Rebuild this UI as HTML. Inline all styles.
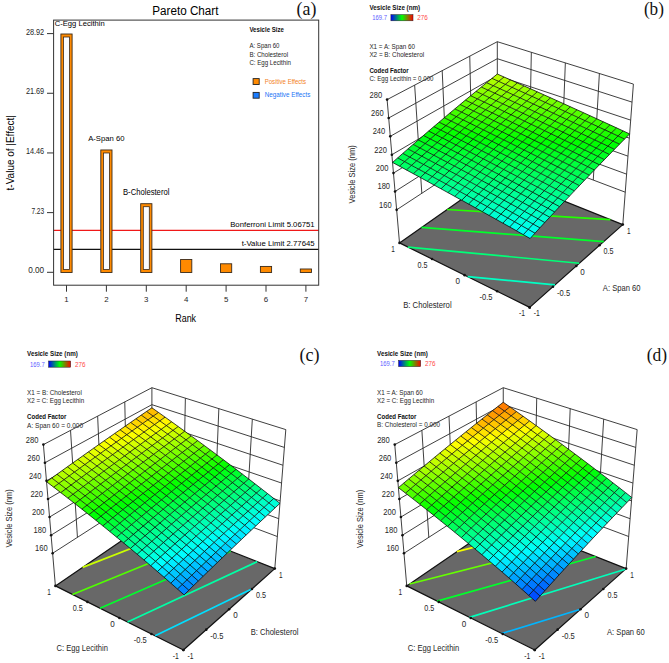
<!DOCTYPE html>
<html><head><meta charset="utf-8"><style>
html,body{margin:0;padding:0;background:#fff;}
svg{display:block;}
text{font-family:"Liberation Sans",sans-serif;}
</style></head><body>
<svg width="669" height="663" viewBox="0 0 669 663">
<defs><linearGradient id="cb" x1="0" x2="1" y1="0" y2="0">
<stop offset="0" stop-color="#0000ff"/><stop offset="0.25" stop-color="#007f80"/><stop offset="0.5" stop-color="#00ff00"/><stop offset="0.75" stop-color="#808000"/><stop offset="1" stop-color="#ff0000"/>
</linearGradient></defs>
<rect width="669" height="663" fill="#fff"/>
<line x1="53.6" y1="230.47" x2="318.7" y2="230.47" stroke="#f01818" stroke-width="1.2"/>
<line x1="53.6" y1="249.38" x2="318.7" y2="249.38" stroke="#111" stroke-width="1.3"/>
<rect x="60.90" y="34.00" width="11.2" height="238.50" fill="#ff8a00" stroke="#3a2a1a" stroke-width="0.9"/>
<rect x="63.50" y="37.00" width="6.0" height="232.50" fill="#fbfcff" stroke="#3a2a1a" stroke-width="0.8"/>
<rect x="100.80" y="149.97" width="11.2" height="122.53" fill="#ff8a00" stroke="#3a2a1a" stroke-width="0.9"/>
<rect x="103.40" y="152.97" width="6.0" height="116.53" fill="#fbfcff" stroke="#3a2a1a" stroke-width="0.8"/>
<rect x="140.70" y="203.70" width="11.2" height="68.80" fill="#ff8a00" stroke="#3a2a1a" stroke-width="0.9"/>
<rect x="143.30" y="206.70" width="6.0" height="62.80" fill="#fbfcff" stroke="#3a2a1a" stroke-width="0.8"/>
<rect x="180.60" y="259.49" width="11.2" height="13.01" fill="#ff8a00" stroke="#3a2a1a" stroke-width="0.9"/>
<rect x="220.50" y="263.79" width="11.2" height="8.71" fill="#ff8a00" stroke="#3a2a1a" stroke-width="0.9"/>
<rect x="260.40" y="266.43" width="11.2" height="6.07" fill="#ff8a00" stroke="#3a2a1a" stroke-width="0.9"/>
<rect x="300.30" y="268.99" width="11.2" height="3.51" fill="#ff8a00" stroke="#3a2a1a" stroke-width="0.9"/>
<rect x="53.6" y="20.1" width="265.10" height="265.10" fill="none" stroke="#333" stroke-width="1"/>
<line x1="47" y1="272.30" x2="53.6" y2="272.30" stroke="#333" stroke-width="1"/>
<text x="44.20" y="273.20" font-size="8.6" textLength="16.00" lengthAdjust="spacingAndGlyphs" text-anchor="end" fill="#262626">0.00</text>
<line x1="47" y1="212.62" x2="53.6" y2="212.62" stroke="#333" stroke-width="1"/>
<text x="44.20" y="213.53" font-size="8.6" textLength="12.80" lengthAdjust="spacingAndGlyphs" text-anchor="end" fill="#262626">7.23</text>
<line x1="47" y1="152.95" x2="53.6" y2="152.95" stroke="#333" stroke-width="1"/>
<text x="44.20" y="153.85" font-size="8.6" textLength="18.30" lengthAdjust="spacingAndGlyphs" text-anchor="end" fill="#262626">14.46</text>
<line x1="47" y1="93.27" x2="53.6" y2="93.27" stroke="#333" stroke-width="1"/>
<text x="44.20" y="94.17" font-size="8.6" textLength="18.30" lengthAdjust="spacingAndGlyphs" text-anchor="end" fill="#262626">21.69</text>
<line x1="47" y1="33.60" x2="53.6" y2="33.60" stroke="#333" stroke-width="1"/>
<text x="44.20" y="34.50" font-size="8.6" textLength="18.30" lengthAdjust="spacingAndGlyphs" text-anchor="end" fill="#262626">28.92</text>
<line x1="66.50" y1="285.2" x2="66.50" y2="291.7" stroke="#333" stroke-width="1"/>
<text x="66.50" y="302.20" font-size="7.9" text-anchor="middle" fill="#262626">1</text>
<line x1="106.40" y1="285.2" x2="106.40" y2="291.7" stroke="#333" stroke-width="1"/>
<text x="106.40" y="302.20" font-size="7.9" text-anchor="middle" fill="#262626">2</text>
<line x1="146.30" y1="285.2" x2="146.30" y2="291.7" stroke="#333" stroke-width="1"/>
<text x="146.30" y="302.20" font-size="7.9" text-anchor="middle" fill="#262626">3</text>
<line x1="186.20" y1="285.2" x2="186.20" y2="291.7" stroke="#333" stroke-width="1"/>
<text x="186.20" y="302.20" font-size="7.9" text-anchor="middle" fill="#262626">4</text>
<line x1="226.10" y1="285.2" x2="226.10" y2="291.7" stroke="#333" stroke-width="1"/>
<text x="226.10" y="302.20" font-size="7.9" text-anchor="middle" fill="#262626">5</text>
<line x1="266.00" y1="285.2" x2="266.00" y2="291.7" stroke="#333" stroke-width="1"/>
<text x="266.00" y="302.20" font-size="7.9" text-anchor="middle" fill="#262626">6</text>
<line x1="305.90" y1="285.2" x2="305.90" y2="291.7" stroke="#333" stroke-width="1"/>
<text x="305.90" y="302.20" font-size="7.9" text-anchor="middle" fill="#262626">7</text>
<text x="152.20" y="15.30" font-size="12.3" textLength="66.30" lengthAdjust="spacingAndGlyphs">Pareto Chart</text>
<text x="296.60" y="14.90" font-size="18.5" style="font-family:&quot;Liberation Serif&quot;,serif" textLength="19.80" lengthAdjust="spacingAndGlyphs" fill="#111">(a)</text>
<text x="54.70" y="25.60" font-size="7.8" textLength="50.00" lengthAdjust="spacingAndGlyphs">C-Egg Lecithin</text>
<text x="88.20" y="141.40" font-size="8.1" textLength="36.30" lengthAdjust="spacingAndGlyphs">A-Span 60</text>
<text x="123.00" y="194.70" font-size="8.2" textLength="46.40" lengthAdjust="spacingAndGlyphs">B-Cholesterol</text>
<text x="314.70" y="227.00" font-size="8.1" textLength="84.50" lengthAdjust="spacingAndGlyphs" text-anchor="end">Bonferroni Limit 5.06751</text>
<text x="314.70" y="245.60" font-size="8.1" textLength="73.00" lengthAdjust="spacingAndGlyphs" text-anchor="end">t-Value Limit 2.77645</text>
<text x="175.20" y="322.00" font-size="10.6" textLength="20.90" lengthAdjust="spacingAndGlyphs">Rank</text>
<text x="14.50" y="190.40" font-size="11.2" textLength="75.30" lengthAdjust="spacingAndGlyphs" transform="rotate(-90 14.50 190.40)">t-Value of |Effect|</text>
<text x="249.40" y="31.50" font-size="7.1" textLength="34.50" lengthAdjust="spacingAndGlyphs" fill="#111" font-weight="bold">Vesicle Size</text>
<text x="249.40" y="48.00" font-size="6.8" textLength="30.10" lengthAdjust="spacingAndGlyphs" fill="#262626">A: Span 60</text>
<text x="249.40" y="56.70" font-size="6.8" textLength="38.70" lengthAdjust="spacingAndGlyphs" fill="#262626">B: Cholesterol</text>
<text x="249.40" y="64.90" font-size="6.8" textLength="41.60" lengthAdjust="spacingAndGlyphs" fill="#262626">C: Egg Lecithin</text>
<rect x="253.1" y="78.6" width="6.1" height="5.9" fill="#ff8a00" stroke="#222" stroke-width="0.9"/>
<rect x="253.1" y="92.4" width="6.1" height="5.8" fill="#1a7cff" stroke="#222" stroke-width="0.9"/>
<text x="264.70" y="83.70" font-size="6.8" textLength="41.40" lengthAdjust="spacingAndGlyphs" fill="#f3821e">Positive Effects</text>
<text x="264.70" y="97.40" font-size="6.8" textLength="45.60" lengthAdjust="spacingAndGlyphs" fill="#2275f5">Negative Effects</text>
<polygon points="396.64,209.83 497.38,143.70 497.30,41.70 387.10,99.60" fill="#fff"/>
<line x1="396.64" y1="209.83" x2="497.38" y2="143.70" stroke="#2a2a2a" stroke-width="0.9"/>
<line x1="497.38" y1="143.70" x2="625.25" y2="192.18" stroke="#2a2a2a" stroke-width="0.9"/>
<line x1="395.05" y1="191.46" x2="497.36" y2="126.70" stroke="#2a2a2a" stroke-width="0.9"/>
<line x1="497.36" y1="126.70" x2="626.61" y2="174.16" stroke="#2a2a2a" stroke-width="0.9"/>
<line x1="393.46" y1="173.09" x2="497.35" y2="109.70" stroke="#2a2a2a" stroke-width="0.9"/>
<line x1="497.35" y1="109.70" x2="627.96" y2="156.15" stroke="#2a2a2a" stroke-width="0.9"/>
<line x1="391.87" y1="154.72" x2="497.34" y2="92.70" stroke="#2a2a2a" stroke-width="0.9"/>
<line x1="497.34" y1="92.70" x2="629.32" y2="138.14" stroke="#2a2a2a" stroke-width="0.9"/>
<line x1="390.28" y1="136.34" x2="497.33" y2="75.70" stroke="#2a2a2a" stroke-width="0.9"/>
<line x1="497.33" y1="75.70" x2="630.68" y2="120.13" stroke="#2a2a2a" stroke-width="0.9"/>
<line x1="388.69" y1="117.97" x2="497.31" y2="58.70" stroke="#2a2a2a" stroke-width="0.9"/>
<line x1="497.31" y1="58.70" x2="632.04" y2="102.11" stroke="#2a2a2a" stroke-width="0.9"/>
<line x1="387.10" y1="99.60" x2="497.30" y2="41.70" stroke="#2a2a2a" stroke-width="0.9"/>
<line x1="497.30" y1="41.70" x2="633.40" y2="84.10" stroke="#2a2a2a" stroke-width="0.9"/>
<line x1="421.82" y1="193.30" x2="414.65" y2="85.12" stroke="#2a2a2a" stroke-width="0.9"/>
<line x1="593.28" y1="180.06" x2="599.38" y2="73.50" stroke="#2a2a2a" stroke-width="0.9"/>
<line x1="447.01" y1="176.77" x2="442.20" y2="70.65" stroke="#2a2a2a" stroke-width="0.9"/>
<line x1="561.31" y1="167.94" x2="565.35" y2="62.90" stroke="#2a2a2a" stroke-width="0.9"/>
<line x1="472.19" y1="160.23" x2="469.75" y2="56.17" stroke="#2a2a2a" stroke-width="0.9"/>
<line x1="529.34" y1="155.82" x2="531.33" y2="52.30" stroke="#2a2a2a" stroke-width="0.9"/>
<line x1="399.50" y1="242.90" x2="387.10" y2="99.60" stroke="#2a2a2a" stroke-width="0.9"/>
<line x1="497.40" y1="174.30" x2="497.30" y2="41.70" stroke="#2a2a2a" stroke-width="0.9"/>
<line x1="622.80" y1="224.60" x2="633.40" y2="84.10" stroke="#2a2a2a" stroke-width="0.9"/>
<polygon points="529.70,307.40 622.80,224.60 497.40,174.30 399.50,242.90" fill="#686868" stroke="#111" stroke-width="1.2" stroke-linejoin="round"/>
<polyline points="554.97,284.92 467.64,276.65" fill="none" stroke="#00ffc3" stroke-width="1.7"/>
<polyline points="579.32,263.27 407.83,247.03" fill="none" stroke="#00ff77" stroke-width="1.7"/>
<polyline points="603.68,241.61 421.54,227.45" fill="none" stroke="#00ff2b" stroke-width="1.7"/>
<polyline points="610.43,219.64 447.15,209.51" fill="none" stroke="#22ff00" stroke-width="1.7"/>
<polyline points="552.83,196.53 472.76,191.57" fill="none" stroke="#6eff00" stroke-width="1.7"/>
<g stroke="none"><polygon points="530.11,238.52 534.99,233.17 528.20,229.36 523.30,234.66" fill="#00fffb"/><polygon points="523.30,234.66 528.20,229.36 521.39,225.55 516.48,230.81" fill="#00fff3"/><polygon points="516.48,230.81 521.39,225.55 514.58,221.75 509.66,226.97" fill="#00ffeb"/><polygon points="509.66,226.97 514.58,221.75 507.76,217.96 502.83,223.13" fill="#00ffe2"/><polygon points="502.83,223.13 507.76,217.96 500.93,214.16 495.99,219.30" fill="#00ffda"/><polygon points="495.99,219.30 500.93,214.16 494.10,210.38 489.15,215.47" fill="#00ffd2"/><polygon points="489.15,215.47 494.10,210.38 487.26,206.60 482.29,211.65" fill="#00ffc9"/><polygon points="482.29,211.65 487.26,206.60 480.41,202.82 475.43,207.83" fill="#00ffc1"/><polygon points="475.43,207.83 480.41,202.82 473.56,199.05 468.57,204.02" fill="#00ffb9"/><polygon points="468.57,204.02 473.56,199.05 466.69,195.29 461.69,200.22" fill="#00ffb1"/><polygon points="461.69,200.22 466.69,195.29 459.82,191.53 454.81,196.42" fill="#00ffa8"/><polygon points="454.81,196.42 459.82,191.53 452.95,187.77 447.92,192.62" fill="#00ffa0"/><polygon points="447.92,192.62 452.95,187.77 446.06,184.03 441.02,188.83" fill="#00ff98"/><polygon points="441.02,188.83 446.06,184.03 439.17,180.28 434.12,185.05" fill="#00ff8f"/><polygon points="434.12,185.05 439.17,180.28 432.27,176.54 427.21,181.27" fill="#00ff87"/><polygon points="427.21,181.27 432.27,176.54 425.36,172.81 420.29,177.49" fill="#00ff7f"/><polygon points="420.29,177.49 425.36,172.81 418.45,169.08 413.36,173.72" fill="#00ff76"/><polygon points="413.36,173.72 418.45,169.08 411.53,165.36 406.43,169.96" fill="#00ff6e"/><polygon points="406.43,169.96 411.53,165.36 404.60,161.64 399.49,166.20" fill="#00ff66"/><polygon points="399.49,166.20 404.60,161.64 397.66,157.93 392.54,162.45" fill="#00ff5e"/><polygon points="534.99,233.17 539.89,227.84 533.10,224.07 528.20,229.36" fill="#00ffed"/><polygon points="528.20,229.36 533.10,224.07 526.31,220.31 521.39,225.55" fill="#00ffe4"/><polygon points="521.39,225.55 526.31,220.31 519.51,216.55 514.58,221.75" fill="#00ffdc"/><polygon points="514.58,221.75 519.51,216.55 512.70,212.79 507.76,217.96" fill="#00ffd4"/><polygon points="507.76,217.96 512.70,212.79 505.89,209.04 500.93,214.16" fill="#00ffcb"/><polygon points="500.93,214.16 505.89,209.04 499.07,205.30 494.10,210.38" fill="#00ffc3"/><polygon points="494.10,210.38 499.07,205.30 492.24,201.56 487.26,206.60" fill="#00ffbb"/><polygon points="487.26,206.60 492.24,201.56 485.40,197.82 480.41,202.82" fill="#00ffb3"/><polygon points="480.41,202.82 485.40,197.82 478.56,194.09 473.56,199.05" fill="#00ffaa"/><polygon points="473.56,199.05 478.56,194.09 471.71,190.37 466.69,195.29" fill="#00ffa2"/><polygon points="466.69,195.29 471.71,190.37 464.85,186.65 459.82,191.53" fill="#00ff9a"/><polygon points="459.82,191.53 464.85,186.65 457.98,182.94 452.95,187.77" fill="#00ff91"/><polygon points="452.95,187.77 457.98,182.94 451.11,179.23 446.06,184.03" fill="#00ff89"/><polygon points="446.06,184.03 451.11,179.23 444.23,175.53 439.17,180.28" fill="#00ff81"/><polygon points="439.17,180.28 444.23,175.53 437.34,171.83 432.27,176.54" fill="#00ff78"/><polygon points="432.27,176.54 437.34,171.83 430.45,168.14 425.36,172.81" fill="#00ff70"/><polygon points="425.36,172.81 430.45,168.14 423.55,164.45 418.45,169.08" fill="#00ff68"/><polygon points="418.45,169.08 423.55,164.45 416.64,160.77 411.53,165.36" fill="#00ff60"/><polygon points="411.53,165.36 416.64,160.77 409.72,157.09 404.60,161.64" fill="#00ff57"/><polygon points="404.60,161.64 409.72,157.09 402.80,153.42 397.66,157.93" fill="#00ff4f"/><polygon points="539.89,227.84 544.79,222.52 538.02,218.79 533.10,224.07" fill="#00ffde"/><polygon points="533.10,224.07 538.02,218.79 531.24,215.07 526.31,220.31" fill="#00ffd6"/><polygon points="526.31,220.31 531.24,215.07 524.45,211.35 519.51,216.55" fill="#00ffce"/><polygon points="519.51,216.55 524.45,211.35 517.66,207.64 512.70,212.79" fill="#00ffc5"/><polygon points="512.70,212.79 517.66,207.64 510.85,203.93 505.89,209.04" fill="#00ffbd"/><polygon points="505.89,209.04 510.85,203.93 504.04,200.22 499.07,205.30" fill="#00ffb5"/><polygon points="499.07,205.30 504.04,200.22 497.23,196.53 492.24,201.56" fill="#00ffac"/><polygon points="492.24,201.56 497.23,196.53 490.40,192.83 485.40,197.82" fill="#00ffa4"/><polygon points="485.40,197.82 490.40,192.83 483.57,189.15 478.56,194.09" fill="#00ff9c"/><polygon points="478.56,194.09 483.57,189.15 476.73,185.46 471.71,190.37" fill="#00ff93"/><polygon points="471.71,190.37 476.73,185.46 469.89,181.79 464.85,186.65" fill="#00ff8b"/><polygon points="464.85,186.65 469.89,181.79 463.03,178.11 457.98,182.94" fill="#00ff83"/><polygon points="457.98,182.94 463.03,178.11 456.17,174.45 451.11,179.23" fill="#00ff7b"/><polygon points="451.11,179.23 456.17,174.45 449.30,170.78 444.23,175.53" fill="#00ff72"/><polygon points="444.23,175.53 449.30,170.78 442.43,167.13 437.34,171.83" fill="#00ff6a"/><polygon points="437.34,171.83 442.43,167.13 435.55,163.48 430.45,168.14" fill="#00ff62"/><polygon points="430.45,168.14 435.55,163.48 428.66,159.83 423.55,164.45" fill="#00ff59"/><polygon points="423.55,164.45 428.66,159.83 421.76,156.19 416.64,160.77" fill="#00ff51"/><polygon points="416.64,160.77 421.76,156.19 414.86,152.55 409.72,157.09" fill="#00ff49"/><polygon points="409.72,157.09 414.86,152.55 407.95,148.92 402.80,153.42" fill="#00ff40"/><polygon points="544.79,222.52 549.71,217.22 542.95,213.53 538.02,218.79" fill="#00ffd0"/><polygon points="538.02,218.79 542.95,213.53 536.18,209.84 531.24,215.07" fill="#00ffc7"/><polygon points="531.24,215.07 536.18,209.84 529.40,206.17 524.45,211.35" fill="#00ffbf"/><polygon points="524.45,211.35 529.40,206.17 522.62,202.49 517.66,207.64" fill="#00ffb7"/><polygon points="517.66,207.64 522.62,202.49 515.83,198.83 510.85,203.93" fill="#00ffae"/><polygon points="510.85,203.93 515.83,198.83 509.03,195.16 504.04,200.22" fill="#00ffa6"/><polygon points="504.04,200.22 509.03,195.16 502.22,191.51 497.23,196.53" fill="#00ff9e"/><polygon points="497.23,196.53 502.22,191.51 495.41,187.86 490.40,192.83" fill="#00ff95"/><polygon points="490.40,192.83 495.41,187.86 488.59,184.21 483.57,189.15" fill="#00ff8d"/><polygon points="483.57,189.15 488.59,184.21 481.77,180.57 476.73,185.46" fill="#00ff85"/><polygon points="476.73,185.46 481.77,180.57 474.93,176.93 469.89,181.79" fill="#00ff7d"/><polygon points="469.89,181.79 474.93,176.93 468.09,173.30 463.03,178.11" fill="#00ff74"/><polygon points="463.03,178.11 468.09,173.30 461.24,169.67 456.17,174.45" fill="#00ff6c"/><polygon points="456.17,174.45 461.24,169.67 454.39,166.05 449.30,170.78" fill="#00ff64"/><polygon points="449.30,170.78 454.39,166.05 447.53,162.44 442.43,167.13" fill="#00ff5b"/><polygon points="442.43,167.13 447.53,162.44 440.66,158.83 435.55,163.48" fill="#00ff53"/><polygon points="435.55,163.48 440.66,158.83 433.78,155.22 428.66,159.83" fill="#00ff4b"/><polygon points="428.66,159.83 433.78,155.22 426.90,151.62 421.76,156.19" fill="#00ff42"/><polygon points="421.76,156.19 426.90,151.62 420.01,148.02 414.86,152.55" fill="#00ff3a"/><polygon points="414.86,152.55 420.01,148.02 413.11,144.43 407.95,148.92" fill="#00ff32"/><polygon points="549.71,217.22 554.63,211.92 547.88,208.27 542.95,213.53" fill="#00ffc1"/><polygon points="542.95,213.53 547.88,208.27 541.13,204.63 536.18,209.84" fill="#00ffb9"/><polygon points="536.18,209.84 541.13,204.63 534.36,201.00 529.40,206.17" fill="#00ffb0"/><polygon points="529.40,206.17 534.36,201.00 527.59,197.36 522.62,202.49" fill="#00ffa8"/><polygon points="522.62,202.49 527.59,197.36 520.81,193.74 515.83,198.83" fill="#00ffa0"/><polygon points="515.83,198.83 520.81,193.74 514.02,190.12 509.03,195.16" fill="#00ff97"/><polygon points="509.03,195.16 514.02,190.12 507.23,186.50 502.22,191.51" fill="#00ff8f"/><polygon points="502.22,191.51 507.23,186.50 500.43,182.89 495.41,187.86" fill="#00ff87"/><polygon points="495.41,187.86 500.43,182.89 493.62,179.28 488.59,184.21" fill="#00ff7f"/><polygon points="488.59,184.21 493.62,179.28 486.81,175.68 481.77,180.57" fill="#00ff76"/><polygon points="481.77,180.57 486.81,175.68 479.99,172.09 474.93,176.93" fill="#00ff6e"/><polygon points="474.93,176.93 479.99,172.09 473.16,168.50 468.09,173.30" fill="#00ff66"/><polygon points="468.09,173.30 473.16,168.50 466.33,164.91 461.24,169.67" fill="#00ff5d"/><polygon points="461.24,169.67 466.33,164.91 459.49,161.33 454.39,166.05" fill="#00ff55"/><polygon points="454.39,166.05 459.49,161.33 452.64,157.76 447.53,162.44" fill="#00ff4d"/><polygon points="447.53,162.44 452.64,157.76 445.78,154.19 440.66,158.83" fill="#00ff44"/><polygon points="440.66,158.83 445.78,154.19 438.92,150.62 433.78,155.22" fill="#00ff3c"/><polygon points="433.78,155.22 438.92,150.62 432.05,147.06 426.90,151.62" fill="#00ff34"/><polygon points="426.90,151.62 432.05,147.06 425.17,143.51 420.01,148.02" fill="#00ff2c"/><polygon points="420.01,148.02 425.17,143.51 418.29,139.96 413.11,144.43" fill="#00ff23"/><polygon points="554.63,211.92 559.57,206.64 552.83,203.03 547.88,208.27" fill="#00ffb2"/><polygon points="547.88,208.27 552.83,203.03 546.08,199.43 541.13,204.63" fill="#00ffaa"/><polygon points="541.13,204.63 546.08,199.43 539.33,195.84 534.36,201.00" fill="#00ffa2"/><polygon points="534.36,201.00 539.33,195.84 532.57,192.25 527.59,197.36" fill="#00ff99"/><polygon points="527.59,197.36 532.57,192.25 525.80,188.66 520.81,193.74" fill="#00ff91"/><polygon points="520.81,193.74 525.80,188.66 519.03,185.08 514.02,190.12" fill="#00ff89"/><polygon points="514.02,190.12 519.03,185.08 512.25,181.51 507.23,186.50" fill="#00ff81"/><polygon points="507.23,186.50 512.25,181.51 505.46,177.94 500.43,182.89" fill="#00ff78"/><polygon points="500.43,182.89 505.46,177.94 498.67,174.37 493.62,179.28" fill="#00ff70"/><polygon points="493.62,179.28 498.67,174.37 491.87,170.81 486.81,175.68" fill="#00ff68"/><polygon points="486.81,175.68 491.87,170.81 485.06,167.26 479.99,172.09" fill="#00ff5f"/><polygon points="479.99,172.09 485.06,167.26 478.24,163.71 473.16,168.50" fill="#00ff57"/><polygon points="473.16,168.50 478.24,163.71 471.42,160.16 466.33,164.91" fill="#00ff4f"/><polygon points="466.33,164.91 471.42,160.16 464.59,156.62 459.49,161.33" fill="#00ff46"/><polygon points="459.49,161.33 464.59,156.62 457.76,153.09 452.64,157.76" fill="#00ff3e"/><polygon points="452.64,157.76 457.76,153.09 450.91,149.56 445.78,154.19" fill="#00ff36"/><polygon points="445.78,154.19 450.91,149.56 444.06,146.03 438.92,150.62" fill="#00ff2e"/><polygon points="438.92,150.62 444.06,146.03 437.21,142.51 432.05,147.06" fill="#00ff25"/><polygon points="432.05,147.06 437.21,142.51 430.34,139.00 425.17,143.51" fill="#00ff1d"/><polygon points="425.17,143.51 430.34,139.00 423.47,135.49 418.29,139.96" fill="#00ff15"/><polygon points="559.57,206.64 564.51,201.37 557.79,197.80 552.83,203.03" fill="#00ffa4"/><polygon points="552.83,203.03 557.79,197.80 551.05,194.24 546.08,199.43" fill="#00ff9c"/><polygon points="546.08,199.43 551.05,194.24 544.31,190.69 539.33,195.84" fill="#00ff93"/><polygon points="539.33,195.84 544.31,190.69 537.56,187.14 532.57,192.25" fill="#00ff8b"/><polygon points="532.57,192.25 537.56,187.14 530.81,183.59 525.80,188.66" fill="#00ff83"/><polygon points="525.80,188.66 530.81,183.59 524.05,180.06 519.03,185.08" fill="#00ff7a"/><polygon points="519.03,185.08 524.05,180.06 517.28,176.52 512.25,181.51" fill="#00ff72"/><polygon points="512.25,181.51 517.28,176.52 510.50,172.99 505.46,177.94" fill="#00ff6a"/><polygon points="505.46,177.94 510.50,172.99 503.72,169.47 498.67,174.37" fill="#00ff61"/><polygon points="498.67,174.37 503.72,169.47 496.93,165.95 491.87,170.81" fill="#00ff59"/><polygon points="491.87,170.81 496.93,165.95 490.14,162.43 485.06,167.26" fill="#00ff51"/><polygon points="485.06,167.26 490.14,162.43 483.34,158.92 478.24,163.71" fill="#00ff49"/><polygon points="478.24,163.71 483.34,158.92 476.53,155.42 471.42,160.16" fill="#00ff40"/><polygon points="471.42,160.16 476.53,155.42 469.71,151.92 464.59,156.62" fill="#00ff38"/><polygon points="464.59,156.62 469.71,151.92 462.89,148.43 457.76,153.09" fill="#00ff30"/><polygon points="457.76,153.09 462.89,148.43 456.06,144.94 450.91,149.56" fill="#00ff27"/><polygon points="450.91,149.56 456.06,144.94 449.22,141.45 444.06,146.03" fill="#00ff1f"/><polygon points="444.06,146.03 449.22,141.45 442.38,137.97 437.21,142.51" fill="#00ff17"/><polygon points="437.21,142.51 442.38,137.97 435.53,134.50 430.34,139.00" fill="#00ff0e"/><polygon points="430.34,139.00 435.53,134.50 428.67,131.03 423.47,135.49" fill="#00ff06"/><polygon points="564.51,201.37 569.47,196.11 562.75,192.58 557.79,197.80" fill="#00ff95"/><polygon points="557.79,197.80 562.75,192.58 556.03,189.07 551.05,194.24" fill="#00ff8d"/><polygon points="551.05,194.24 556.03,189.07 549.30,185.55 544.31,190.69" fill="#00ff85"/><polygon points="544.31,190.69 549.30,185.55 542.57,182.04 537.56,187.14" fill="#00ff7c"/><polygon points="537.56,187.14 542.57,182.04 535.82,178.54 530.81,183.59" fill="#00ff74"/><polygon points="530.81,183.59 535.82,178.54 529.07,175.04 524.05,180.06" fill="#00ff6c"/><polygon points="524.05,180.06 529.07,175.04 522.32,171.55 517.28,176.52" fill="#00ff63"/><polygon points="517.28,176.52 522.32,171.55 515.56,168.06 510.50,172.99" fill="#00ff5b"/><polygon points="510.50,172.99 515.56,168.06 508.79,164.58 503.72,169.47" fill="#00ff53"/><polygon points="503.72,169.47 508.79,164.58 502.01,161.10 496.93,165.95" fill="#00ff4b"/><polygon points="496.93,165.95 502.01,161.10 495.23,157.62 490.14,162.43" fill="#00ff42"/><polygon points="490.14,162.43 495.23,157.62 488.44,154.16 483.34,158.92" fill="#00ff3a"/><polygon points="483.34,158.92 488.44,154.16 481.64,150.69 476.53,155.42" fill="#00ff32"/><polygon points="476.53,155.42 481.64,150.69 474.84,147.23 469.71,151.92" fill="#00ff29"/><polygon points="469.71,151.92 474.84,147.23 468.03,143.78 462.89,148.43" fill="#00ff21"/><polygon points="462.89,148.43 468.03,143.78 461.21,140.33 456.06,144.94" fill="#00ff19"/><polygon points="456.06,144.94 461.21,140.33 454.39,136.89 449.22,141.45" fill="#00ff10"/><polygon points="449.22,141.45 454.39,136.89 447.56,133.45 442.38,137.97" fill="#00ff08"/><polygon points="442.38,137.97 447.56,133.45 440.72,130.01 435.53,134.50" fill="#00ff00"/><polygon points="435.53,134.50 440.72,130.01 433.88,126.58 428.67,131.03" fill="#08ff00"/><polygon points="569.47,196.11 574.43,190.86 567.73,187.38 562.75,192.58" fill="#00ff87"/><polygon points="562.75,192.58 567.73,187.38 561.02,183.90 556.03,189.07" fill="#00ff7e"/><polygon points="556.03,189.07 561.02,183.90 554.30,180.43 549.30,185.55" fill="#00ff76"/><polygon points="549.30,185.55 554.30,180.43 547.58,176.96 542.57,182.04" fill="#00ff6e"/><polygon points="542.57,182.04 547.58,176.96 540.85,173.50 535.82,178.54" fill="#00ff65"/><polygon points="535.82,178.54 540.85,173.50 534.11,170.04 529.07,175.04" fill="#00ff5d"/><polygon points="529.07,175.04 534.11,170.04 527.37,166.59 522.32,171.55" fill="#00ff55"/><polygon points="522.32,171.55 527.37,166.59 520.62,163.14 515.56,168.06" fill="#00ff4d"/><polygon points="515.56,168.06 520.62,163.14 513.86,159.70 508.79,164.58" fill="#00ff44"/><polygon points="508.79,164.58 513.86,159.70 507.10,156.26 502.01,161.10" fill="#00ff3c"/><polygon points="502.01,161.10 507.10,156.26 500.33,152.83 495.23,157.62" fill="#00ff34"/><polygon points="495.23,157.62 500.33,152.83 493.55,149.40 488.44,154.16" fill="#00ff2b"/><polygon points="488.44,154.16 493.55,149.40 486.77,145.97 481.64,150.69" fill="#00ff23"/><polygon points="481.64,150.69 486.77,145.97 479.98,142.56 474.84,147.23" fill="#00ff1b"/><polygon points="474.84,147.23 479.98,142.56 473.18,139.14 468.03,143.78" fill="#00ff12"/><polygon points="468.03,143.78 473.18,139.14 466.38,135.73 461.21,140.33" fill="#00ff0a"/><polygon points="461.21,140.33 466.38,135.73 459.57,132.33 454.39,136.89" fill="#00ff02"/><polygon points="454.39,136.89 459.57,132.33 452.75,128.93 447.56,133.45" fill="#06ff00"/><polygon points="447.56,133.45 452.75,128.93 445.93,125.54 440.72,130.01" fill="#0fff00"/><polygon points="440.72,130.01 445.93,125.54 439.10,122.15 433.88,126.58" fill="#17ff00"/><polygon points="574.43,190.86 579.40,185.63 572.71,182.18 567.73,187.38" fill="#00ff78"/><polygon points="567.73,187.38 572.71,182.18 566.01,178.75 561.02,183.90" fill="#00ff70"/><polygon points="561.02,183.90 566.01,178.75 559.31,175.32 554.30,180.43" fill="#00ff67"/><polygon points="554.30,180.43 559.31,175.32 552.60,171.89 547.58,176.96" fill="#00ff5f"/><polygon points="547.58,176.96 552.60,171.89 545.88,168.47 540.85,173.50" fill="#00ff57"/><polygon points="540.85,173.50 545.88,168.47 539.16,165.05 534.11,170.04" fill="#00ff4f"/><polygon points="534.11,170.04 539.16,165.05 532.43,161.64 527.37,166.59" fill="#00ff46"/><polygon points="527.37,166.59 532.43,161.64 525.69,158.23 520.62,163.14" fill="#00ff3e"/><polygon points="520.62,163.14 525.69,158.23 518.95,154.83 513.86,159.70" fill="#00ff36"/><polygon points="513.86,159.70 518.95,154.83 512.20,151.43 507.10,156.26" fill="#00ff2d"/><polygon points="507.10,156.26 512.20,151.43 505.44,148.04 500.33,152.83" fill="#00ff25"/><polygon points="500.33,152.83 505.44,148.04 498.68,144.65 493.55,149.40" fill="#00ff1d"/><polygon points="493.55,149.40 498.68,144.65 491.91,141.27 486.77,145.97" fill="#00ff14"/><polygon points="486.77,145.97 491.91,141.27 485.13,137.89 479.98,142.56" fill="#00ff0c"/><polygon points="479.98,142.56 485.13,137.89 478.35,134.52 473.18,139.14" fill="#00ff04"/><polygon points="473.18,139.14 478.35,134.52 471.56,131.15 466.38,135.73" fill="#04ff00"/><polygon points="466.38,135.73 471.56,131.15 464.76,127.78 459.57,132.33" fill="#0dff00"/><polygon points="459.57,132.33 464.76,127.78 457.96,124.42 452.75,128.93" fill="#15ff00"/><polygon points="452.75,128.93 457.96,124.42 451.15,121.07 445.93,125.54" fill="#1dff00"/><polygon points="445.93,125.54 451.15,121.07 444.33,117.72 439.10,122.15" fill="#26ff00"/><polygon points="579.40,185.63 584.38,180.40 577.70,177.00 572.71,182.18" fill="#00ff6a"/><polygon points="572.71,182.18 577.70,177.00 571.02,173.61 566.01,178.75" fill="#00ff61"/><polygon points="566.01,178.75 571.02,173.61 564.33,170.22 559.31,175.32" fill="#00ff59"/><polygon points="559.31,175.32 564.33,170.22 557.63,166.83 552.60,171.89" fill="#00ff51"/><polygon points="552.60,171.89 557.63,166.83 550.93,163.45 545.88,168.47" fill="#00ff48"/><polygon points="545.88,168.47 550.93,163.45 544.22,160.07 539.16,165.05" fill="#00ff40"/><polygon points="539.16,165.05 544.22,160.07 537.50,156.70 532.43,161.64" fill="#00ff38"/><polygon points="532.43,161.64 537.50,156.70 530.78,153.33 525.69,158.23" fill="#00ff2f"/><polygon points="525.69,158.23 530.78,153.33 524.05,149.97 518.95,154.83" fill="#00ff27"/><polygon points="518.95,154.83 524.05,149.97 517.31,146.61 512.20,151.43" fill="#00ff1f"/><polygon points="512.20,151.43 517.31,146.61 510.57,143.26 505.44,148.04" fill="#00ff17"/><polygon points="505.44,148.04 510.57,143.26 503.82,139.91 498.68,144.65" fill="#00ff0e"/><polygon points="498.68,144.65 503.82,139.91 497.06,136.57 491.91,141.27" fill="#00ff06"/><polygon points="491.91,141.27 497.06,136.57 490.30,133.23 485.13,137.89" fill="#02ff00"/><polygon points="485.13,137.89 490.30,133.23 483.53,129.90 478.35,134.52" fill="#0bff00"/><polygon points="478.35,134.52 483.53,129.90 476.75,126.57 471.56,131.15" fill="#13ff00"/><polygon points="471.56,131.15 476.75,126.57 469.97,123.25 464.76,127.78" fill="#1bff00"/><polygon points="464.76,127.78 469.97,123.25 463.18,119.93 457.96,124.42" fill="#24ff00"/><polygon points="457.96,124.42 463.18,119.93 456.38,116.61 451.15,121.07" fill="#2cff00"/><polygon points="451.15,121.07 456.38,116.61 449.58,113.31 444.33,117.72" fill="#34ff00"/><polygon points="584.38,180.40 589.37,175.19 582.71,171.83 577.70,177.00" fill="#00ff5b"/><polygon points="577.70,177.00 582.71,171.83 576.04,168.48 571.02,173.61" fill="#00ff53"/><polygon points="571.02,173.61 576.04,168.48 569.36,165.13 564.33,170.22" fill="#00ff4a"/><polygon points="564.33,170.22 569.36,165.13 562.67,161.78 557.63,166.83" fill="#00ff42"/><polygon points="557.63,166.83 562.67,161.78 555.98,158.44 550.93,163.45" fill="#00ff3a"/><polygon points="550.93,163.45 555.98,158.44 549.28,155.10 544.22,160.07" fill="#00ff31"/><polygon points="544.22,160.07 549.28,155.10 542.58,151.77 537.50,156.70" fill="#00ff29"/><polygon points="537.50,156.70 542.58,151.77 535.87,148.45 530.78,153.33" fill="#00ff21"/><polygon points="530.78,153.33 535.87,148.45 529.15,145.13 524.05,149.97" fill="#00ff19"/><polygon points="524.05,149.97 529.15,145.13 522.43,141.81 517.31,146.61" fill="#00ff10"/><polygon points="517.31,146.61 522.43,141.81 515.70,138.50 510.57,143.26" fill="#00ff08"/><polygon points="510.57,143.26 515.70,138.50 508.96,135.19 503.82,139.91" fill="#00ff00"/><polygon points="503.82,139.91 508.96,135.19 502.22,131.89 497.06,136.57" fill="#09ff00"/><polygon points="497.06,136.57 502.22,131.89 495.47,128.59 490.30,133.23" fill="#11ff00"/><polygon points="490.30,133.23 495.47,128.59 488.71,125.29 483.53,129.90" fill="#19ff00"/><polygon points="483.53,129.90 488.71,125.29 481.95,122.01 476.75,126.57" fill="#22ff00"/><polygon points="476.75,126.57 481.95,122.01 475.18,118.72 469.97,123.25" fill="#2aff00"/><polygon points="469.97,123.25 475.18,118.72 468.41,115.44 463.18,119.93" fill="#32ff00"/><polygon points="463.18,119.93 468.41,115.44 461.62,112.17 456.38,116.61" fill="#3aff00"/><polygon points="456.38,116.61 461.62,112.17 454.84,108.90 449.58,113.31" fill="#43ff00"/><polygon points="589.37,175.19 594.37,169.99 587.72,166.67 582.71,171.83" fill="#00ff4c"/><polygon points="582.71,171.83 587.72,166.67 581.06,163.36 576.04,168.48" fill="#00ff44"/><polygon points="576.04,168.48 581.06,163.36 574.40,160.05 569.36,165.13" fill="#00ff3c"/><polygon points="569.36,165.13 574.40,160.05 567.73,156.75 562.67,161.78" fill="#00ff33"/><polygon points="562.67,161.78 567.73,156.75 561.05,153.44 555.98,158.44" fill="#00ff2b"/><polygon points="555.98,158.44 561.05,153.44 554.36,150.15 549.28,155.10" fill="#00ff23"/><polygon points="549.28,155.10 554.36,150.15 547.67,146.86 542.58,151.77" fill="#00ff1b"/><polygon points="542.58,151.77 547.67,146.86 540.97,143.57 535.87,148.45" fill="#00ff12"/><polygon points="535.87,148.45 540.97,143.57 534.27,140.29 529.15,145.13" fill="#00ff0a"/><polygon points="529.15,145.13 534.27,140.29 527.56,137.01 522.43,141.81" fill="#00ff02"/><polygon points="522.43,141.81 527.56,137.01 520.84,133.74 515.70,138.50" fill="#07ff00"/><polygon points="515.70,138.50 520.84,133.74 514.12,130.47 508.96,135.19" fill="#0fff00"/><polygon points="508.96,135.19 514.12,130.47 507.39,127.21 502.22,131.89" fill="#17ff00"/><polygon points="502.22,131.89 507.39,127.21 500.66,123.95 495.47,128.59" fill="#20ff00"/><polygon points="495.47,128.59 500.66,123.95 493.91,120.70 488.71,125.29" fill="#28ff00"/><polygon points="488.71,125.29 493.91,120.70 487.16,117.45 481.95,122.01" fill="#30ff00"/><polygon points="481.95,122.01 487.16,117.45 480.41,114.21 475.18,118.72" fill="#38ff00"/><polygon points="475.18,118.72 480.41,114.21 473.65,110.97 468.41,115.44" fill="#41ff00"/><polygon points="468.41,115.44 473.65,110.97 466.88,107.74 461.62,112.17" fill="#49ff00"/><polygon points="461.62,112.17 466.88,107.74 460.10,104.51 454.84,108.90" fill="#51ff00"/><polygon points="594.37,169.99 599.38,164.81 592.74,161.53 587.72,166.67" fill="#00ff3e"/><polygon points="587.72,166.67 592.74,161.53 586.10,158.25 581.06,163.36" fill="#00ff35"/><polygon points="581.06,163.36 586.10,158.25 579.45,154.99 574.40,160.05" fill="#00ff2d"/><polygon points="574.40,160.05 579.45,154.99 572.79,151.72 567.73,156.75" fill="#00ff25"/><polygon points="567.73,156.75 572.79,151.72 566.12,148.46 561.05,153.44" fill="#00ff1d"/><polygon points="561.05,153.44 566.12,148.46 559.45,145.21 554.36,150.15" fill="#00ff14"/><polygon points="554.36,150.15 559.45,145.21 552.77,141.95 547.67,146.86" fill="#00ff0c"/><polygon points="547.67,146.86 552.77,141.95 546.09,138.71 540.97,143.57" fill="#00ff04"/><polygon points="540.97,143.57 546.09,138.71 539.40,135.47 534.27,140.29" fill="#05ff00"/><polygon points="534.27,140.29 539.40,135.47 532.70,132.23 527.56,137.01" fill="#0dff00"/><polygon points="527.56,137.01 532.70,132.23 526.00,129.00 520.84,133.74" fill="#15ff00"/><polygon points="520.84,133.74 526.00,129.00 519.29,125.77 514.12,130.47" fill="#1eff00"/><polygon points="514.12,130.47 519.29,125.77 512.57,122.55 507.39,127.21" fill="#26ff00"/><polygon points="507.39,127.21 512.57,122.55 505.85,119.33 500.66,123.95" fill="#2eff00"/><polygon points="500.66,123.95 505.85,119.33 499.12,116.12 493.91,120.70" fill="#36ff00"/><polygon points="493.91,120.70 499.12,116.12 492.39,112.91 487.16,117.45" fill="#3fff00"/><polygon points="487.16,117.45 492.39,112.91 485.65,109.71 480.41,114.21" fill="#47ff00"/><polygon points="480.41,114.21 485.65,109.71 478.90,106.51 473.65,110.97" fill="#4fff00"/><polygon points="473.65,110.97 478.90,106.51 472.15,103.31 466.88,107.74" fill="#58ff00"/><polygon points="466.88,107.74 472.15,103.31 465.39,100.12 460.10,104.51" fill="#60ff00"/><polygon points="599.38,164.81 604.40,159.63 597.78,156.39 592.74,161.53" fill="#00ff2f"/><polygon points="592.74,161.53 597.78,156.39 591.14,153.16 586.10,158.25" fill="#00ff27"/><polygon points="586.10,158.25 591.14,153.16 584.50,149.93 579.45,154.99" fill="#00ff1f"/><polygon points="579.45,154.99 584.50,149.93 577.86,146.71 572.79,151.72" fill="#00ff16"/><polygon points="572.79,151.72 577.86,146.71 571.21,143.49 566.12,148.46" fill="#00ff0e"/><polygon points="566.12,148.46 571.21,143.49 564.55,140.27 559.45,145.21" fill="#00ff06"/><polygon points="559.45,145.21 564.55,140.27 557.89,137.06 552.77,141.95" fill="#03ff00"/><polygon points="552.77,141.95 557.89,137.06 551.21,133.86 546.09,138.71" fill="#0bff00"/><polygon points="546.09,138.71 551.21,133.86 544.54,130.66 539.40,135.47" fill="#13ff00"/><polygon points="539.40,135.47 544.54,130.66 537.86,127.46 532.70,132.23" fill="#1bff00"/><polygon points="532.70,132.23 537.86,127.46 531.17,124.27 526.00,129.00" fill="#24ff00"/><polygon points="526.00,129.00 531.17,124.27 524.47,121.08 519.29,125.77" fill="#2cff00"/><polygon points="519.29,125.77 524.47,121.08 517.77,117.90 512.57,122.55" fill="#34ff00"/><polygon points="512.57,122.55 517.77,117.90 511.06,114.72 505.85,119.33" fill="#3dff00"/><polygon points="505.85,119.33 511.06,114.72 504.35,111.55 499.12,116.12" fill="#45ff00"/><polygon points="499.12,116.12 504.35,111.55 497.62,108.38 492.39,112.91" fill="#4dff00"/><polygon points="492.39,112.91 497.62,108.38 490.90,105.21 485.65,109.71" fill="#56ff00"/><polygon points="485.65,109.71 490.90,105.21 484.16,102.05 478.90,106.51" fill="#5eff00"/><polygon points="478.90,106.51 484.16,102.05 477.42,98.90 472.15,103.31" fill="#66ff00"/><polygon points="472.15,103.31 477.42,98.90 470.68,95.75 465.39,100.12" fill="#6eff00"/><polygon points="604.40,159.63 609.43,154.47 602.82,151.27 597.78,156.39" fill="#00ff21"/><polygon points="597.78,156.39 602.82,151.27 596.20,148.08 591.14,153.16" fill="#00ff18"/><polygon points="591.14,153.16 596.20,148.08 589.57,144.89 584.50,149.93" fill="#00ff10"/><polygon points="584.50,149.93 589.57,144.89 582.94,141.71 577.86,146.71" fill="#00ff08"/><polygon points="577.86,146.71 582.94,141.71 576.30,138.53 571.21,143.49" fill="#01ff00"/><polygon points="571.21,143.49 576.30,138.53 569.66,135.35 564.55,140.27" fill="#09ff00"/><polygon points="564.55,140.27 569.66,135.35 563.01,132.18 557.89,137.06" fill="#11ff00"/><polygon points="557.89,137.06 563.01,132.18 556.35,129.02 551.21,133.86" fill="#19ff00"/><polygon points="551.21,133.86 556.35,129.02 549.69,125.86 544.54,130.66" fill="#22ff00"/><polygon points="544.54,130.66 549.69,125.86 543.02,122.70 537.86,127.46" fill="#2aff00"/><polygon points="537.86,127.46 543.02,122.70 536.34,119.55 531.17,124.27" fill="#32ff00"/><polygon points="531.17,124.27 536.34,119.55 529.66,116.40 524.47,121.08" fill="#3bff00"/><polygon points="524.47,121.08 529.66,116.40 522.97,113.26 517.77,117.90" fill="#43ff00"/><polygon points="517.77,117.90 522.97,113.26 516.28,110.12 511.06,114.72" fill="#4bff00"/><polygon points="511.06,114.72 516.28,110.12 509.58,106.98 504.35,111.55" fill="#54ff00"/><polygon points="504.35,111.55 509.58,106.98 502.87,103.85 497.62,108.38" fill="#5cff00"/><polygon points="497.62,108.38 502.87,103.85 496.16,100.73 490.90,105.21" fill="#64ff00"/><polygon points="490.90,105.21 496.16,100.73 489.44,97.61 484.16,102.05" fill="#6cff00"/><polygon points="484.16,102.05 489.44,97.61 482.72,94.49 477.42,98.90" fill="#75ff00"/><polygon points="477.42,98.90 482.72,94.49 475.98,91.38 470.68,95.75" fill="#7dff00"/><polygon points="609.43,154.47 614.47,149.32 607.87,146.16 602.82,151.27" fill="#00ff12"/><polygon points="602.82,151.27 607.87,146.16 601.26,143.01 596.20,148.08" fill="#00ff0a"/><polygon points="596.20,148.08 601.26,143.01 594.65,139.86 589.57,144.89" fill="#00ff01"/><polygon points="589.57,144.89 594.65,139.86 588.03,136.72 582.94,141.71" fill="#07ff00"/><polygon points="582.94,141.71 588.03,136.72 581.41,133.58 576.30,138.53" fill="#0fff00"/><polygon points="576.30,138.53 581.41,133.58 574.78,130.44 569.66,135.35" fill="#17ff00"/><polygon points="569.66,135.35 574.78,130.44 568.14,127.31 563.01,132.18" fill="#20ff00"/><polygon points="563.01,132.18 568.14,127.31 561.50,124.19 556.35,129.02" fill="#28ff00"/><polygon points="556.35,129.02 561.50,124.19 554.85,121.07 549.69,125.86" fill="#30ff00"/><polygon points="549.69,125.86 554.85,121.07 548.19,117.95 543.02,122.70" fill="#39ff00"/><polygon points="543.02,122.70 548.19,117.95 541.53,114.84 536.34,119.55" fill="#41ff00"/><polygon points="536.34,119.55 541.53,114.84 534.86,111.73 529.66,116.40" fill="#49ff00"/><polygon points="529.66,116.40 534.86,111.73 528.19,108.63 522.97,113.26" fill="#52ff00"/><polygon points="522.97,113.26 528.19,108.63 521.51,105.53 516.28,110.12" fill="#5aff00"/><polygon points="516.28,110.12 521.51,105.53 514.82,102.43 509.58,106.98" fill="#62ff00"/><polygon points="509.58,106.98 514.82,102.43 508.13,99.34 502.87,103.85" fill="#6aff00"/><polygon points="502.87,103.85 508.13,99.34 501.43,96.26 496.16,100.73" fill="#73ff00"/><polygon points="496.16,100.73 501.43,96.26 494.73,93.18 489.44,97.61" fill="#7bff00"/><polygon points="489.44,97.61 494.73,93.18 488.02,90.10 482.72,94.49" fill="#83ff00"/><polygon points="482.72,94.49 488.02,90.10 481.30,87.03 475.98,91.38" fill="#8cff00"/><polygon points="614.47,149.32 619.52,144.18 612.93,141.06 607.87,146.16" fill="#00ff03"/><polygon points="607.87,146.16 612.93,141.06 606.34,137.95 601.26,143.01" fill="#05ff00"/><polygon points="601.26,143.01 606.34,137.95 599.74,134.84 594.65,139.86" fill="#0dff00"/><polygon points="594.65,139.86 599.74,134.84 593.13,131.74 588.03,136.72" fill="#15ff00"/><polygon points="588.03,136.72 593.13,131.74 586.52,128.64 581.41,133.58" fill="#1eff00"/><polygon points="581.41,133.58 586.52,128.64 579.91,125.55 574.78,130.44" fill="#26ff00"/><polygon points="574.78,130.44 579.91,125.55 573.28,122.46 568.14,127.31" fill="#2eff00"/><polygon points="568.14,127.31 573.28,122.46 566.65,119.37 561.50,124.19" fill="#37ff00"/><polygon points="561.50,124.19 566.65,119.37 560.02,116.29 554.85,121.07" fill="#3fff00"/><polygon points="554.85,121.07 560.02,116.29 553.38,113.21 548.19,117.95" fill="#47ff00"/><polygon points="548.19,117.95 553.38,113.21 546.73,110.14 541.53,114.84" fill="#50ff00"/><polygon points="541.53,114.84 546.73,110.14 540.08,107.07 534.86,111.73" fill="#58ff00"/><polygon points="534.86,111.73 540.08,107.07 533.42,104.01 528.19,108.63" fill="#60ff00"/><polygon points="528.19,108.63 533.42,104.01 526.75,100.95 521.51,105.53" fill="#68ff00"/><polygon points="521.51,105.53 526.75,100.95 520.08,97.89 514.82,102.43" fill="#71ff00"/><polygon points="514.82,102.43 520.08,97.89 513.40,94.84 508.13,99.34" fill="#79ff00"/><polygon points="508.13,99.34 513.40,94.84 506.72,91.80 501.43,96.26" fill="#81ff00"/><polygon points="501.43,96.26 506.72,91.80 500.03,88.76 494.73,93.18" fill="#8aff00"/><polygon points="494.73,93.18 500.03,88.76 493.33,85.72 488.02,90.10" fill="#92ff00"/><polygon points="488.02,90.10 493.33,85.72 486.63,82.69 481.30,87.03" fill="#9aff00"/><polygon points="619.52,144.18 624.57,139.06 618.00,135.98 612.93,141.06" fill="#0bff00"/><polygon points="612.93,141.06 618.00,135.98 611.42,132.91 606.34,137.95" fill="#13ff00"/><polygon points="606.34,137.95 611.42,132.91 604.84,129.84 599.74,134.84" fill="#1cff00"/><polygon points="599.74,134.84 604.84,129.84 598.25,126.77 593.13,131.74" fill="#24ff00"/><polygon points="593.13,131.74 598.25,126.77 591.65,123.71 586.52,128.64" fill="#2cff00"/><polygon points="586.52,128.64 591.65,123.71 585.04,120.66 579.91,125.55" fill="#35ff00"/><polygon points="579.91,125.55 585.04,120.66 578.44,117.61 573.28,122.46" fill="#3dff00"/><polygon points="573.28,122.46 578.44,117.61 571.82,114.56 566.65,119.37" fill="#45ff00"/><polygon points="566.65,119.37 571.82,114.56 565.20,111.52 560.02,116.29" fill="#4dff00"/><polygon points="560.02,116.29 565.20,111.52 558.57,108.48 553.38,113.21" fill="#56ff00"/><polygon points="553.38,113.21 558.57,108.48 551.94,105.45 546.73,110.14" fill="#5eff00"/><polygon points="546.73,110.14 551.94,105.45 545.30,102.42 540.08,107.07" fill="#66ff00"/><polygon points="540.08,107.07 545.30,102.42 538.66,99.40 533.42,104.01" fill="#6fff00"/><polygon points="533.42,104.01 538.66,99.40 532.00,96.38 526.75,100.95" fill="#77ff00"/><polygon points="526.75,100.95 532.00,96.38 525.35,93.36 520.08,97.89" fill="#7fff00"/><polygon points="520.08,97.89 525.35,93.36 518.68,90.35 513.40,94.84" fill="#88ff00"/><polygon points="513.40,94.84 518.68,90.35 512.01,87.35 506.72,91.80" fill="#90ff00"/><polygon points="506.72,91.80 512.01,87.35 505.34,84.35 500.03,88.76" fill="#98ff00"/><polygon points="500.03,88.76 505.34,84.35 498.66,81.35 493.33,85.72" fill="#a0ff00"/><polygon points="493.33,85.72 498.66,81.35 491.97,78.36 486.63,82.69" fill="#a9ff00"/><polygon points="624.57,139.06 629.64,133.94 623.08,130.90 618.00,135.98" fill="#1aff00"/><polygon points="618.00,135.98 623.08,130.90 616.51,127.87 611.42,132.91" fill="#22ff00"/><polygon points="611.42,132.91 616.51,127.87 609.94,124.84 604.84,129.84" fill="#2aff00"/><polygon points="604.84,129.84 609.94,124.84 603.37,121.82 598.25,126.77" fill="#33ff00"/><polygon points="598.25,126.77 603.37,121.82 596.78,118.80 591.65,123.71" fill="#3bff00"/><polygon points="591.65,123.71 596.78,118.80 590.19,115.79 585.04,120.66" fill="#43ff00"/><polygon points="585.04,120.66 590.19,115.79 583.60,112.77 578.44,117.61" fill="#4bff00"/><polygon points="578.44,117.61 583.60,112.77 577.00,109.77 571.82,114.56" fill="#54ff00"/><polygon points="571.82,114.56 577.00,109.77 570.39,106.77 565.20,111.52" fill="#5cff00"/><polygon points="565.20,111.52 570.39,106.77 563.78,103.77 558.57,108.48" fill="#64ff00"/><polygon points="558.57,108.48 563.78,103.77 557.16,100.78 551.94,105.45" fill="#6dff00"/><polygon points="551.94,105.45 557.16,100.78 550.54,97.79 545.30,102.42" fill="#75ff00"/><polygon points="545.30,102.42 550.54,97.79 543.90,94.80 538.66,99.40" fill="#7dff00"/><polygon points="538.66,99.40 543.90,94.80 537.27,91.82 532.00,96.38" fill="#86ff00"/><polygon points="532.00,96.38 537.27,91.82 530.63,88.85 525.35,93.36" fill="#8eff00"/><polygon points="525.35,93.36 530.63,88.85 523.98,85.88 518.68,90.35" fill="#96ff00"/><polygon points="518.68,90.35 523.98,85.88 517.32,82.91 512.01,87.35" fill="#9eff00"/><polygon points="512.01,87.35 517.32,82.91 510.66,79.95 505.34,84.35" fill="#a7ff00"/><polygon points="505.34,84.35 510.66,79.95 504.00,76.99 498.66,81.35" fill="#afff00"/><polygon points="498.66,81.35 504.00,76.99 497.32,74.03 491.97,78.36" fill="#b7ff00"/></g>
<g fill="none" stroke="#050505" stroke-width="0.85" stroke-opacity="0.9"><polyline points="530.11,238.52 523.30,234.66 516.48,230.81 509.66,226.97 502.83,223.13 495.99,219.30 489.15,215.47 482.29,211.65 475.43,207.83 468.57,204.02 461.69,200.22 454.81,196.42 447.92,192.62 441.02,188.83 434.12,185.05 427.21,181.27 420.29,177.49 413.36,173.72 406.43,169.96 399.49,166.20 392.54,162.45"/><polyline points="530.11,238.52 534.99,233.17 539.89,227.84 544.79,222.52 549.71,217.22 554.63,211.92 559.57,206.64 564.51,201.37 569.47,196.11 574.43,190.86 579.40,185.63 584.38,180.40 589.37,175.19 594.37,169.99 599.38,164.81 604.40,159.63 609.43,154.47 614.47,149.32 619.52,144.18 624.57,139.06 629.64,133.94"/><polyline points="534.99,233.17 528.20,229.36 521.39,225.55 514.58,221.75 507.76,217.96 500.93,214.16 494.10,210.38 487.26,206.60 480.41,202.82 473.56,199.05 466.69,195.29 459.82,191.53 452.95,187.77 446.06,184.03 439.17,180.28 432.27,176.54 425.36,172.81 418.45,169.08 411.53,165.36 404.60,161.64 397.66,157.93"/><polyline points="523.30,234.66 528.20,229.36 533.10,224.07 538.02,218.79 542.95,213.53 547.88,208.27 552.83,203.03 557.79,197.80 562.75,192.58 567.73,187.38 572.71,182.18 577.70,177.00 582.71,171.83 587.72,166.67 592.74,161.53 597.78,156.39 602.82,151.27 607.87,146.16 612.93,141.06 618.00,135.98 623.08,130.90"/><polyline points="539.89,227.84 533.10,224.07 526.31,220.31 519.51,216.55 512.70,212.79 505.89,209.04 499.07,205.30 492.24,201.56 485.40,197.82 478.56,194.09 471.71,190.37 464.85,186.65 457.98,182.94 451.11,179.23 444.23,175.53 437.34,171.83 430.45,168.14 423.55,164.45 416.64,160.77 409.72,157.09 402.80,153.42"/><polyline points="516.48,230.81 521.39,225.55 526.31,220.31 531.24,215.07 536.18,209.84 541.13,204.63 546.08,199.43 551.05,194.24 556.03,189.07 561.02,183.90 566.01,178.75 571.02,173.61 576.04,168.48 581.06,163.36 586.10,158.25 591.14,153.16 596.20,148.08 601.26,143.01 606.34,137.95 611.42,132.91 616.51,127.87"/><polyline points="544.79,222.52 538.02,218.79 531.24,215.07 524.45,211.35 517.66,207.64 510.85,203.93 504.04,200.22 497.23,196.53 490.40,192.83 483.57,189.15 476.73,185.46 469.89,181.79 463.03,178.11 456.17,174.45 449.30,170.78 442.43,167.13 435.55,163.48 428.66,159.83 421.76,156.19 414.86,152.55 407.95,148.92"/><polyline points="509.66,226.97 514.58,221.75 519.51,216.55 524.45,211.35 529.40,206.17 534.36,201.00 539.33,195.84 544.31,190.69 549.30,185.55 554.30,180.43 559.31,175.32 564.33,170.22 569.36,165.13 574.40,160.05 579.45,154.99 584.50,149.93 589.57,144.89 594.65,139.86 599.74,134.84 604.84,129.84 609.94,124.84"/><polyline points="549.71,217.22 542.95,213.53 536.18,209.84 529.40,206.17 522.62,202.49 515.83,198.83 509.03,195.16 502.22,191.51 495.41,187.86 488.59,184.21 481.77,180.57 474.93,176.93 468.09,173.30 461.24,169.67 454.39,166.05 447.53,162.44 440.66,158.83 433.78,155.22 426.90,151.62 420.01,148.02 413.11,144.43"/><polyline points="502.83,223.13 507.76,217.96 512.70,212.79 517.66,207.64 522.62,202.49 527.59,197.36 532.57,192.25 537.56,187.14 542.57,182.04 547.58,176.96 552.60,171.89 557.63,166.83 562.67,161.78 567.73,156.75 572.79,151.72 577.86,146.71 582.94,141.71 588.03,136.72 593.13,131.74 598.25,126.77 603.37,121.82"/><polyline points="554.63,211.92 547.88,208.27 541.13,204.63 534.36,201.00 527.59,197.36 520.81,193.74 514.02,190.12 507.23,186.50 500.43,182.89 493.62,179.28 486.81,175.68 479.99,172.09 473.16,168.50 466.33,164.91 459.49,161.33 452.64,157.76 445.78,154.19 438.92,150.62 432.05,147.06 425.17,143.51 418.29,139.96"/><polyline points="495.99,219.30 500.93,214.16 505.89,209.04 510.85,203.93 515.83,198.83 520.81,193.74 525.80,188.66 530.81,183.59 535.82,178.54 540.85,173.50 545.88,168.47 550.93,163.45 555.98,158.44 561.05,153.44 566.12,148.46 571.21,143.49 576.30,138.53 581.41,133.58 586.52,128.64 591.65,123.71 596.78,118.80"/><polyline points="559.57,206.64 552.83,203.03 546.08,199.43 539.33,195.84 532.57,192.25 525.80,188.66 519.03,185.08 512.25,181.51 505.46,177.94 498.67,174.37 491.87,170.81 485.06,167.26 478.24,163.71 471.42,160.16 464.59,156.62 457.76,153.09 450.91,149.56 444.06,146.03 437.21,142.51 430.34,139.00 423.47,135.49"/><polyline points="489.15,215.47 494.10,210.38 499.07,205.30 504.04,200.22 509.03,195.16 514.02,190.12 519.03,185.08 524.05,180.06 529.07,175.04 534.11,170.04 539.16,165.05 544.22,160.07 549.28,155.10 554.36,150.15 559.45,145.21 564.55,140.27 569.66,135.35 574.78,130.44 579.91,125.55 585.04,120.66 590.19,115.79"/><polyline points="564.51,201.37 557.79,197.80 551.05,194.24 544.31,190.69 537.56,187.14 530.81,183.59 524.05,180.06 517.28,176.52 510.50,172.99 503.72,169.47 496.93,165.95 490.14,162.43 483.34,158.92 476.53,155.42 469.71,151.92 462.89,148.43 456.06,144.94 449.22,141.45 442.38,137.97 435.53,134.50 428.67,131.03"/><polyline points="482.29,211.65 487.26,206.60 492.24,201.56 497.23,196.53 502.22,191.51 507.23,186.50 512.25,181.51 517.28,176.52 522.32,171.55 527.37,166.59 532.43,161.64 537.50,156.70 542.58,151.77 547.67,146.86 552.77,141.95 557.89,137.06 563.01,132.18 568.14,127.31 573.28,122.46 578.44,117.61 583.60,112.77"/><polyline points="569.47,196.11 562.75,192.58 556.03,189.07 549.30,185.55 542.57,182.04 535.82,178.54 529.07,175.04 522.32,171.55 515.56,168.06 508.79,164.58 502.01,161.10 495.23,157.62 488.44,154.16 481.64,150.69 474.84,147.23 468.03,143.78 461.21,140.33 454.39,136.89 447.56,133.45 440.72,130.01 433.88,126.58"/><polyline points="475.43,207.83 480.41,202.82 485.40,197.82 490.40,192.83 495.41,187.86 500.43,182.89 505.46,177.94 510.50,172.99 515.56,168.06 520.62,163.14 525.69,158.23 530.78,153.33 535.87,148.45 540.97,143.57 546.09,138.71 551.21,133.86 556.35,129.02 561.50,124.19 566.65,119.37 571.82,114.56 577.00,109.77"/><polyline points="574.43,190.86 567.73,187.38 561.02,183.90 554.30,180.43 547.58,176.96 540.85,173.50 534.11,170.04 527.37,166.59 520.62,163.14 513.86,159.70 507.10,156.26 500.33,152.83 493.55,149.40 486.77,145.97 479.98,142.56 473.18,139.14 466.38,135.73 459.57,132.33 452.75,128.93 445.93,125.54 439.10,122.15"/><polyline points="468.57,204.02 473.56,199.05 478.56,194.09 483.57,189.15 488.59,184.21 493.62,179.28 498.67,174.37 503.72,169.47 508.79,164.58 513.86,159.70 518.95,154.83 524.05,149.97 529.15,145.13 534.27,140.29 539.40,135.47 544.54,130.66 549.69,125.86 554.85,121.07 560.02,116.29 565.20,111.52 570.39,106.77"/><polyline points="579.40,185.63 572.71,182.18 566.01,178.75 559.31,175.32 552.60,171.89 545.88,168.47 539.16,165.05 532.43,161.64 525.69,158.23 518.95,154.83 512.20,151.43 505.44,148.04 498.68,144.65 491.91,141.27 485.13,137.89 478.35,134.52 471.56,131.15 464.76,127.78 457.96,124.42 451.15,121.07 444.33,117.72"/><polyline points="461.69,200.22 466.69,195.29 471.71,190.37 476.73,185.46 481.77,180.57 486.81,175.68 491.87,170.81 496.93,165.95 502.01,161.10 507.10,156.26 512.20,151.43 517.31,146.61 522.43,141.81 527.56,137.01 532.70,132.23 537.86,127.46 543.02,122.70 548.19,117.95 553.38,113.21 558.57,108.48 563.78,103.77"/><polyline points="584.38,180.40 577.70,177.00 571.02,173.61 564.33,170.22 557.63,166.83 550.93,163.45 544.22,160.07 537.50,156.70 530.78,153.33 524.05,149.97 517.31,146.61 510.57,143.26 503.82,139.91 497.06,136.57 490.30,133.23 483.53,129.90 476.75,126.57 469.97,123.25 463.18,119.93 456.38,116.61 449.58,113.31"/><polyline points="454.81,196.42 459.82,191.53 464.85,186.65 469.89,181.79 474.93,176.93 479.99,172.09 485.06,167.26 490.14,162.43 495.23,157.62 500.33,152.83 505.44,148.04 510.57,143.26 515.70,138.50 520.84,133.74 526.00,129.00 531.17,124.27 536.34,119.55 541.53,114.84 546.73,110.14 551.94,105.45 557.16,100.78"/><polyline points="589.37,175.19 582.71,171.83 576.04,168.48 569.36,165.13 562.67,161.78 555.98,158.44 549.28,155.10 542.58,151.77 535.87,148.45 529.15,145.13 522.43,141.81 515.70,138.50 508.96,135.19 502.22,131.89 495.47,128.59 488.71,125.29 481.95,122.01 475.18,118.72 468.41,115.44 461.62,112.17 454.84,108.90"/><polyline points="447.92,192.62 452.95,187.77 457.98,182.94 463.03,178.11 468.09,173.30 473.16,168.50 478.24,163.71 483.34,158.92 488.44,154.16 493.55,149.40 498.68,144.65 503.82,139.91 508.96,135.19 514.12,130.47 519.29,125.77 524.47,121.08 529.66,116.40 534.86,111.73 540.08,107.07 545.30,102.42 550.54,97.79"/><polyline points="594.37,169.99 587.72,166.67 581.06,163.36 574.40,160.05 567.73,156.75 561.05,153.44 554.36,150.15 547.67,146.86 540.97,143.57 534.27,140.29 527.56,137.01 520.84,133.74 514.12,130.47 507.39,127.21 500.66,123.95 493.91,120.70 487.16,117.45 480.41,114.21 473.65,110.97 466.88,107.74 460.10,104.51"/><polyline points="441.02,188.83 446.06,184.03 451.11,179.23 456.17,174.45 461.24,169.67 466.33,164.91 471.42,160.16 476.53,155.42 481.64,150.69 486.77,145.97 491.91,141.27 497.06,136.57 502.22,131.89 507.39,127.21 512.57,122.55 517.77,117.90 522.97,113.26 528.19,108.63 533.42,104.01 538.66,99.40 543.90,94.80"/><polyline points="599.38,164.81 592.74,161.53 586.10,158.25 579.45,154.99 572.79,151.72 566.12,148.46 559.45,145.21 552.77,141.95 546.09,138.71 539.40,135.47 532.70,132.23 526.00,129.00 519.29,125.77 512.57,122.55 505.85,119.33 499.12,116.12 492.39,112.91 485.65,109.71 478.90,106.51 472.15,103.31 465.39,100.12"/><polyline points="434.12,185.05 439.17,180.28 444.23,175.53 449.30,170.78 454.39,166.05 459.49,161.33 464.59,156.62 469.71,151.92 474.84,147.23 479.98,142.56 485.13,137.89 490.30,133.23 495.47,128.59 500.66,123.95 505.85,119.33 511.06,114.72 516.28,110.12 521.51,105.53 526.75,100.95 532.00,96.38 537.27,91.82"/><polyline points="604.40,159.63 597.78,156.39 591.14,153.16 584.50,149.93 577.86,146.71 571.21,143.49 564.55,140.27 557.89,137.06 551.21,133.86 544.54,130.66 537.86,127.46 531.17,124.27 524.47,121.08 517.77,117.90 511.06,114.72 504.35,111.55 497.62,108.38 490.90,105.21 484.16,102.05 477.42,98.90 470.68,95.75"/><polyline points="427.21,181.27 432.27,176.54 437.34,171.83 442.43,167.13 447.53,162.44 452.64,157.76 457.76,153.09 462.89,148.43 468.03,143.78 473.18,139.14 478.35,134.52 483.53,129.90 488.71,125.29 493.91,120.70 499.12,116.12 504.35,111.55 509.58,106.98 514.82,102.43 520.08,97.89 525.35,93.36 530.63,88.85"/><polyline points="609.43,154.47 602.82,151.27 596.20,148.08 589.57,144.89 582.94,141.71 576.30,138.53 569.66,135.35 563.01,132.18 556.35,129.02 549.69,125.86 543.02,122.70 536.34,119.55 529.66,116.40 522.97,113.26 516.28,110.12 509.58,106.98 502.87,103.85 496.16,100.73 489.44,97.61 482.72,94.49 475.98,91.38"/><polyline points="420.29,177.49 425.36,172.81 430.45,168.14 435.55,163.48 440.66,158.83 445.78,154.19 450.91,149.56 456.06,144.94 461.21,140.33 466.38,135.73 471.56,131.15 476.75,126.57 481.95,122.01 487.16,117.45 492.39,112.91 497.62,108.38 502.87,103.85 508.13,99.34 513.40,94.84 518.68,90.35 523.98,85.88"/><polyline points="614.47,149.32 607.87,146.16 601.26,143.01 594.65,139.86 588.03,136.72 581.41,133.58 574.78,130.44 568.14,127.31 561.50,124.19 554.85,121.07 548.19,117.95 541.53,114.84 534.86,111.73 528.19,108.63 521.51,105.53 514.82,102.43 508.13,99.34 501.43,96.26 494.73,93.18 488.02,90.10 481.30,87.03"/><polyline points="413.36,173.72 418.45,169.08 423.55,164.45 428.66,159.83 433.78,155.22 438.92,150.62 444.06,146.03 449.22,141.45 454.39,136.89 459.57,132.33 464.76,127.78 469.97,123.25 475.18,118.72 480.41,114.21 485.65,109.71 490.90,105.21 496.16,100.73 501.43,96.26 506.72,91.80 512.01,87.35 517.32,82.91"/><polyline points="619.52,144.18 612.93,141.06 606.34,137.95 599.74,134.84 593.13,131.74 586.52,128.64 579.91,125.55 573.28,122.46 566.65,119.37 560.02,116.29 553.38,113.21 546.73,110.14 540.08,107.07 533.42,104.01 526.75,100.95 520.08,97.89 513.40,94.84 506.72,91.80 500.03,88.76 493.33,85.72 486.63,82.69"/><polyline points="406.43,169.96 411.53,165.36 416.64,160.77 421.76,156.19 426.90,151.62 432.05,147.06 437.21,142.51 442.38,137.97 447.56,133.45 452.75,128.93 457.96,124.42 463.18,119.93 468.41,115.44 473.65,110.97 478.90,106.51 484.16,102.05 489.44,97.61 494.73,93.18 500.03,88.76 505.34,84.35 510.66,79.95"/><polyline points="624.57,139.06 618.00,135.98 611.42,132.91 604.84,129.84 598.25,126.77 591.65,123.71 585.04,120.66 578.44,117.61 571.82,114.56 565.20,111.52 558.57,108.48 551.94,105.45 545.30,102.42 538.66,99.40 532.00,96.38 525.35,93.36 518.68,90.35 512.01,87.35 505.34,84.35 498.66,81.35 491.97,78.36"/><polyline points="399.49,166.20 404.60,161.64 409.72,157.09 414.86,152.55 420.01,148.02 425.17,143.51 430.34,139.00 435.53,134.50 440.72,130.01 445.93,125.54 451.15,121.07 456.38,116.61 461.62,112.17 466.88,107.74 472.15,103.31 477.42,98.90 482.72,94.49 488.02,90.10 493.33,85.72 498.66,81.35 504.00,76.99"/><polyline points="629.64,133.94 623.08,130.90 616.51,127.87 609.94,124.84 603.37,121.82 596.78,118.80 590.19,115.79 583.60,112.77 577.00,109.77 570.39,106.77 563.78,103.77 557.16,100.78 550.54,97.79 543.90,94.80 537.27,91.82 530.63,88.85 523.98,85.88 517.32,82.91 510.66,79.95 504.00,76.99 497.32,74.03"/><polyline points="392.54,162.45 397.66,157.93 402.80,153.42 407.95,148.92 413.11,144.43 418.29,139.96 423.47,135.49 428.67,131.03 433.88,126.58 439.10,122.15 444.33,117.72 449.58,113.31 454.84,108.90 460.10,104.51 465.39,100.12 470.68,95.75 475.98,91.38 481.30,87.03 486.63,82.69 491.97,78.36 497.32,74.03"/></g>
<circle cx="396.64" cy="209.83" r="1.3" fill="#111"/>
<text x="391.64" y="207.83" font-size="8.5" textLength="12.60" lengthAdjust="spacingAndGlyphs" text-anchor="end" fill="#262626">160</text>
<circle cx="395.05" cy="191.46" r="1.3" fill="#111"/>
<text x="390.05" y="189.46" font-size="8.5" textLength="12.60" lengthAdjust="spacingAndGlyphs" text-anchor="end" fill="#262626">180</text>
<circle cx="393.46" cy="173.09" r="1.3" fill="#111"/>
<text x="388.46" y="171.09" font-size="8.5" textLength="12.60" lengthAdjust="spacingAndGlyphs" text-anchor="end" fill="#262626">200</text>
<circle cx="391.87" cy="154.72" r="1.3" fill="#111"/>
<text x="386.87" y="152.72" font-size="8.5" textLength="12.60" lengthAdjust="spacingAndGlyphs" text-anchor="end" fill="#262626">220</text>
<circle cx="390.28" cy="136.34" r="1.3" fill="#111"/>
<text x="385.28" y="134.34" font-size="8.5" textLength="12.60" lengthAdjust="spacingAndGlyphs" text-anchor="end" fill="#262626">240</text>
<circle cx="388.69" cy="117.97" r="1.3" fill="#111"/>
<text x="383.69" y="115.97" font-size="8.5" textLength="12.60" lengthAdjust="spacingAndGlyphs" text-anchor="end" fill="#262626">260</text>
<circle cx="387.10" cy="99.60" r="1.3" fill="#111"/>
<text x="382.10" y="97.60" font-size="8.5" textLength="12.60" lengthAdjust="spacingAndGlyphs" text-anchor="end" fill="#262626">280</text>
<circle cx="529.70" cy="307.40" r="1.3" fill="#111"/>
<text x="525.10" y="316.20" font-size="8.5" textLength="6.00" lengthAdjust="spacingAndGlyphs" text-anchor="end" fill="#262626">-1</text>
<circle cx="529.70" cy="307.40" r="1.3" fill="#111"/>
<text x="533.80" y="316.40" font-size="8.5" textLength="6.00" lengthAdjust="spacingAndGlyphs" fill="#262626">-1</text>
<circle cx="497.15" cy="291.27" r="1.3" fill="#111"/>
<text x="492.55" y="300.07" font-size="8.5" textLength="13.00" lengthAdjust="spacingAndGlyphs" text-anchor="end" fill="#262626">-0.5</text>
<circle cx="552.98" cy="286.70" r="1.3" fill="#111"/>
<text x="557.08" y="295.70" font-size="8.5" textLength="13.00" lengthAdjust="spacingAndGlyphs" fill="#262626">-0.5</text>
<circle cx="464.60" cy="275.15" r="1.3" fill="#111"/>
<text x="460.00" y="283.95" font-size="8.5" textLength="4.50" lengthAdjust="spacingAndGlyphs" text-anchor="end" fill="#262626">0</text>
<circle cx="576.25" cy="266.00" r="1.3" fill="#111"/>
<text x="580.35" y="275.00" font-size="8.5" textLength="4.50" lengthAdjust="spacingAndGlyphs" fill="#262626">0</text>
<circle cx="432.05" cy="259.02" r="1.3" fill="#111"/>
<text x="427.45" y="267.82" font-size="8.5" textLength="10.00" lengthAdjust="spacingAndGlyphs" text-anchor="end" fill="#262626">0.5</text>
<circle cx="599.52" cy="245.30" r="1.3" fill="#111"/>
<text x="603.62" y="254.30" font-size="8.5" textLength="10.00" lengthAdjust="spacingAndGlyphs" fill="#262626">0.5</text>
<circle cx="399.50" cy="242.90" r="1.3" fill="#111"/>
<text x="394.90" y="251.70" font-size="8.5" textLength="3.60" lengthAdjust="spacingAndGlyphs" text-anchor="end" fill="#262626">1</text>
<circle cx="622.80" cy="224.60" r="1.3" fill="#111"/>
<text x="626.90" y="233.60" font-size="8.5" textLength="3.60" lengthAdjust="spacingAndGlyphs" fill="#262626">1</text>
<text x="427.40" y="308.40" font-size="8.4" textLength="48.50" lengthAdjust="spacingAndGlyphs" text-anchor="middle" fill="#262626">B: Cholesterol</text>
<text x="621.65" y="291.30" font-size="8.4" textLength="37.60" lengthAdjust="spacingAndGlyphs" text-anchor="middle" fill="#262626">A: Span 60</text>
<text x="355.10" y="174.30" font-size="8.6" textLength="58.20" lengthAdjust="spacingAndGlyphs" text-anchor="middle" fill="#262626" transform="rotate(-90 355.10 174.30)">Vesicle Size (nm)</text>
<text x="369.40" y="10.00" font-size="7.1" textLength="50.80" lengthAdjust="spacingAndGlyphs" fill="#111" font-weight="bold">Vesicle Size (nm)</text>
<text x="372.30" y="20.40" font-size="6.8" textLength="14.70" lengthAdjust="spacingAndGlyphs" fill="#6060ff">169.7</text>
<rect x="390.90" y="14.60" width="22.1" height="6.2" fill="url(#cb)" stroke="#222" stroke-width="0.5"/>
<text x="417.30" y="20.40" font-size="6.8" textLength="10.50" lengthAdjust="spacingAndGlyphs" fill="#ff4848">276</text>
<text x="369.40" y="48.70" font-size="6.8" textLength="45.60" lengthAdjust="spacingAndGlyphs" fill="#262626">X1 = A: Span 60</text>
<text x="369.40" y="56.80" font-size="6.8" textLength="54.70" lengthAdjust="spacingAndGlyphs" fill="#262626">X2 = B: Cholesterol</text>
<text x="369.40" y="72.90" font-size="7.1" textLength="39.30" lengthAdjust="spacingAndGlyphs" fill="#111" font-weight="bold">Coded Factor</text>
<text x="369.40" y="81.40" font-size="6.8" textLength="64.10" lengthAdjust="spacingAndGlyphs" fill="#262626">C: Egg Lecithin = 0.000</text>
<polygon points="52.63,553.29 151.90,489.47 151.90,387.70 43.40,444.60" fill="#fff"/>
<line x1="52.63" y1="553.29" x2="151.90" y2="489.47" stroke="#2a2a2a" stroke-width="0.9"/>
<line x1="151.90" y1="489.47" x2="277.34" y2="536.52" stroke="#2a2a2a" stroke-width="0.9"/>
<line x1="51.09" y1="535.18" x2="151.90" y2="472.51" stroke="#2a2a2a" stroke-width="0.9"/>
<line x1="151.90" y1="472.51" x2="278.75" y2="518.70" stroke="#2a2a2a" stroke-width="0.9"/>
<line x1="49.55" y1="517.06" x2="151.90" y2="455.55" stroke="#2a2a2a" stroke-width="0.9"/>
<line x1="151.90" y1="455.55" x2="280.16" y2="500.88" stroke="#2a2a2a" stroke-width="0.9"/>
<line x1="48.02" y1="498.95" x2="151.90" y2="438.58" stroke="#2a2a2a" stroke-width="0.9"/>
<line x1="151.90" y1="438.58" x2="281.57" y2="483.06" stroke="#2a2a2a" stroke-width="0.9"/>
<line x1="46.48" y1="480.83" x2="151.90" y2="421.62" stroke="#2a2a2a" stroke-width="0.9"/>
<line x1="151.90" y1="421.62" x2="282.98" y2="465.24" stroke="#2a2a2a" stroke-width="0.9"/>
<line x1="44.94" y1="462.72" x2="151.90" y2="404.66" stroke="#2a2a2a" stroke-width="0.9"/>
<line x1="151.90" y1="404.66" x2="284.39" y2="447.42" stroke="#2a2a2a" stroke-width="0.9"/>
<line x1="43.40" y1="444.60" x2="151.90" y2="387.70" stroke="#2a2a2a" stroke-width="0.9"/>
<line x1="151.90" y1="387.70" x2="285.80" y2="429.60" stroke="#2a2a2a" stroke-width="0.9"/>
<line x1="77.45" y1="537.34" x2="70.53" y2="430.38" stroke="#2a2a2a" stroke-width="0.9"/>
<line x1="245.98" y1="524.76" x2="252.33" y2="419.13" stroke="#2a2a2a" stroke-width="0.9"/>
<line x1="102.27" y1="521.38" x2="97.65" y2="416.15" stroke="#2a2a2a" stroke-width="0.9"/>
<line x1="214.62" y1="513.00" x2="218.85" y2="408.65" stroke="#2a2a2a" stroke-width="0.9"/>
<line x1="127.08" y1="505.42" x2="124.78" y2="401.92" stroke="#2a2a2a" stroke-width="0.9"/>
<line x1="183.26" y1="501.23" x2="185.38" y2="398.17" stroke="#2a2a2a" stroke-width="0.9"/>
<line x1="55.40" y1="585.90" x2="43.40" y2="444.60" stroke="#2a2a2a" stroke-width="0.9"/>
<line x1="151.90" y1="520.00" x2="151.90" y2="387.70" stroke="#2a2a2a" stroke-width="0.9"/>
<line x1="274.80" y1="568.60" x2="285.80" y2="429.60" stroke="#2a2a2a" stroke-width="0.9"/>
<polygon points="183.40,650.00 274.80,568.60 151.90,520.00 55.40,585.90" fill="#686868" stroke="#111" stroke-width="1.2" stroke-linejoin="round"/>
<polyline points="252.22,588.71 155.17,635.86" fill="none" stroke="#00dfff" stroke-width="1.7"/>
<polyline points="257.21,561.64 127.59,622.05" fill="none" stroke="#00ffa5" stroke-width="1.7"/>
<polyline points="230.73,551.17 100.00,608.24" fill="none" stroke="#00ff2b" stroke-width="1.7"/>
<polyline points="204.24,540.70 72.42,594.42" fill="none" stroke="#50ff00" stroke-width="1.7"/>
<polyline points="177.76,530.23 82.58,567.34" fill="none" stroke="#caff00" stroke-width="1.7"/>
<g stroke="none"><polygon points="184.08,594.88 188.83,590.23 182.22,584.40 177.45,589.00" fill="#0087ff"/><polygon points="177.45,589.00 182.22,584.40 175.59,578.59 170.80,583.15" fill="#00a3ff"/><polygon points="170.80,583.15 175.59,578.59 168.93,572.81 164.12,577.31" fill="#00c0ff"/><polygon points="164.12,577.31 168.93,572.81 162.25,567.05 157.42,571.50" fill="#00dcff"/><polygon points="157.42,571.50 162.25,567.05 155.54,561.31 150.69,565.72" fill="#00f8ff"/><polygon points="150.69,565.72 155.54,561.31 148.80,555.60 143.93,559.95" fill="#00ffe9"/><polygon points="143.93,559.95 148.80,555.60 142.04,549.90 137.14,554.21" fill="#00ffcd"/><polygon points="137.14,554.21 142.04,549.90 135.25,544.23 130.33,548.50" fill="#00ffb1"/><polygon points="130.33,548.50 135.25,544.23 128.44,538.59 123.50,542.81" fill="#00ff94"/><polygon points="123.50,542.81 128.44,538.59 121.59,532.96 116.63,537.14" fill="#00ff78"/><polygon points="116.63,537.14 121.59,532.96 114.73,527.36 109.74,531.49" fill="#00ff5c"/><polygon points="109.74,531.49 114.73,527.36 107.84,521.79 102.83,525.87" fill="#00ff3f"/><polygon points="102.83,525.87 107.84,521.79 100.92,516.23 95.89,520.27" fill="#00ff23"/><polygon points="95.89,520.27 100.92,516.23 93.97,510.70 88.92,514.70" fill="#00ff07"/><polygon points="88.92,514.70 93.97,510.70 87.00,505.19 81.92,509.14" fill="#16ff00"/><polygon points="81.92,509.14 87.00,505.19 80.01,499.71 74.90,503.62" fill="#32ff00"/><polygon points="74.90,503.62 80.01,499.71 72.98,494.24 67.85,498.11" fill="#4eff00"/><polygon points="67.85,498.11 72.98,494.24 65.93,488.80 60.78,492.63" fill="#6bff00"/><polygon points="60.78,492.63 65.93,488.80 58.86,483.39 53.68,487.17" fill="#87ff00"/><polygon points="53.68,487.17 58.86,483.39 51.76,477.99 46.55,481.74" fill="#a3ff00"/><polygon points="188.83,590.23 193.58,585.58 186.99,579.80 182.22,584.40" fill="#008fff"/><polygon points="182.22,584.40 186.99,579.80 180.38,574.05 175.59,578.59" fill="#00acff"/><polygon points="175.59,578.59 180.38,574.05 173.74,568.31 168.93,572.81" fill="#00c8ff"/><polygon points="168.93,572.81 173.74,568.31 167.08,562.60 162.25,567.05" fill="#00e4ff"/><polygon points="162.25,567.05 167.08,562.60 160.39,556.91 155.54,561.31" fill="#00fffd"/><polygon points="155.54,561.31 160.39,556.91 153.68,551.24 148.80,555.60" fill="#00ffe1"/><polygon points="148.80,555.60 153.68,551.24 146.94,545.60 142.04,549.90" fill="#00ffc5"/><polygon points="142.04,549.90 146.94,545.60 140.17,539.98 135.25,544.23" fill="#00ffa8"/><polygon points="135.25,544.23 140.17,539.98 133.38,534.38 128.44,538.59" fill="#00ff8c"/><polygon points="128.44,538.59 133.38,534.38 126.56,528.80 121.59,532.96" fill="#00ff70"/><polygon points="121.59,532.96 126.56,528.80 119.72,523.24 114.73,527.36" fill="#00ff53"/><polygon points="114.73,527.36 119.72,523.24 112.85,517.71 107.84,521.79" fill="#00ff37"/><polygon points="107.84,521.79 112.85,517.71 105.95,512.20 100.92,516.23" fill="#00ff1b"/><polygon points="100.92,516.23 105.95,512.20 99.03,506.71 93.97,510.70" fill="#02ff00"/><polygon points="93.97,510.70 99.03,506.71 92.09,501.25 87.00,505.19" fill="#1eff00"/><polygon points="87.00,505.19 92.09,501.25 85.12,495.80 80.01,499.71" fill="#3aff00"/><polygon points="80.01,499.71 85.12,495.80 78.12,490.38 72.98,494.24" fill="#57ff00"/><polygon points="72.98,494.24 78.12,490.38 71.09,484.98 65.93,488.80" fill="#73ff00"/><polygon points="65.93,488.80 71.09,484.98 64.04,479.61 58.86,483.39" fill="#8fff00"/><polygon points="58.86,483.39 64.04,479.61 56.97,474.25 51.76,477.99" fill="#acff00"/><polygon points="193.58,585.58 198.34,580.95 191.77,575.22 186.99,579.80" fill="#0097ff"/><polygon points="186.99,579.80 191.77,575.22 185.18,569.51 180.38,574.05" fill="#00b4ff"/><polygon points="180.38,574.05 185.18,569.51 178.56,563.82 173.74,568.31" fill="#00d0ff"/><polygon points="173.74,568.31 178.56,563.82 171.92,558.16 167.08,562.60" fill="#00ecff"/><polygon points="167.08,562.60 171.92,558.16 165.25,552.52 160.39,556.91" fill="#00fff5"/><polygon points="160.39,556.91 165.25,552.52 158.56,546.90 153.68,551.24" fill="#00ffd9"/><polygon points="153.68,551.24 158.56,546.90 151.84,541.30 146.94,545.60" fill="#00ffbc"/><polygon points="146.94,545.60 151.84,541.30 145.10,535.73 140.17,539.98" fill="#00ffa0"/><polygon points="140.17,539.98 145.10,535.73 138.33,530.17 133.38,534.38" fill="#00ff84"/><polygon points="133.38,534.38 138.33,530.17 131.54,524.64 126.56,528.80" fill="#00ff67"/><polygon points="126.56,528.80 131.54,524.64 124.71,519.13 119.72,523.24" fill="#00ff4b"/><polygon points="119.72,523.24 124.71,519.13 117.87,513.64 112.85,517.71" fill="#00ff2f"/><polygon points="112.85,517.71 117.87,513.64 111.00,508.17 105.95,512.20" fill="#00ff12"/><polygon points="105.95,512.20 111.00,508.17 104.10,502.73 99.03,506.71" fill="#0aff00"/><polygon points="99.03,506.71 104.10,502.73 97.18,497.31 92.09,501.25" fill="#26ff00"/><polygon points="92.09,501.25 97.18,497.31 90.23,491.90 85.12,495.80" fill="#43ff00"/><polygon points="85.12,495.80 90.23,491.90 83.26,486.53 78.12,490.38" fill="#5fff00"/><polygon points="78.12,490.38 83.26,486.53 76.26,481.17 71.09,484.98" fill="#7bff00"/><polygon points="71.09,484.98 76.26,481.17 69.24,475.83 64.04,479.61" fill="#98ff00"/><polygon points="64.04,479.61 69.24,475.83 62.19,470.52 56.97,474.25" fill="#b4ff00"/><polygon points="198.34,580.95 203.10,576.32 196.55,570.64 191.77,575.22" fill="#00a0ff"/><polygon points="191.77,575.22 196.55,570.64 189.98,564.98 185.18,569.51" fill="#00bcff"/><polygon points="185.18,569.51 189.98,564.98 183.39,559.34 178.56,563.82" fill="#00d8ff"/><polygon points="178.56,563.82 183.39,559.34 176.77,553.73 171.92,558.16" fill="#00f5ff"/><polygon points="171.92,558.16 176.77,553.73 170.12,548.13 165.25,552.52" fill="#00ffed"/><polygon points="165.25,552.52 170.12,548.13 163.45,542.56 158.56,546.90" fill="#00ffd1"/><polygon points="158.56,546.90 163.45,542.56 156.75,537.01 151.84,541.30" fill="#00ffb4"/><polygon points="151.84,541.30 156.75,537.01 150.03,531.48 145.10,535.73" fill="#00ff98"/><polygon points="145.10,535.73 150.03,531.48 143.29,525.97 138.33,530.17" fill="#00ff7c"/><polygon points="138.33,530.17 143.29,525.97 136.51,520.49 131.54,524.64" fill="#00ff5f"/><polygon points="131.54,524.64 136.51,520.49 129.72,515.02 124.71,519.13" fill="#00ff43"/><polygon points="124.71,519.13 129.72,515.02 122.89,509.58 117.87,513.64" fill="#00ff27"/><polygon points="117.87,513.64 122.89,509.58 116.05,504.15 111.00,508.17" fill="#00ff0a"/><polygon points="111.00,508.17 116.05,504.15 109.18,498.75 104.10,502.73" fill="#12ff00"/><polygon points="104.10,502.73 109.18,498.75 102.28,493.37 97.18,497.31" fill="#2eff00"/><polygon points="97.18,497.31 102.28,493.37 95.35,488.01 90.23,491.90" fill="#4bff00"/><polygon points="90.23,491.90 95.35,488.01 88.41,482.67 83.26,486.53" fill="#67ff00"/><polygon points="83.26,486.53 88.41,482.67 81.43,477.36 76.26,481.17" fill="#83ff00"/><polygon points="76.26,481.17 81.43,477.36 74.43,472.06 69.24,475.83" fill="#a0ff00"/><polygon points="69.24,475.83 74.43,472.06 67.41,466.79 62.19,470.52" fill="#bcff00"/><polygon points="203.10,576.32 207.86,571.69 201.34,566.06 196.55,570.64" fill="#00a8ff"/><polygon points="196.55,570.64 201.34,566.06 194.79,560.46 189.98,564.98" fill="#00c4ff"/><polygon points="189.98,564.98 194.79,560.46 188.22,554.87 183.39,559.34" fill="#00e1ff"/><polygon points="183.39,559.34 188.22,554.87 181.62,549.30 176.77,553.73" fill="#00fdff"/><polygon points="176.77,553.73 181.62,549.30 174.99,543.76 170.12,548.13" fill="#00ffe5"/><polygon points="170.12,548.13 174.99,543.76 168.34,538.23 163.45,542.56" fill="#00ffc8"/><polygon points="163.45,542.56 168.34,538.23 161.67,532.73 156.75,537.01" fill="#00ffac"/><polygon points="156.75,537.01 161.67,532.73 154.97,527.24 150.03,531.48" fill="#00ff90"/><polygon points="150.03,531.48 154.97,527.24 148.25,521.78 143.29,525.97" fill="#00ff73"/><polygon points="143.29,525.97 148.25,521.78 141.50,516.34 136.51,520.49" fill="#00ff57"/><polygon points="136.51,520.49 141.50,516.34 134.73,510.92 129.72,515.02" fill="#00ff3b"/><polygon points="129.72,515.02 134.73,510.92 127.93,505.52 122.89,509.58" fill="#00ff1e"/><polygon points="122.89,509.58 127.93,505.52 121.10,500.14 116.05,504.15" fill="#00ff02"/><polygon points="116.05,504.15 121.10,500.14 114.25,494.78 109.18,498.75" fill="#1aff00"/><polygon points="109.18,498.75 114.25,494.78 107.38,489.44 102.28,493.37" fill="#37ff00"/><polygon points="102.28,493.37 107.38,489.44 100.48,484.13 95.35,488.01" fill="#53ff00"/><polygon points="95.35,488.01 100.48,484.13 93.56,478.83 88.41,482.67" fill="#6fff00"/><polygon points="88.41,482.67 93.56,478.83 86.61,473.55 81.43,477.36" fill="#8cff00"/><polygon points="81.43,477.36 86.61,473.55 79.64,468.30 74.43,472.06" fill="#a8ff00"/><polygon points="74.43,472.06 79.64,468.30 72.64,463.07 67.41,466.79" fill="#c4ff00"/><polygon points="207.86,571.69 212.63,567.08 206.13,561.50 201.34,566.06" fill="#00b0ff"/><polygon points="201.34,566.06 206.13,561.50 199.60,555.94 194.79,560.46" fill="#00cdff"/><polygon points="194.79,560.46 199.60,555.94 193.05,550.40 188.22,554.87" fill="#00e9ff"/><polygon points="188.22,554.87 193.05,550.40 186.47,544.89 181.62,549.30" fill="#00fff9"/><polygon points="181.62,549.30 186.47,544.89 179.87,539.39 174.99,543.76" fill="#00ffdc"/><polygon points="174.99,543.76 179.87,539.39 173.24,533.91 168.34,538.23" fill="#00ffc0"/><polygon points="168.34,538.23 173.24,533.91 166.59,528.45 161.67,532.73" fill="#00ffa4"/><polygon points="161.67,532.73 166.59,528.45 159.92,523.01 154.97,527.24" fill="#00ff87"/><polygon points="154.97,527.24 159.92,523.01 153.21,517.60 148.25,521.78" fill="#00ff6b"/><polygon points="148.25,521.78 153.21,517.60 146.49,512.20 141.50,516.34" fill="#00ff4f"/><polygon points="141.50,516.34 146.49,512.20 139.74,506.82 134.73,510.92" fill="#00ff32"/><polygon points="134.73,510.92 139.74,506.82 132.96,501.47 127.93,505.52" fill="#00ff16"/><polygon points="127.93,505.52 132.96,501.47 126.17,496.13 121.10,500.14" fill="#06ff00"/><polygon points="121.10,500.14 126.17,496.13 119.34,490.82 114.25,494.78" fill="#23ff00"/><polygon points="114.25,494.78 119.34,490.82 112.49,485.52 107.38,489.44" fill="#3fff00"/><polygon points="107.38,489.44 112.49,485.52 105.62,480.24 100.48,484.13" fill="#5bff00"/><polygon points="100.48,484.13 105.62,480.24 98.72,474.99 93.56,478.83" fill="#78ff00"/><polygon points="93.56,478.83 98.72,474.99 91.80,469.75 86.61,473.55" fill="#94ff00"/><polygon points="86.61,473.55 91.80,469.75 84.85,464.54 79.64,468.30" fill="#b0ff00"/><polygon points="79.64,468.30 84.85,464.54 77.88,459.35 72.64,463.07" fill="#cdff00"/><polygon points="212.63,567.08 217.41,562.47 210.93,556.94 206.13,561.50" fill="#00b9ff"/><polygon points="206.13,561.50 210.93,556.94 204.42,551.43 199.60,555.94" fill="#00d5ff"/><polygon points="199.60,555.94 204.42,551.43 197.89,545.95 193.05,550.40" fill="#00f1ff"/><polygon points="193.05,550.40 197.89,545.95 191.33,540.47 186.47,544.89" fill="#00fff0"/><polygon points="186.47,544.89 191.33,540.47 184.75,535.02 179.87,539.39" fill="#00ffd4"/><polygon points="179.87,539.39 184.75,535.02 178.15,529.59 173.24,533.91" fill="#00ffb8"/><polygon points="173.24,533.91 178.15,529.59 171.52,524.18 166.59,528.45" fill="#00ff9b"/><polygon points="166.59,528.45 171.52,524.18 164.87,518.79 159.92,523.01" fill="#00ff7f"/><polygon points="159.92,523.01 164.87,518.79 158.19,513.42 153.21,517.60" fill="#00ff63"/><polygon points="153.21,517.60 158.19,513.42 151.49,508.07 146.49,512.20" fill="#00ff46"/><polygon points="146.49,512.20 151.49,508.07 144.76,502.74 139.74,506.82" fill="#00ff2a"/><polygon points="139.74,506.82 144.76,502.74 138.01,497.42 132.96,501.47" fill="#00ff0e"/><polygon points="132.96,501.47 138.01,497.42 131.23,492.13 126.17,496.13" fill="#0fff00"/><polygon points="126.17,496.13 131.23,492.13 124.43,486.86 119.34,490.82" fill="#2bff00"/><polygon points="119.34,490.82 124.43,486.86 117.61,481.60 112.49,485.52" fill="#47ff00"/><polygon points="112.49,485.52 117.61,481.60 110.76,476.37 105.62,480.24" fill="#64ff00"/><polygon points="105.62,480.24 110.76,476.37 103.89,471.16 98.72,474.99" fill="#80ff00"/><polygon points="98.72,474.99 103.89,471.16 96.99,465.96 91.80,469.75" fill="#9cff00"/><polygon points="91.80,469.75 96.99,465.96 90.07,460.79 84.85,464.54" fill="#b9ff00"/><polygon points="84.85,464.54 90.07,460.79 83.12,455.63 77.88,459.35" fill="#d5ff00"/><polygon points="217.41,562.47 222.19,557.88 215.73,552.40 210.93,556.94" fill="#00c1ff"/><polygon points="210.93,556.94 215.73,552.40 209.24,546.94 204.42,551.43" fill="#00ddff"/><polygon points="204.42,551.43 209.24,546.94 202.73,541.49 197.89,545.95" fill="#00faff"/><polygon points="197.89,545.95 202.73,541.49 196.20,536.07 191.33,540.47" fill="#00ffe8"/><polygon points="191.33,540.47 196.20,536.07 189.64,530.67 184.75,535.02" fill="#00ffcc"/><polygon points="184.75,535.02 189.64,530.67 183.06,525.29 178.15,529.59" fill="#00ffaf"/><polygon points="178.15,529.59 183.06,525.29 176.45,519.92 171.52,524.18" fill="#00ff93"/><polygon points="171.52,524.18 176.45,519.92 169.82,514.58 164.87,518.79" fill="#00ff77"/><polygon points="164.87,518.79 169.82,514.58 163.17,509.25 158.19,513.42" fill="#00ff5a"/><polygon points="158.19,513.42 163.17,509.25 156.49,503.94 151.49,508.07" fill="#00ff3e"/><polygon points="151.49,508.07 156.49,503.94 149.79,498.65 144.76,502.74" fill="#00ff22"/><polygon points="144.76,502.74 149.79,498.65 143.06,493.38 138.01,497.42" fill="#00ff05"/><polygon points="138.01,497.42 143.06,493.38 136.31,488.13 131.23,492.13" fill="#17ff00"/><polygon points="131.23,492.13 136.31,488.13 129.53,482.90 124.43,486.86" fill="#33ff00"/><polygon points="124.43,486.86 129.53,482.90 122.73,477.69 117.61,481.60" fill="#50ff00"/><polygon points="117.61,481.60 122.73,477.69 115.91,472.50 110.76,476.37" fill="#6cff00"/><polygon points="110.76,476.37 115.91,472.50 109.06,467.33 103.89,471.16" fill="#88ff00"/><polygon points="103.89,471.16 109.06,467.33 102.19,462.17 96.99,465.96" fill="#a5ff00"/><polygon points="96.99,465.96 102.19,462.17 95.29,457.04 90.07,460.79" fill="#c1ff00"/><polygon points="90.07,460.79 95.29,457.04 88.37,451.92 83.12,455.63" fill="#ddff00"/><polygon points="222.19,557.88 226.98,553.29 220.54,547.86 215.73,552.40" fill="#00c9ff"/><polygon points="215.73,552.40 220.54,547.86 214.07,542.44 209.24,546.94" fill="#00e6ff"/><polygon points="209.24,546.94 214.07,542.44 207.58,537.05 202.73,541.49" fill="#00fffc"/><polygon points="202.73,541.49 207.58,537.05 201.07,531.68 196.20,536.07" fill="#00ffe0"/><polygon points="196.20,536.07 201.07,531.68 194.54,526.32 189.64,530.67" fill="#00ffc3"/><polygon points="189.64,530.67 194.54,526.32 187.98,520.98 183.06,525.29" fill="#00ffa7"/><polygon points="183.06,525.29 187.98,520.98 181.39,515.67 176.45,519.92" fill="#00ff8b"/><polygon points="176.45,519.92 181.39,515.67 174.78,510.37 169.82,514.58" fill="#00ff6e"/><polygon points="169.82,514.58 174.78,510.37 168.15,505.08 163.17,509.25" fill="#00ff52"/><polygon points="163.17,509.25 168.15,505.08 161.50,499.82 156.49,503.94" fill="#00ff36"/><polygon points="156.49,503.94 161.50,499.82 154.82,494.58 149.79,498.65" fill="#00ff19"/><polygon points="149.79,498.65 154.82,494.58 148.11,489.35 143.06,493.38" fill="#03ff00"/><polygon points="143.06,493.38 148.11,489.35 141.39,484.14 136.31,488.13" fill="#1fff00"/><polygon points="136.31,488.13 141.39,484.14 134.64,478.96 129.53,482.90" fill="#3cff00"/><polygon points="129.53,482.90 134.64,478.96 127.86,473.79 122.73,477.69" fill="#58ff00"/><polygon points="122.73,477.69 127.86,473.79 121.06,468.64 115.91,472.50" fill="#74ff00"/><polygon points="115.91,472.50 121.06,468.64 114.24,463.50 109.06,467.33" fill="#91ff00"/><polygon points="109.06,467.33 114.24,463.50 107.39,458.39 102.19,462.17" fill="#adff00"/><polygon points="102.19,462.17 107.39,458.39 100.52,453.29 95.29,457.04" fill="#c9ff00"/><polygon points="95.29,457.04 100.52,453.29 93.63,448.22 88.37,451.92" fill="#e6ff00"/><polygon points="226.98,553.29 231.77,548.71 225.35,543.32 220.54,547.86" fill="#00d2ff"/><polygon points="220.54,547.86 225.35,543.32 218.91,537.96 214.07,542.44" fill="#00eeff"/><polygon points="214.07,542.44 218.91,537.96 212.44,532.62 207.58,537.05" fill="#00fff4"/><polygon points="207.58,537.05 212.44,532.62 205.95,527.29 201.07,531.68" fill="#00ffd7"/><polygon points="201.07,531.68 205.95,527.29 199.44,521.98 194.54,526.32" fill="#00ffbb"/><polygon points="194.54,526.32 199.44,521.98 192.90,516.69 187.98,520.98" fill="#00ff9f"/><polygon points="187.98,520.98 192.90,516.69 186.34,511.42 181.39,515.67" fill="#00ff82"/><polygon points="181.39,515.67 186.34,511.42 179.75,506.16 174.78,510.37" fill="#00ff66"/><polygon points="174.78,510.37 179.75,506.16 173.14,500.93 168.15,505.08" fill="#00ff4a"/><polygon points="168.15,505.08 173.14,500.93 166.51,495.71 161.50,499.82" fill="#00ff2d"/><polygon points="161.50,499.82 166.51,495.71 159.86,490.51 154.82,494.58" fill="#00ff11"/><polygon points="154.82,494.58 159.86,490.51 153.18,485.33 148.11,489.35" fill="#0bff00"/><polygon points="148.11,489.35 153.18,485.33 146.47,480.16 141.39,484.14" fill="#28ff00"/><polygon points="141.39,484.14 146.47,480.16 139.75,475.02 134.64,478.96" fill="#44ff00"/><polygon points="134.64,478.96 139.75,475.02 133.00,469.89 127.86,473.79" fill="#60ff00"/><polygon points="127.86,473.79 133.00,469.89 126.22,464.78 121.06,468.64" fill="#7dff00"/><polygon points="121.06,468.64 126.22,464.78 119.43,459.69 114.24,463.50" fill="#99ff00"/><polygon points="114.24,463.50 119.43,459.69 112.61,454.61 107.39,458.39" fill="#b5ff00"/><polygon points="107.39,458.39 112.61,454.61 105.76,449.56 100.52,453.29" fill="#d2ff00"/><polygon points="100.52,453.29 105.76,449.56 98.89,444.52 93.63,448.22" fill="#eeff00"/><polygon points="231.77,548.71 236.57,544.13 230.17,538.80 225.35,543.32" fill="#00daff"/><polygon points="225.35,543.32 230.17,538.80 223.75,533.49 218.91,537.96" fill="#00f6ff"/><polygon points="218.91,537.96 223.75,533.49 217.30,528.19 212.44,532.62" fill="#00ffeb"/><polygon points="212.44,532.62 217.30,528.19 210.83,522.91 205.95,527.29" fill="#00ffcf"/><polygon points="205.95,527.29 210.83,522.91 204.34,517.65 199.44,521.98" fill="#00ffb3"/><polygon points="199.44,521.98 204.34,517.65 197.82,512.40 192.90,516.69" fill="#00ff96"/><polygon points="192.90,516.69 197.82,512.40 191.29,507.18 186.34,511.42" fill="#00ff7a"/><polygon points="186.34,511.42 191.29,507.18 184.72,501.97 179.75,506.16" fill="#00ff5e"/><polygon points="179.75,506.16 184.72,501.97 178.14,496.78 173.14,500.93" fill="#00ff41"/><polygon points="173.14,500.93 178.14,496.78 171.53,491.60 166.51,495.71" fill="#00ff25"/><polygon points="166.51,495.71 171.53,491.60 164.90,486.44 159.86,490.51" fill="#00ff09"/><polygon points="159.86,490.51 164.90,486.44 158.24,481.31 153.18,485.33" fill="#14ff00"/><polygon points="153.18,485.33 158.24,481.31 151.57,476.18 146.47,480.16" fill="#30ff00"/><polygon points="146.47,480.16 151.57,476.18 144.86,471.08 139.75,475.02" fill="#4cff00"/><polygon points="139.75,475.02 144.86,471.08 138.14,465.99 133.00,469.89" fill="#69ff00"/><polygon points="133.00,469.89 138.14,465.99 131.39,460.92 126.22,464.78" fill="#85ff00"/><polygon points="126.22,464.78 131.39,460.92 124.62,455.87 119.43,459.69" fill="#a1ff00"/><polygon points="119.43,459.69 124.62,455.87 117.82,450.84 112.61,454.61" fill="#beff00"/><polygon points="112.61,454.61 117.82,450.84 111.01,445.82 105.76,449.56" fill="#daff00"/><polygon points="105.76,449.56 111.01,445.82 104.16,440.82 98.89,444.52" fill="#f6ff00"/><polygon points="236.57,544.13 241.37,539.57 234.99,534.28 230.17,538.80" fill="#00e2ff"/><polygon points="230.17,538.80 234.99,534.28 228.59,529.02 223.75,533.49" fill="#00ffff"/><polygon points="223.75,533.49 228.59,529.02 222.17,523.77 217.30,528.19" fill="#00ffe3"/><polygon points="217.30,528.19 222.17,523.77 215.72,518.54 210.83,522.91" fill="#00ffc7"/><polygon points="210.83,522.91 215.72,518.54 209.25,513.32 204.34,517.65" fill="#00ffaa"/><polygon points="204.34,517.65 209.25,513.32 202.76,508.12 197.82,512.40" fill="#00ff8e"/><polygon points="197.82,512.40 202.76,508.12 196.24,502.94 191.29,507.18" fill="#00ff72"/><polygon points="191.29,507.18 196.24,502.94 189.70,497.78 184.72,501.97" fill="#00ff55"/><polygon points="184.72,501.97 189.70,497.78 183.14,492.63 178.14,496.78" fill="#00ff39"/><polygon points="178.14,496.78 183.14,492.63 176.56,487.50 171.53,491.60" fill="#00ff1d"/><polygon points="171.53,491.60 176.56,487.50 169.95,482.39 164.90,486.44" fill="#00ff00"/><polygon points="164.90,486.44 169.95,482.39 163.32,477.29 158.24,481.31" fill="#1cff00"/><polygon points="158.24,481.31 163.32,477.29 156.66,472.21 151.57,476.18" fill="#38ff00"/><polygon points="151.57,476.18 156.66,472.21 149.99,467.15 144.86,471.08" fill="#55ff00"/><polygon points="144.86,471.08 149.99,467.15 143.29,462.11 138.14,465.99" fill="#71ff00"/><polygon points="138.14,465.99 143.29,462.11 136.56,457.08 131.39,460.92" fill="#8dff00"/><polygon points="131.39,460.92 136.56,457.08 129.82,452.07 124.62,455.87" fill="#aaff00"/><polygon points="124.62,455.87 129.82,452.07 123.05,447.07 117.82,450.84" fill="#c6ff00"/><polygon points="117.82,450.84 123.05,447.07 116.26,442.09 111.01,445.82" fill="#e2ff00"/><polygon points="111.01,445.82 116.26,442.09 109.44,437.13 104.16,440.82" fill="#ffff00"/><polygon points="241.37,539.57 246.18,535.01 239.82,529.78 234.99,534.28" fill="#00eaff"/><polygon points="234.99,534.28 239.82,529.78 233.44,524.56 228.59,529.02" fill="#00fff7"/><polygon points="228.59,529.02 233.44,524.56 227.04,519.36 222.17,523.77" fill="#00ffdb"/><polygon points="222.17,523.77 227.04,519.36 220.61,514.17 215.72,518.54" fill="#00ffbe"/><polygon points="215.72,518.54 220.61,514.17 214.17,509.00 209.25,513.32" fill="#00ffa2"/><polygon points="209.25,513.32 214.17,509.00 207.70,503.85 202.76,508.12" fill="#00ff86"/><polygon points="202.76,508.12 207.70,503.85 201.20,498.72 196.24,502.94" fill="#00ff69"/><polygon points="196.24,502.94 201.20,498.72 194.69,493.60 189.70,497.78" fill="#00ff4d"/><polygon points="189.70,497.78 194.69,493.60 188.15,488.49 183.14,492.63" fill="#00ff31"/><polygon points="183.14,492.63 188.15,488.49 181.59,483.41 176.56,487.50" fill="#00ff14"/><polygon points="176.56,487.50 181.59,483.41 175.00,478.34 169.95,482.39" fill="#08ff00"/><polygon points="169.95,482.39 175.00,478.34 168.40,473.28 163.32,477.29" fill="#24ff00"/><polygon points="163.32,477.29 168.40,473.28 161.77,468.25 156.66,472.21" fill="#41ff00"/><polygon points="156.66,472.21 161.77,468.25 155.12,463.23 149.99,467.15" fill="#5dff00"/><polygon points="149.99,467.15 155.12,463.23 148.44,458.22 143.29,462.11" fill="#79ff00"/><polygon points="143.29,462.11 148.44,458.22 141.74,453.24 136.56,457.08" fill="#96ff00"/><polygon points="136.56,457.08 141.74,453.24 135.02,448.26 129.82,452.07" fill="#b2ff00"/><polygon points="129.82,452.07 135.02,448.26 128.28,443.31 123.05,447.07" fill="#ceff00"/><polygon points="123.05,447.07 128.28,443.31 121.51,438.37 116.26,442.09" fill="#ebff00"/><polygon points="116.26,442.09 121.51,438.37 114.73,433.45 109.44,437.13" fill="#fff700"/><polygon points="246.18,535.01 250.99,530.46 244.65,525.28 239.82,529.78" fill="#00f3ff"/><polygon points="239.82,529.78 244.65,525.28 238.29,520.11 233.44,524.56" fill="#00ffef"/><polygon points="233.44,524.56 238.29,520.11 231.91,514.95 227.04,519.36" fill="#00ffd3"/><polygon points="227.04,519.36 231.91,514.95 225.51,509.81 220.61,514.17" fill="#00ffb6"/><polygon points="220.61,514.17 225.51,509.81 219.09,504.69 214.17,509.00" fill="#00ff9a"/><polygon points="214.17,509.00 219.09,504.69 212.64,499.59 207.70,503.85" fill="#00ff7e"/><polygon points="207.70,503.85 212.64,499.59 206.17,494.50 201.20,498.72" fill="#00ff61"/><polygon points="201.20,498.72 206.17,494.50 199.68,489.42 194.69,493.60" fill="#00ff45"/><polygon points="194.69,493.60 199.68,489.42 193.16,484.36 188.15,488.49" fill="#00ff29"/><polygon points="188.15,488.49 193.16,484.36 186.63,479.32 181.59,483.41" fill="#00ff0c"/><polygon points="181.59,483.41 186.63,479.32 180.07,474.29 175.00,478.34" fill="#10ff00"/><polygon points="175.00,478.34 180.07,474.29 173.48,469.28 168.40,473.28" fill="#2cff00"/><polygon points="168.40,473.28 173.48,469.28 166.88,464.29 161.77,468.25" fill="#49ff00"/><polygon points="161.77,468.25 166.88,464.29 160.25,459.31 155.12,463.23" fill="#65ff00"/><polygon points="155.12,463.23 160.25,459.31 153.60,454.35 148.44,458.22" fill="#81ff00"/><polygon points="148.44,458.22 153.60,454.35 146.93,449.40 141.74,453.24" fill="#9eff00"/><polygon points="141.74,453.24 146.93,449.40 140.24,444.47 135.02,448.26" fill="#baff00"/><polygon points="135.02,448.26 140.24,444.47 133.52,439.55 128.28,443.31" fill="#d6ff00"/><polygon points="128.28,443.31 133.52,439.55 126.78,434.65 121.51,438.37" fill="#f3ff00"/><polygon points="121.51,438.37 126.78,434.65 120.02,429.77 114.73,433.45" fill="#ffef00"/><polygon points="250.99,530.46 255.80,525.92 249.49,520.78 244.65,525.28" fill="#00fbff"/><polygon points="244.65,525.28 249.49,520.78 243.15,515.66 238.29,520.11" fill="#00ffe7"/><polygon points="238.29,520.11 243.15,515.66 236.80,510.56 231.91,514.95" fill="#00ffca"/><polygon points="231.91,514.95 236.80,510.56 230.42,505.46 225.51,509.81" fill="#00ffae"/><polygon points="225.51,509.81 230.42,505.46 224.01,500.39 219.09,504.69" fill="#00ff92"/><polygon points="219.09,504.69 224.01,500.39 217.59,495.33 212.64,499.59" fill="#00ff75"/><polygon points="212.64,499.59 217.59,495.33 211.14,490.28 206.17,494.50" fill="#00ff59"/><polygon points="206.17,494.50 211.14,490.28 204.67,485.25 199.68,489.42" fill="#00ff3d"/><polygon points="199.68,489.42 204.67,485.25 198.18,480.24 193.16,484.36" fill="#00ff20"/><polygon points="193.16,484.36 198.18,480.24 191.67,475.24 186.63,479.32" fill="#00ff04"/><polygon points="186.63,479.32 191.67,475.24 185.13,470.26 180.07,474.29" fill="#18ff00"/><polygon points="180.07,474.29 185.13,470.26 178.58,465.29 173.48,469.28" fill="#35ff00"/><polygon points="173.48,469.28 178.58,465.29 172.00,460.34 166.88,464.29" fill="#51ff00"/><polygon points="166.88,464.29 172.00,460.34 165.39,455.40 160.25,459.31" fill="#6dff00"/><polygon points="160.25,459.31 165.39,455.40 158.77,450.48 153.60,454.35" fill="#8aff00"/><polygon points="153.60,454.35 158.77,450.48 152.12,445.57 146.93,449.40" fill="#a6ff00"/><polygon points="146.93,449.40 152.12,445.57 145.45,440.68 140.24,444.47" fill="#c2ff00"/><polygon points="140.24,444.47 145.45,440.68 138.76,435.80 133.52,439.55" fill="#dfff00"/><polygon points="133.52,439.55 138.76,435.80 132.05,430.94 126.78,434.65" fill="#fbff00"/><polygon points="126.78,434.65 132.05,430.94 125.31,426.10 120.02,429.77" fill="#ffe700"/><polygon points="255.80,525.92 260.63,521.39 254.33,516.30 249.49,520.78" fill="#00fffb"/><polygon points="249.49,520.78 254.33,516.30 248.02,511.23 243.15,515.66" fill="#00ffde"/><polygon points="243.15,515.66 248.02,511.23 241.68,506.17 236.80,510.56" fill="#00ffc2"/><polygon points="236.80,510.56 241.68,506.17 235.33,501.12 230.42,505.46" fill="#00ffa6"/><polygon points="230.42,505.46 235.33,501.12 228.95,496.09 224.01,500.39" fill="#00ff89"/><polygon points="224.01,500.39 228.95,496.09 222.54,491.08 217.59,495.33" fill="#00ff6d"/><polygon points="217.59,495.33 222.54,491.08 216.12,486.08 211.14,490.28" fill="#00ff51"/><polygon points="211.14,490.28 216.12,486.08 209.68,481.09 204.67,485.25" fill="#00ff34"/><polygon points="204.67,485.25 209.68,481.09 203.21,476.12 198.18,480.24" fill="#00ff18"/><polygon points="198.18,480.24 203.21,476.12 196.72,471.17 191.67,475.24" fill="#04ff00"/><polygon points="191.67,475.24 196.72,471.17 190.21,466.23 185.13,470.26" fill="#21ff00"/><polygon points="185.13,470.26 190.21,466.23 183.67,461.30 178.58,465.29" fill="#3dff00"/><polygon points="178.58,465.29 183.67,461.30 177.12,456.39 172.00,460.34" fill="#59ff00"/><polygon points="172.00,460.34 177.12,456.39 170.54,451.49 165.39,455.40" fill="#76ff00"/><polygon points="165.39,455.40 170.54,451.49 163.94,446.61 158.77,450.48" fill="#92ff00"/><polygon points="158.77,450.48 163.94,446.61 157.32,441.74 152.12,445.57" fill="#aeff00"/><polygon points="152.12,445.57 157.32,441.74 150.68,436.89 145.45,440.68" fill="#cbff00"/><polygon points="145.45,440.68 150.68,436.89 144.01,432.06 138.76,435.80" fill="#e7ff00"/><polygon points="138.76,435.80 144.01,432.06 137.33,427.23 132.05,430.94" fill="#fffb00"/><polygon points="132.05,430.94 137.33,427.23 130.62,422.43 125.31,426.10" fill="#ffde00"/><polygon points="260.63,521.39 265.45,516.86 259.18,511.82 254.33,516.30" fill="#00fff2"/><polygon points="254.33,516.30 259.18,511.82 252.89,506.80 248.02,511.23" fill="#00ffd6"/><polygon points="248.02,511.23 252.89,506.80 246.58,501.78 241.68,506.17" fill="#00ffba"/><polygon points="241.68,506.17 246.58,501.78 240.24,496.79 235.33,501.12" fill="#00ff9d"/><polygon points="235.33,501.12 240.24,496.79 233.88,491.80 228.95,496.09" fill="#00ff81"/><polygon points="228.95,496.09 233.88,491.80 227.50,486.83 222.54,491.08" fill="#00ff65"/><polygon points="222.54,491.08 227.50,486.83 221.10,481.88 216.12,486.08" fill="#00ff48"/><polygon points="216.12,486.08 221.10,481.88 214.68,476.94 209.68,481.09" fill="#00ff2c"/><polygon points="209.68,481.09 214.68,476.94 208.24,472.01 203.21,476.12" fill="#00ff10"/><polygon points="203.21,476.12 208.24,472.01 201.77,467.10 196.72,471.17" fill="#0dff00"/><polygon points="196.72,471.17 201.77,467.10 195.29,462.20 190.21,466.23" fill="#29ff00"/><polygon points="190.21,466.23 195.29,462.20 188.78,457.32 183.67,461.30" fill="#45ff00"/><polygon points="183.67,461.30 188.78,457.32 182.25,452.45 177.12,456.39" fill="#62ff00"/><polygon points="177.12,456.39 182.25,452.45 175.69,447.59 170.54,451.49" fill="#7eff00"/><polygon points="170.54,451.49 175.69,447.59 169.12,442.75 163.94,446.61" fill="#9aff00"/><polygon points="163.94,446.61 169.12,442.75 162.53,437.93 157.32,441.74" fill="#b7ff00"/><polygon points="157.32,441.74 162.53,437.93 155.91,433.11 150.68,436.89" fill="#d3ff00"/><polygon points="150.68,436.89 155.91,433.11 149.27,428.32 144.01,432.06" fill="#efff00"/><polygon points="144.01,432.06 149.27,428.32 142.61,423.53 137.33,427.23" fill="#fff200"/><polygon points="137.33,427.23 142.61,423.53 135.93,418.76 130.62,422.43" fill="#ffd600"/><polygon points="265.45,516.86 270.29,512.35 264.04,507.36 259.18,511.82" fill="#00ffea"/><polygon points="259.18,511.82 264.04,507.36 257.77,502.38 252.89,506.80" fill="#00ffce"/><polygon points="252.89,506.80 257.77,502.38 251.47,497.41 246.58,501.78" fill="#00ffb1"/><polygon points="246.58,501.78 251.47,497.41 245.16,492.46 240.24,496.79" fill="#00ff95"/><polygon points="240.24,496.79 245.16,492.46 238.83,487.52 233.88,491.80" fill="#00ff79"/><polygon points="233.88,491.80 238.83,487.52 232.47,482.60 227.50,486.83" fill="#00ff5c"/><polygon points="227.50,486.83 232.47,482.60 226.09,477.69 221.10,481.88" fill="#00ff40"/><polygon points="221.10,481.88 226.09,477.69 219.70,472.79 214.68,476.94" fill="#00ff24"/><polygon points="214.68,476.94 219.70,472.79 213.28,467.91 208.24,472.01" fill="#00ff07"/><polygon points="208.24,472.01 213.28,467.91 206.83,463.04 201.77,467.10" fill="#15ff00"/><polygon points="201.77,467.10 206.83,463.04 200.37,458.18 195.29,462.20" fill="#31ff00"/><polygon points="195.29,462.20 200.37,458.18 193.89,453.34 188.78,457.32" fill="#4eff00"/><polygon points="188.78,457.32 193.89,453.34 187.38,448.51 182.25,452.45" fill="#6aff00"/><polygon points="182.25,452.45 187.38,448.51 180.86,443.70 175.69,447.59" fill="#86ff00"/><polygon points="175.69,447.59 180.86,443.70 174.31,438.90 169.12,442.75" fill="#a3ff00"/><polygon points="169.12,442.75 174.31,438.90 167.74,434.11 162.53,437.93" fill="#bfff00"/><polygon points="162.53,437.93 167.74,434.11 161.15,429.34 155.91,433.11" fill="#dbff00"/><polygon points="155.91,433.11 161.15,429.34 154.53,424.58 149.27,428.32" fill="#f8ff00"/><polygon points="149.27,428.32 154.53,424.58 147.90,419.83 142.61,423.53" fill="#ffea00"/><polygon points="142.61,423.53 147.90,419.83 141.25,415.10 135.93,418.76" fill="#ffce00"/><polygon points="270.29,512.35 275.12,507.84 268.90,502.90 264.04,507.36" fill="#00ffe2"/><polygon points="264.04,507.36 268.90,502.90 262.65,497.96 257.77,502.38" fill="#00ffc5"/><polygon points="257.77,502.38 262.65,497.96 256.38,493.05 251.47,497.41" fill="#00ffa9"/><polygon points="251.47,497.41 256.38,493.05 250.09,488.14 245.16,492.46" fill="#00ff8d"/><polygon points="245.16,492.46 250.09,488.14 243.78,483.25 238.83,487.52" fill="#00ff70"/><polygon points="238.83,487.52 243.78,483.25 237.44,478.37 232.47,482.60" fill="#00ff54"/><polygon points="232.47,482.60 237.44,478.37 231.09,473.50 226.09,477.69" fill="#00ff38"/><polygon points="226.09,477.69 231.09,473.50 224.71,468.65 219.70,472.79" fill="#00ff1b"/><polygon points="219.70,472.79 224.71,468.65 218.32,463.81 213.28,467.91" fill="#01ff00"/><polygon points="213.28,467.91 218.32,463.81 211.90,458.98 206.83,463.04" fill="#1dff00"/><polygon points="206.83,463.04 211.90,458.98 205.46,454.17 200.37,458.18" fill="#3aff00"/><polygon points="200.37,458.18 205.46,454.17 199.00,449.37 193.89,453.34" fill="#56ff00"/><polygon points="193.89,453.34 199.00,449.37 192.52,444.58 187.38,448.51" fill="#72ff00"/><polygon points="187.38,448.51 192.52,444.58 186.02,439.81 180.86,443.70" fill="#8fff00"/><polygon points="180.86,443.70 186.02,439.81 179.50,435.05 174.31,438.90" fill="#abff00"/><polygon points="174.31,438.90 179.50,435.05 172.96,430.30 167.74,434.11" fill="#c7ff00"/><polygon points="167.74,434.11 172.96,430.30 166.39,425.57 161.15,429.34" fill="#e4ff00"/><polygon points="161.15,429.34 166.39,425.57 159.80,420.85 154.53,424.58" fill="#fffe00"/><polygon points="154.53,424.58 159.80,420.85 153.20,416.14 147.90,419.83" fill="#ffe200"/><polygon points="147.90,419.83 153.20,416.14 146.57,411.45 141.25,415.10" fill="#ffc500"/><polygon points="275.12,507.84 279.96,503.34 273.76,498.44 268.90,502.90" fill="#00ffd9"/><polygon points="268.90,502.90 273.76,498.44 267.53,493.56 262.65,497.96" fill="#00ffbd"/><polygon points="262.65,497.96 267.53,493.56 261.29,488.69 256.38,493.05" fill="#00ffa1"/><polygon points="256.38,493.05 261.29,488.69 255.02,483.83 250.09,488.14" fill="#00ff84"/><polygon points="250.09,488.14 255.02,483.83 248.73,478.98 243.78,483.25" fill="#00ff68"/><polygon points="243.78,483.25 248.73,478.98 242.42,474.15 237.44,478.37" fill="#00ff4c"/><polygon points="237.44,478.37 242.42,474.15 236.09,469.32 231.09,473.50" fill="#00ff2f"/><polygon points="231.09,473.50 236.09,469.32 229.74,464.52 224.71,468.65" fill="#00ff13"/><polygon points="224.71,468.65 229.74,464.52 223.37,459.72 218.32,463.81" fill="#09ff00"/><polygon points="218.32,463.81 223.37,459.72 216.97,454.94 211.90,458.98" fill="#26ff00"/><polygon points="211.90,458.98 216.97,454.94 210.56,450.17 205.46,454.17" fill="#42ff00"/><polygon points="205.46,454.17 210.56,450.17 204.13,445.41 199.00,449.37" fill="#5eff00"/><polygon points="199.00,449.37 204.13,445.41 197.67,440.66 192.52,444.58" fill="#7bff00"/><polygon points="192.52,444.58 197.67,440.66 191.19,435.93 186.02,439.81" fill="#97ff00"/><polygon points="186.02,439.81 191.19,435.93 184.70,431.21 179.50,435.05" fill="#b3ff00"/><polygon points="179.50,435.05 184.70,431.21 178.18,426.50 172.96,430.30" fill="#d0ff00"/><polygon points="172.96,430.30 178.18,426.50 171.64,421.81 166.39,425.57" fill="#ecff00"/><polygon points="166.39,425.57 171.64,421.81 165.08,417.13 159.80,420.85" fill="#fff600"/><polygon points="159.80,420.85 165.08,417.13 158.50,412.46 153.20,416.14" fill="#ffd900"/><polygon points="153.20,416.14 158.50,412.46 151.90,407.80 146.57,411.45" fill="#ffbd00"/></g>
<g fill="none" stroke="#050505" stroke-width="0.85" stroke-opacity="0.9"><polyline points="184.08,594.88 177.45,589.00 170.80,583.15 164.12,577.31 157.42,571.50 150.69,565.72 143.93,559.95 137.14,554.21 130.33,548.50 123.50,542.81 116.63,537.14 109.74,531.49 102.83,525.87 95.89,520.27 88.92,514.70 81.92,509.14 74.90,503.62 67.85,498.11 60.78,492.63 53.68,487.17 46.55,481.74"/><polyline points="184.08,594.88 188.83,590.23 193.58,585.58 198.34,580.95 203.10,576.32 207.86,571.69 212.63,567.08 217.41,562.47 222.19,557.88 226.98,553.29 231.77,548.71 236.57,544.13 241.37,539.57 246.18,535.01 250.99,530.46 255.80,525.92 260.63,521.39 265.45,516.86 270.29,512.35 275.12,507.84 279.96,503.34"/><polyline points="188.83,590.23 182.22,584.40 175.59,578.59 168.93,572.81 162.25,567.05 155.54,561.31 148.80,555.60 142.04,549.90 135.25,544.23 128.44,538.59 121.59,532.96 114.73,527.36 107.84,521.79 100.92,516.23 93.97,510.70 87.00,505.19 80.01,499.71 72.98,494.24 65.93,488.80 58.86,483.39 51.76,477.99"/><polyline points="177.45,589.00 182.22,584.40 186.99,579.80 191.77,575.22 196.55,570.64 201.34,566.06 206.13,561.50 210.93,556.94 215.73,552.40 220.54,547.86 225.35,543.32 230.17,538.80 234.99,534.28 239.82,529.78 244.65,525.28 249.49,520.78 254.33,516.30 259.18,511.82 264.04,507.36 268.90,502.90 273.76,498.44"/><polyline points="193.58,585.58 186.99,579.80 180.38,574.05 173.74,568.31 167.08,562.60 160.39,556.91 153.68,551.24 146.94,545.60 140.17,539.98 133.38,534.38 126.56,528.80 119.72,523.24 112.85,517.71 105.95,512.20 99.03,506.71 92.09,501.25 85.12,495.80 78.12,490.38 71.09,484.98 64.04,479.61 56.97,474.25"/><polyline points="170.80,583.15 175.59,578.59 180.38,574.05 185.18,569.51 189.98,564.98 194.79,560.46 199.60,555.94 204.42,551.43 209.24,546.94 214.07,542.44 218.91,537.96 223.75,533.49 228.59,529.02 233.44,524.56 238.29,520.11 243.15,515.66 248.02,511.23 252.89,506.80 257.77,502.38 262.65,497.96 267.53,493.56"/><polyline points="198.34,580.95 191.77,575.22 185.18,569.51 178.56,563.82 171.92,558.16 165.25,552.52 158.56,546.90 151.84,541.30 145.10,535.73 138.33,530.17 131.54,524.64 124.71,519.13 117.87,513.64 111.00,508.17 104.10,502.73 97.18,497.31 90.23,491.90 83.26,486.53 76.26,481.17 69.24,475.83 62.19,470.52"/><polyline points="164.12,577.31 168.93,572.81 173.74,568.31 178.56,563.82 183.39,559.34 188.22,554.87 193.05,550.40 197.89,545.95 202.73,541.49 207.58,537.05 212.44,532.62 217.30,528.19 222.17,523.77 227.04,519.36 231.91,514.95 236.80,510.56 241.68,506.17 246.58,501.78 251.47,497.41 256.38,493.05 261.29,488.69"/><polyline points="203.10,576.32 196.55,570.64 189.98,564.98 183.39,559.34 176.77,553.73 170.12,548.13 163.45,542.56 156.75,537.01 150.03,531.48 143.29,525.97 136.51,520.49 129.72,515.02 122.89,509.58 116.05,504.15 109.18,498.75 102.28,493.37 95.35,488.01 88.41,482.67 81.43,477.36 74.43,472.06 67.41,466.79"/><polyline points="157.42,571.50 162.25,567.05 167.08,562.60 171.92,558.16 176.77,553.73 181.62,549.30 186.47,544.89 191.33,540.47 196.20,536.07 201.07,531.68 205.95,527.29 210.83,522.91 215.72,518.54 220.61,514.17 225.51,509.81 230.42,505.46 235.33,501.12 240.24,496.79 245.16,492.46 250.09,488.14 255.02,483.83"/><polyline points="207.86,571.69 201.34,566.06 194.79,560.46 188.22,554.87 181.62,549.30 174.99,543.76 168.34,538.23 161.67,532.73 154.97,527.24 148.25,521.78 141.50,516.34 134.73,510.92 127.93,505.52 121.10,500.14 114.25,494.78 107.38,489.44 100.48,484.13 93.56,478.83 86.61,473.55 79.64,468.30 72.64,463.07"/><polyline points="150.69,565.72 155.54,561.31 160.39,556.91 165.25,552.52 170.12,548.13 174.99,543.76 179.87,539.39 184.75,535.02 189.64,530.67 194.54,526.32 199.44,521.98 204.34,517.65 209.25,513.32 214.17,509.00 219.09,504.69 224.01,500.39 228.95,496.09 233.88,491.80 238.83,487.52 243.78,483.25 248.73,478.98"/><polyline points="212.63,567.08 206.13,561.50 199.60,555.94 193.05,550.40 186.47,544.89 179.87,539.39 173.24,533.91 166.59,528.45 159.92,523.01 153.21,517.60 146.49,512.20 139.74,506.82 132.96,501.47 126.17,496.13 119.34,490.82 112.49,485.52 105.62,480.24 98.72,474.99 91.80,469.75 84.85,464.54 77.88,459.35"/><polyline points="143.93,559.95 148.80,555.60 153.68,551.24 158.56,546.90 163.45,542.56 168.34,538.23 173.24,533.91 178.15,529.59 183.06,525.29 187.98,520.98 192.90,516.69 197.82,512.40 202.76,508.12 207.70,503.85 212.64,499.59 217.59,495.33 222.54,491.08 227.50,486.83 232.47,482.60 237.44,478.37 242.42,474.15"/><polyline points="217.41,562.47 210.93,556.94 204.42,551.43 197.89,545.95 191.33,540.47 184.75,535.02 178.15,529.59 171.52,524.18 164.87,518.79 158.19,513.42 151.49,508.07 144.76,502.74 138.01,497.42 131.23,492.13 124.43,486.86 117.61,481.60 110.76,476.37 103.89,471.16 96.99,465.96 90.07,460.79 83.12,455.63"/><polyline points="137.14,554.21 142.04,549.90 146.94,545.60 151.84,541.30 156.75,537.01 161.67,532.73 166.59,528.45 171.52,524.18 176.45,519.92 181.39,515.67 186.34,511.42 191.29,507.18 196.24,502.94 201.20,498.72 206.17,494.50 211.14,490.28 216.12,486.08 221.10,481.88 226.09,477.69 231.09,473.50 236.09,469.32"/><polyline points="222.19,557.88 215.73,552.40 209.24,546.94 202.73,541.49 196.20,536.07 189.64,530.67 183.06,525.29 176.45,519.92 169.82,514.58 163.17,509.25 156.49,503.94 149.79,498.65 143.06,493.38 136.31,488.13 129.53,482.90 122.73,477.69 115.91,472.50 109.06,467.33 102.19,462.17 95.29,457.04 88.37,451.92"/><polyline points="130.33,548.50 135.25,544.23 140.17,539.98 145.10,535.73 150.03,531.48 154.97,527.24 159.92,523.01 164.87,518.79 169.82,514.58 174.78,510.37 179.75,506.16 184.72,501.97 189.70,497.78 194.69,493.60 199.68,489.42 204.67,485.25 209.68,481.09 214.68,476.94 219.70,472.79 224.71,468.65 229.74,464.52"/><polyline points="226.98,553.29 220.54,547.86 214.07,542.44 207.58,537.05 201.07,531.68 194.54,526.32 187.98,520.98 181.39,515.67 174.78,510.37 168.15,505.08 161.50,499.82 154.82,494.58 148.11,489.35 141.39,484.14 134.64,478.96 127.86,473.79 121.06,468.64 114.24,463.50 107.39,458.39 100.52,453.29 93.63,448.22"/><polyline points="123.50,542.81 128.44,538.59 133.38,534.38 138.33,530.17 143.29,525.97 148.25,521.78 153.21,517.60 158.19,513.42 163.17,509.25 168.15,505.08 173.14,500.93 178.14,496.78 183.14,492.63 188.15,488.49 193.16,484.36 198.18,480.24 203.21,476.12 208.24,472.01 213.28,467.91 218.32,463.81 223.37,459.72"/><polyline points="231.77,548.71 225.35,543.32 218.91,537.96 212.44,532.62 205.95,527.29 199.44,521.98 192.90,516.69 186.34,511.42 179.75,506.16 173.14,500.93 166.51,495.71 159.86,490.51 153.18,485.33 146.47,480.16 139.75,475.02 133.00,469.89 126.22,464.78 119.43,459.69 112.61,454.61 105.76,449.56 98.89,444.52"/><polyline points="116.63,537.14 121.59,532.96 126.56,528.80 131.54,524.64 136.51,520.49 141.50,516.34 146.49,512.20 151.49,508.07 156.49,503.94 161.50,499.82 166.51,495.71 171.53,491.60 176.56,487.50 181.59,483.41 186.63,479.32 191.67,475.24 196.72,471.17 201.77,467.10 206.83,463.04 211.90,458.98 216.97,454.94"/><polyline points="236.57,544.13 230.17,538.80 223.75,533.49 217.30,528.19 210.83,522.91 204.34,517.65 197.82,512.40 191.29,507.18 184.72,501.97 178.14,496.78 171.53,491.60 164.90,486.44 158.24,481.31 151.57,476.18 144.86,471.08 138.14,465.99 131.39,460.92 124.62,455.87 117.82,450.84 111.01,445.82 104.16,440.82"/><polyline points="109.74,531.49 114.73,527.36 119.72,523.24 124.71,519.13 129.72,515.02 134.73,510.92 139.74,506.82 144.76,502.74 149.79,498.65 154.82,494.58 159.86,490.51 164.90,486.44 169.95,482.39 175.00,478.34 180.07,474.29 185.13,470.26 190.21,466.23 195.29,462.20 200.37,458.18 205.46,454.17 210.56,450.17"/><polyline points="241.37,539.57 234.99,534.28 228.59,529.02 222.17,523.77 215.72,518.54 209.25,513.32 202.76,508.12 196.24,502.94 189.70,497.78 183.14,492.63 176.56,487.50 169.95,482.39 163.32,477.29 156.66,472.21 149.99,467.15 143.29,462.11 136.56,457.08 129.82,452.07 123.05,447.07 116.26,442.09 109.44,437.13"/><polyline points="102.83,525.87 107.84,521.79 112.85,517.71 117.87,513.64 122.89,509.58 127.93,505.52 132.96,501.47 138.01,497.42 143.06,493.38 148.11,489.35 153.18,485.33 158.24,481.31 163.32,477.29 168.40,473.28 173.48,469.28 178.58,465.29 183.67,461.30 188.78,457.32 193.89,453.34 199.00,449.37 204.13,445.41"/><polyline points="246.18,535.01 239.82,529.78 233.44,524.56 227.04,519.36 220.61,514.17 214.17,509.00 207.70,503.85 201.20,498.72 194.69,493.60 188.15,488.49 181.59,483.41 175.00,478.34 168.40,473.28 161.77,468.25 155.12,463.23 148.44,458.22 141.74,453.24 135.02,448.26 128.28,443.31 121.51,438.37 114.73,433.45"/><polyline points="95.89,520.27 100.92,516.23 105.95,512.20 111.00,508.17 116.05,504.15 121.10,500.14 126.17,496.13 131.23,492.13 136.31,488.13 141.39,484.14 146.47,480.16 151.57,476.18 156.66,472.21 161.77,468.25 166.88,464.29 172.00,460.34 177.12,456.39 182.25,452.45 187.38,448.51 192.52,444.58 197.67,440.66"/><polyline points="250.99,530.46 244.65,525.28 238.29,520.11 231.91,514.95 225.51,509.81 219.09,504.69 212.64,499.59 206.17,494.50 199.68,489.42 193.16,484.36 186.63,479.32 180.07,474.29 173.48,469.28 166.88,464.29 160.25,459.31 153.60,454.35 146.93,449.40 140.24,444.47 133.52,439.55 126.78,434.65 120.02,429.77"/><polyline points="88.92,514.70 93.97,510.70 99.03,506.71 104.10,502.73 109.18,498.75 114.25,494.78 119.34,490.82 124.43,486.86 129.53,482.90 134.64,478.96 139.75,475.02 144.86,471.08 149.99,467.15 155.12,463.23 160.25,459.31 165.39,455.40 170.54,451.49 175.69,447.59 180.86,443.70 186.02,439.81 191.19,435.93"/><polyline points="255.80,525.92 249.49,520.78 243.15,515.66 236.80,510.56 230.42,505.46 224.01,500.39 217.59,495.33 211.14,490.28 204.67,485.25 198.18,480.24 191.67,475.24 185.13,470.26 178.58,465.29 172.00,460.34 165.39,455.40 158.77,450.48 152.12,445.57 145.45,440.68 138.76,435.80 132.05,430.94 125.31,426.10"/><polyline points="81.92,509.14 87.00,505.19 92.09,501.25 97.18,497.31 102.28,493.37 107.38,489.44 112.49,485.52 117.61,481.60 122.73,477.69 127.86,473.79 133.00,469.89 138.14,465.99 143.29,462.11 148.44,458.22 153.60,454.35 158.77,450.48 163.94,446.61 169.12,442.75 174.31,438.90 179.50,435.05 184.70,431.21"/><polyline points="260.63,521.39 254.33,516.30 248.02,511.23 241.68,506.17 235.33,501.12 228.95,496.09 222.54,491.08 216.12,486.08 209.68,481.09 203.21,476.12 196.72,471.17 190.21,466.23 183.67,461.30 177.12,456.39 170.54,451.49 163.94,446.61 157.32,441.74 150.68,436.89 144.01,432.06 137.33,427.23 130.62,422.43"/><polyline points="74.90,503.62 80.01,499.71 85.12,495.80 90.23,491.90 95.35,488.01 100.48,484.13 105.62,480.24 110.76,476.37 115.91,472.50 121.06,468.64 126.22,464.78 131.39,460.92 136.56,457.08 141.74,453.24 146.93,449.40 152.12,445.57 157.32,441.74 162.53,437.93 167.74,434.11 172.96,430.30 178.18,426.50"/><polyline points="265.45,516.86 259.18,511.82 252.89,506.80 246.58,501.78 240.24,496.79 233.88,491.80 227.50,486.83 221.10,481.88 214.68,476.94 208.24,472.01 201.77,467.10 195.29,462.20 188.78,457.32 182.25,452.45 175.69,447.59 169.12,442.75 162.53,437.93 155.91,433.11 149.27,428.32 142.61,423.53 135.93,418.76"/><polyline points="67.85,498.11 72.98,494.24 78.12,490.38 83.26,486.53 88.41,482.67 93.56,478.83 98.72,474.99 103.89,471.16 109.06,467.33 114.24,463.50 119.43,459.69 124.62,455.87 129.82,452.07 135.02,448.26 140.24,444.47 145.45,440.68 150.68,436.89 155.91,433.11 161.15,429.34 166.39,425.57 171.64,421.81"/><polyline points="270.29,512.35 264.04,507.36 257.77,502.38 251.47,497.41 245.16,492.46 238.83,487.52 232.47,482.60 226.09,477.69 219.70,472.79 213.28,467.91 206.83,463.04 200.37,458.18 193.89,453.34 187.38,448.51 180.86,443.70 174.31,438.90 167.74,434.11 161.15,429.34 154.53,424.58 147.90,419.83 141.25,415.10"/><polyline points="60.78,492.63 65.93,488.80 71.09,484.98 76.26,481.17 81.43,477.36 86.61,473.55 91.80,469.75 96.99,465.96 102.19,462.17 107.39,458.39 112.61,454.61 117.82,450.84 123.05,447.07 128.28,443.31 133.52,439.55 138.76,435.80 144.01,432.06 149.27,428.32 154.53,424.58 159.80,420.85 165.08,417.13"/><polyline points="275.12,507.84 268.90,502.90 262.65,497.96 256.38,493.05 250.09,488.14 243.78,483.25 237.44,478.37 231.09,473.50 224.71,468.65 218.32,463.81 211.90,458.98 205.46,454.17 199.00,449.37 192.52,444.58 186.02,439.81 179.50,435.05 172.96,430.30 166.39,425.57 159.80,420.85 153.20,416.14 146.57,411.45"/><polyline points="53.68,487.17 58.86,483.39 64.04,479.61 69.24,475.83 74.43,472.06 79.64,468.30 84.85,464.54 90.07,460.79 95.29,457.04 100.52,453.29 105.76,449.56 111.01,445.82 116.26,442.09 121.51,438.37 126.78,434.65 132.05,430.94 137.33,427.23 142.61,423.53 147.90,419.83 153.20,416.14 158.50,412.46"/><polyline points="279.96,503.34 273.76,498.44 267.53,493.56 261.29,488.69 255.02,483.83 248.73,478.98 242.42,474.15 236.09,469.32 229.74,464.52 223.37,459.72 216.97,454.94 210.56,450.17 204.13,445.41 197.67,440.66 191.19,435.93 184.70,431.21 178.18,426.50 171.64,421.81 165.08,417.13 158.50,412.46 151.90,407.80"/><polyline points="46.55,481.74 51.76,477.99 56.97,474.25 62.19,470.52 67.41,466.79 72.64,463.07 77.88,459.35 83.12,455.63 88.37,451.92 93.63,448.22 98.89,444.52 104.16,440.82 109.44,437.13 114.73,433.45 120.02,429.77 125.31,426.10 130.62,422.43 135.93,418.76 141.25,415.10 146.57,411.45 151.90,407.80"/></g>
<circle cx="52.63" cy="553.29" r="1.3" fill="#111"/>
<text x="47.63" y="551.29" font-size="8.5" textLength="12.60" lengthAdjust="spacingAndGlyphs" text-anchor="end" fill="#262626">160</text>
<circle cx="51.09" cy="535.18" r="1.3" fill="#111"/>
<text x="46.09" y="533.18" font-size="8.5" textLength="12.60" lengthAdjust="spacingAndGlyphs" text-anchor="end" fill="#262626">180</text>
<circle cx="49.55" cy="517.06" r="1.3" fill="#111"/>
<text x="44.55" y="515.06" font-size="8.5" textLength="12.60" lengthAdjust="spacingAndGlyphs" text-anchor="end" fill="#262626">200</text>
<circle cx="48.02" cy="498.95" r="1.3" fill="#111"/>
<text x="43.02" y="496.95" font-size="8.5" textLength="12.60" lengthAdjust="spacingAndGlyphs" text-anchor="end" fill="#262626">220</text>
<circle cx="46.48" cy="480.83" r="1.3" fill="#111"/>
<text x="41.48" y="478.83" font-size="8.5" textLength="12.60" lengthAdjust="spacingAndGlyphs" text-anchor="end" fill="#262626">240</text>
<circle cx="44.94" cy="462.72" r="1.3" fill="#111"/>
<text x="39.94" y="460.72" font-size="8.5" textLength="12.60" lengthAdjust="spacingAndGlyphs" text-anchor="end" fill="#262626">260</text>
<circle cx="43.40" cy="444.60" r="1.3" fill="#111"/>
<text x="38.40" y="442.60" font-size="8.5" textLength="12.60" lengthAdjust="spacingAndGlyphs" text-anchor="end" fill="#262626">280</text>
<circle cx="183.40" cy="650.00" r="1.3" fill="#111"/>
<text x="178.80" y="658.80" font-size="8.5" textLength="6.00" lengthAdjust="spacingAndGlyphs" text-anchor="end" fill="#262626">-1</text>
<circle cx="183.40" cy="650.00" r="1.3" fill="#111"/>
<text x="187.50" y="659.00" font-size="8.5" textLength="6.00" lengthAdjust="spacingAndGlyphs" fill="#262626">-1</text>
<circle cx="151.40" cy="633.98" r="1.3" fill="#111"/>
<text x="146.80" y="642.77" font-size="8.5" textLength="13.00" lengthAdjust="spacingAndGlyphs" text-anchor="end" fill="#262626">-0.5</text>
<circle cx="206.25" cy="629.65" r="1.3" fill="#111"/>
<text x="210.35" y="638.65" font-size="8.5" textLength="13.00" lengthAdjust="spacingAndGlyphs" fill="#262626">-0.5</text>
<circle cx="119.40" cy="617.95" r="1.3" fill="#111"/>
<text x="114.80" y="626.75" font-size="8.5" textLength="4.50" lengthAdjust="spacingAndGlyphs" text-anchor="end" fill="#262626">0</text>
<circle cx="229.10" cy="609.30" r="1.3" fill="#111"/>
<text x="233.20" y="618.30" font-size="8.5" textLength="4.50" lengthAdjust="spacingAndGlyphs" fill="#262626">0</text>
<circle cx="87.40" cy="601.92" r="1.3" fill="#111"/>
<text x="82.80" y="610.72" font-size="8.5" textLength="10.00" lengthAdjust="spacingAndGlyphs" text-anchor="end" fill="#262626">0.5</text>
<circle cx="251.95" cy="588.95" r="1.3" fill="#111"/>
<text x="256.05" y="597.95" font-size="8.5" textLength="10.00" lengthAdjust="spacingAndGlyphs" fill="#262626">0.5</text>
<circle cx="55.40" cy="585.90" r="1.3" fill="#111"/>
<text x="50.80" y="594.70" font-size="8.5" textLength="3.60" lengthAdjust="spacingAndGlyphs" text-anchor="end" fill="#262626">1</text>
<circle cx="274.80" cy="568.60" r="1.3" fill="#111"/>
<text x="278.90" y="577.60" font-size="8.5" textLength="3.60" lengthAdjust="spacingAndGlyphs" fill="#262626">1</text>
<text x="82.20" y="651.20" font-size="8.4" textLength="51.50" lengthAdjust="spacingAndGlyphs" text-anchor="middle" fill="#262626">C: Egg Lecithin</text>
<text x="274.50" y="634.60" font-size="8.4" textLength="47.70" lengthAdjust="spacingAndGlyphs" text-anchor="middle" fill="#262626">B: Cholesterol</text>
<text x="11.80" y="518.45" font-size="8.6" textLength="58.20" lengthAdjust="spacingAndGlyphs" text-anchor="middle" fill="#262626" transform="rotate(-90 11.80 518.45)">Vesicle Size (nm)</text>
<text x="27.10" y="356.40" font-size="7.1" textLength="50.80" lengthAdjust="spacingAndGlyphs" fill="#111" font-weight="bold">Vesicle Size (nm)</text>
<text x="30.00" y="366.80" font-size="6.8" textLength="14.70" lengthAdjust="spacingAndGlyphs" fill="#6060ff">169.7</text>
<rect x="48.60" y="361.00" width="22.1" height="6.2" fill="url(#cb)" stroke="#222" stroke-width="0.5"/>
<text x="75.00" y="366.80" font-size="6.8" textLength="10.50" lengthAdjust="spacingAndGlyphs" fill="#ff4848">276</text>
<text x="27.10" y="395.10" font-size="6.8" textLength="54.70" lengthAdjust="spacingAndGlyphs" fill="#262626">X1 = B: Cholesterol</text>
<text x="27.10" y="403.20" font-size="6.8" textLength="57.00" lengthAdjust="spacingAndGlyphs" fill="#262626">X2 = C: Egg Lecithin</text>
<text x="27.10" y="419.30" font-size="7.1" textLength="39.30" lengthAdjust="spacingAndGlyphs" fill="#111" font-weight="bold">Coded Factor</text>
<text x="27.10" y="427.80" font-size="6.8" textLength="56.00" lengthAdjust="spacingAndGlyphs" fill="#262626">A: Span 60 = 0.000</text>
<polygon points="403.98,553.29 503.25,489.47 503.25,387.70 394.75,444.60" fill="#fff"/>
<line x1="403.98" y1="553.29" x2="503.25" y2="489.47" stroke="#2a2a2a" stroke-width="0.9"/>
<line x1="503.25" y1="489.47" x2="628.69" y2="536.52" stroke="#2a2a2a" stroke-width="0.9"/>
<line x1="402.44" y1="535.18" x2="503.25" y2="472.51" stroke="#2a2a2a" stroke-width="0.9"/>
<line x1="503.25" y1="472.51" x2="630.10" y2="518.70" stroke="#2a2a2a" stroke-width="0.9"/>
<line x1="400.90" y1="517.06" x2="503.25" y2="455.55" stroke="#2a2a2a" stroke-width="0.9"/>
<line x1="503.25" y1="455.55" x2="631.51" y2="500.88" stroke="#2a2a2a" stroke-width="0.9"/>
<line x1="399.37" y1="498.95" x2="503.25" y2="438.58" stroke="#2a2a2a" stroke-width="0.9"/>
<line x1="503.25" y1="438.58" x2="632.92" y2="483.06" stroke="#2a2a2a" stroke-width="0.9"/>
<line x1="397.83" y1="480.83" x2="503.25" y2="421.62" stroke="#2a2a2a" stroke-width="0.9"/>
<line x1="503.25" y1="421.62" x2="634.33" y2="465.24" stroke="#2a2a2a" stroke-width="0.9"/>
<line x1="396.29" y1="462.72" x2="503.25" y2="404.66" stroke="#2a2a2a" stroke-width="0.9"/>
<line x1="503.25" y1="404.66" x2="635.74" y2="447.42" stroke="#2a2a2a" stroke-width="0.9"/>
<line x1="394.75" y1="444.60" x2="503.25" y2="387.70" stroke="#2a2a2a" stroke-width="0.9"/>
<line x1="503.25" y1="387.70" x2="637.15" y2="429.60" stroke="#2a2a2a" stroke-width="0.9"/>
<line x1="428.80" y1="537.34" x2="421.88" y2="430.38" stroke="#2a2a2a" stroke-width="0.9"/>
<line x1="597.33" y1="524.76" x2="603.68" y2="419.13" stroke="#2a2a2a" stroke-width="0.9"/>
<line x1="453.62" y1="521.38" x2="449.00" y2="416.15" stroke="#2a2a2a" stroke-width="0.9"/>
<line x1="565.97" y1="513.00" x2="570.20" y2="408.65" stroke="#2a2a2a" stroke-width="0.9"/>
<line x1="478.43" y1="505.42" x2="476.12" y2="401.92" stroke="#2a2a2a" stroke-width="0.9"/>
<line x1="534.61" y1="501.23" x2="536.73" y2="398.17" stroke="#2a2a2a" stroke-width="0.9"/>
<line x1="406.75" y1="585.90" x2="394.75" y2="444.60" stroke="#2a2a2a" stroke-width="0.9"/>
<line x1="503.25" y1="520.00" x2="503.25" y2="387.70" stroke="#2a2a2a" stroke-width="0.9"/>
<line x1="626.15" y1="568.60" x2="637.15" y2="429.60" stroke="#2a2a2a" stroke-width="0.9"/>
<polygon points="534.75,650.00 626.15,568.60 503.25,520.00 406.75,585.90" fill="#686868" stroke="#111" stroke-width="1.2" stroke-linejoin="round"/>
<polyline points="580.50,609.26 501.79,633.50" fill="none" stroke="#00b5ff" stroke-width="1.7"/>
<polyline points="625.35,569.31 469.49,617.32" fill="none" stroke="#00ffba" stroke-width="1.7"/>
<polyline points="595.69,556.55 437.18,601.14" fill="none" stroke="#00ff2b" stroke-width="1.7"/>
<polyline points="564.67,544.29 409.50,584.02" fill="none" stroke="#65ff00" stroke-width="1.7"/>
<polyline points="533.65,532.02 456.85,551.68" fill="none" stroke="#f4ff00" stroke-width="1.7"/>
<g stroke="none"><polygon points="535.35,601.33 540.09,596.00 533.51,590.15 528.75,595.42" fill="#004eff"/><polygon points="528.75,595.42 533.51,590.15 526.90,584.32 522.13,589.54" fill="#006bff"/><polygon points="522.13,589.54 526.90,584.32 520.27,578.51 515.48,583.68" fill="#0087ff"/><polygon points="515.48,583.68 520.27,578.51 513.61,572.73 508.80,577.84" fill="#00a3ff"/><polygon points="508.80,577.84 513.61,572.73 506.93,566.97 502.10,572.03" fill="#00c0ff"/><polygon points="502.10,572.03 506.93,566.97 500.22,561.23 495.37,566.24" fill="#00dcff"/><polygon points="495.37,566.24 500.22,561.23 493.48,555.51 488.62,560.48" fill="#00f8ff"/><polygon points="488.62,560.48 493.48,555.51 486.72,549.82 481.84,554.73" fill="#00ffe9"/><polygon points="481.84,554.73 486.72,549.82 479.93,544.15 475.03,549.02" fill="#00ffcd"/><polygon points="475.03,549.02 479.93,544.15 473.12,538.51 468.19,543.32" fill="#00ffb1"/><polygon points="468.19,543.32 473.12,538.51 466.27,532.88 461.33,537.65" fill="#00ff94"/><polygon points="461.33,537.65 466.27,532.88 459.41,527.28 454.45,532.00" fill="#00ff78"/><polygon points="454.45,532.00 459.41,527.28 452.52,521.71 447.53,526.38" fill="#00ff5c"/><polygon points="447.53,526.38 452.52,521.71 445.60,516.15 440.60,520.77" fill="#00ff3f"/><polygon points="440.60,520.77 445.60,516.15 438.65,510.62 433.63,515.20" fill="#00ff23"/><polygon points="433.63,515.20 438.65,510.62 431.68,505.11 426.64,509.64" fill="#00ff07"/><polygon points="426.64,509.64 431.68,505.11 424.68,499.63 419.62,504.11" fill="#16ff00"/><polygon points="419.62,504.11 424.68,499.63 417.66,494.16 412.58,498.60" fill="#32ff00"/><polygon points="412.58,498.60 417.66,494.16 410.61,488.72 405.50,493.12" fill="#4eff00"/><polygon points="405.50,493.12 410.61,488.72 403.54,483.31 398.41,487.66" fill="#6bff00"/><polygon points="540.09,596.00 544.83,590.69 538.27,584.89 533.51,590.15" fill="#005dff"/><polygon points="533.51,590.15 538.27,584.89 531.68,579.11 526.90,584.32" fill="#0079ff"/><polygon points="526.90,584.32 531.68,579.11 525.07,573.36 520.27,578.51" fill="#0096ff"/><polygon points="520.27,578.51 525.07,573.36 518.43,567.63 513.61,572.73" fill="#00b2ff"/><polygon points="513.61,572.73 518.43,567.63 511.76,561.92 506.93,566.97" fill="#00ceff"/><polygon points="506.93,566.97 511.76,561.92 505.07,556.23 500.22,561.23" fill="#00ebff"/><polygon points="500.22,561.23 505.07,556.23 498.35,550.57 493.48,555.51" fill="#00fff7"/><polygon points="493.48,555.51 498.35,550.57 491.61,544.92 486.72,549.82" fill="#00ffdb"/><polygon points="486.72,549.82 491.61,544.92 484.84,539.30 479.93,544.15" fill="#00ffbe"/><polygon points="479.93,544.15 484.84,539.30 478.05,533.71 473.12,538.51" fill="#00ffa2"/><polygon points="473.12,538.51 478.05,533.71 471.23,528.13 466.27,532.88" fill="#00ff86"/><polygon points="466.27,532.88 471.23,528.13 464.38,522.58 459.41,527.28" fill="#00ff69"/><polygon points="459.41,527.28 464.38,522.58 457.51,517.05 452.52,521.71" fill="#00ff4d"/><polygon points="452.52,521.71 457.51,517.05 450.61,511.54 445.60,516.15" fill="#00ff31"/><polygon points="445.60,516.15 450.61,511.54 443.69,506.05 438.65,510.62" fill="#00ff14"/><polygon points="438.65,510.62 443.69,506.05 436.74,500.59 431.68,505.11" fill="#08ff00"/><polygon points="431.68,505.11 436.74,500.59 429.76,495.15 424.68,499.63" fill="#24ff00"/><polygon points="424.68,499.63 429.76,495.15 422.76,489.73 417.66,494.16" fill="#41ff00"/><polygon points="417.66,494.16 422.76,489.73 415.73,484.34 410.61,488.72" fill="#5dff00"/><polygon points="410.61,488.72 415.73,484.34 408.68,478.96 403.54,483.31" fill="#79ff00"/><polygon points="544.83,590.69 549.59,585.39 543.04,579.65 538.27,584.89" fill="#006cff"/><polygon points="538.27,584.89 543.04,579.65 536.47,573.92 531.68,579.11" fill="#0088ff"/><polygon points="531.68,579.11 536.47,573.92 529.88,568.22 525.07,573.36" fill="#00a4ff"/><polygon points="525.07,573.36 529.88,568.22 523.25,562.54 518.43,567.63" fill="#00c1ff"/><polygon points="518.43,567.63 523.25,562.54 516.61,556.88 511.76,561.92" fill="#00ddff"/><polygon points="511.76,561.92 516.61,556.88 509.93,551.24 505.07,556.23" fill="#00f9ff"/><polygon points="505.07,556.23 509.93,551.24 503.24,545.63 498.35,550.57" fill="#00ffe8"/><polygon points="498.35,550.57 503.24,545.63 496.51,540.04 491.61,544.92" fill="#00ffcc"/><polygon points="491.61,544.92 496.51,540.04 489.76,534.46 484.84,539.30" fill="#00ffb0"/><polygon points="484.84,539.30 489.76,534.46 482.99,528.92 478.05,533.71" fill="#00ff93"/><polygon points="478.05,533.71 482.99,528.92 476.19,523.39 471.23,528.13" fill="#00ff77"/><polygon points="471.23,528.13 476.19,523.39 469.36,517.88 464.38,522.58" fill="#00ff5b"/><polygon points="464.38,522.58 469.36,517.88 462.51,512.40 457.51,517.05" fill="#00ff3e"/><polygon points="457.51,517.05 462.51,512.40 455.63,506.94 450.61,511.54" fill="#00ff22"/><polygon points="450.61,511.54 455.63,506.94 448.73,501.50 443.69,506.05" fill="#00ff06"/><polygon points="443.69,506.05 448.73,501.50 441.80,496.08 436.74,500.59" fill="#17ff00"/><polygon points="436.74,500.59 441.80,496.08 434.85,490.68 429.76,495.15" fill="#33ff00"/><polygon points="429.76,495.15 434.85,490.68 427.87,485.31 422.76,489.73" fill="#4fff00"/><polygon points="422.76,489.73 427.87,485.31 420.87,479.96 415.73,484.34" fill="#6cff00"/><polygon points="415.73,484.34 420.87,479.96 413.84,474.63 408.68,478.96" fill="#88ff00"/><polygon points="549.59,585.39 554.35,580.11 547.82,574.41 543.04,579.65" fill="#007aff"/><polygon points="543.04,579.65 547.82,574.41 541.27,568.74 536.47,573.92" fill="#0096ff"/><polygon points="536.47,573.92 541.27,568.74 534.69,563.09 529.88,568.22" fill="#00b3ff"/><polygon points="529.88,568.22 534.69,563.09 528.09,557.46 523.25,562.54" fill="#00cfff"/><polygon points="523.25,562.54 528.09,557.46 521.46,551.86 516.61,556.88" fill="#00ebff"/><polygon points="516.61,556.88 521.46,551.86 514.81,546.27 509.93,551.24" fill="#00fff6"/><polygon points="509.93,551.24 514.81,546.27 508.13,540.70 503.24,545.63" fill="#00ffda"/><polygon points="503.24,545.63 508.13,540.70 501.42,535.16 496.51,540.04" fill="#00ffbe"/><polygon points="496.51,540.04 501.42,535.16 494.69,529.64 489.76,534.46" fill="#00ffa1"/><polygon points="489.76,534.46 494.69,529.64 487.94,524.14 482.99,528.92" fill="#00ff85"/><polygon points="482.99,528.92 487.94,524.14 481.16,518.66 476.19,523.39" fill="#00ff69"/><polygon points="476.19,523.39 481.16,518.66 474.35,513.20 469.36,517.88" fill="#00ff4c"/><polygon points="469.36,517.88 474.35,513.20 467.52,507.76 462.51,512.40" fill="#00ff30"/><polygon points="462.51,512.40 467.52,507.76 460.67,502.35 455.63,506.94" fill="#00ff13"/><polygon points="455.63,506.94 460.67,502.35 453.78,496.95 448.73,501.50" fill="#09ff00"/><polygon points="448.73,501.50 453.78,496.95 446.88,491.58 441.80,496.08" fill="#25ff00"/><polygon points="441.80,496.08 446.88,491.58 439.95,486.23 434.85,490.68" fill="#42ff00"/><polygon points="434.85,490.68 439.95,486.23 432.99,480.90 427.87,485.31" fill="#5eff00"/><polygon points="427.87,485.31 432.99,480.90 426.01,475.59 420.87,479.96" fill="#7aff00"/><polygon points="420.87,479.96 426.01,475.59 419.00,470.30 413.84,474.63" fill="#97ff00"/><polygon points="554.35,580.11 559.13,574.84 552.61,569.20 547.82,574.41" fill="#0089ff"/><polygon points="547.82,574.41 552.61,569.20 546.08,563.58 541.27,568.74" fill="#00a5ff"/><polygon points="541.27,568.74 546.08,563.58 539.52,557.98 534.69,563.09" fill="#00c1ff"/><polygon points="534.69,563.09 539.52,557.98 532.93,552.40 528.09,557.46" fill="#00deff"/><polygon points="528.09,557.46 532.93,552.40 526.32,546.84 521.46,551.86" fill="#00faff"/><polygon points="521.46,551.86 526.32,546.84 519.69,541.31 514.81,546.27" fill="#00ffe8"/><polygon points="514.81,546.27 519.69,541.31 513.03,535.79 508.13,540.70" fill="#00ffcb"/><polygon points="508.13,540.70 513.03,535.79 506.34,530.30 501.42,535.16" fill="#00ffaf"/><polygon points="501.42,535.16 506.34,530.30 499.63,524.82 494.69,529.64" fill="#00ff93"/><polygon points="494.69,529.64 499.63,524.82 492.90,519.37 487.94,524.14" fill="#00ff76"/><polygon points="487.94,524.14 492.90,519.37 486.14,513.94 481.16,518.66" fill="#00ff5a"/><polygon points="481.16,518.66 486.14,513.94 479.35,508.53 474.35,513.20" fill="#00ff3e"/><polygon points="474.35,513.20 479.35,508.53 472.55,503.13 467.52,507.76" fill="#00ff21"/><polygon points="467.52,507.76 472.55,503.13 465.71,497.76 460.67,502.35" fill="#00ff05"/><polygon points="460.67,502.35 465.71,497.76 458.85,492.42 453.78,496.95" fill="#17ff00"/><polygon points="453.78,496.95 458.85,492.42 451.97,487.09 446.88,491.58" fill="#34ff00"/><polygon points="446.88,491.58 451.97,487.09 445.06,481.78 439.95,486.23" fill="#50ff00"/><polygon points="439.95,486.23 445.06,481.78 438.12,476.49 432.99,480.90" fill="#6cff00"/><polygon points="432.99,480.90 438.12,476.49 431.16,471.23 426.01,475.59" fill="#89ff00"/><polygon points="426.01,475.59 431.16,471.23 424.18,465.98 419.00,470.30" fill="#a5ff00"/><polygon points="559.13,574.84 563.91,569.58 557.41,563.99 552.61,569.20" fill="#0097ff"/><polygon points="552.61,569.20 557.41,563.99 550.90,558.43 546.08,563.58" fill="#00b4ff"/><polygon points="546.08,563.58 550.90,558.43 544.35,552.88 539.52,557.98" fill="#00d0ff"/><polygon points="539.52,557.98 544.35,552.88 537.79,547.35 532.93,552.40" fill="#00ecff"/><polygon points="532.93,552.40 537.79,547.35 531.20,541.85 526.32,546.84" fill="#00fff5"/><polygon points="526.32,546.84 531.20,541.85 524.58,536.36 519.69,541.31" fill="#00ffd9"/><polygon points="519.69,541.31 524.58,536.36 517.94,530.89 513.03,535.79" fill="#00ffbd"/><polygon points="513.03,535.79 517.94,530.89 511.28,525.45 506.34,530.30" fill="#00ffa0"/><polygon points="506.34,530.30 511.28,525.45 504.59,520.02 499.63,524.82" fill="#00ff84"/><polygon points="499.63,524.82 504.59,520.02 497.87,514.61 492.90,519.37" fill="#00ff68"/><polygon points="492.90,519.37 497.87,514.61 491.13,509.23 486.14,513.94" fill="#00ff4b"/><polygon points="486.14,513.94 491.13,509.23 484.37,503.86 479.35,508.53" fill="#00ff2f"/><polygon points="479.35,508.53 484.37,503.86 477.58,498.52 472.55,503.13" fill="#00ff13"/><polygon points="472.55,503.13 477.58,498.52 470.77,493.19 465.71,497.76" fill="#0aff00"/><polygon points="465.71,497.76 470.77,493.19 463.93,487.89 458.85,492.42" fill="#26ff00"/><polygon points="458.85,492.42 463.93,487.89 457.07,482.61 451.97,487.09" fill="#42ff00"/><polygon points="451.97,487.09 457.07,482.61 450.18,477.34 445.06,481.78" fill="#5fff00"/><polygon points="445.06,481.78 450.18,477.34 443.27,472.10 438.12,476.49" fill="#7bff00"/><polygon points="438.12,476.49 443.27,472.10 436.33,466.87 431.16,471.23" fill="#97ff00"/><polygon points="431.16,471.23 436.33,466.87 429.37,461.67 424.18,465.98" fill="#b4ff00"/><polygon points="563.91,569.58 568.70,564.34 562.22,558.81 557.41,563.99" fill="#00a6ff"/><polygon points="557.41,563.99 562.22,558.81 555.72,553.29 550.90,558.43" fill="#00c2ff"/><polygon points="550.90,558.43 555.72,553.29 549.20,547.79 544.35,552.88" fill="#00dfff"/><polygon points="544.35,552.88 549.20,547.79 542.65,542.32 537.79,547.35" fill="#00fbff"/><polygon points="537.79,547.35 542.65,542.32 536.08,536.86 531.20,541.85" fill="#00ffe7"/><polygon points="531.20,541.85 536.08,536.86 529.48,531.42 524.58,536.36" fill="#00ffca"/><polygon points="524.58,536.36 529.48,531.42 522.86,526.01 517.94,530.89" fill="#00ffae"/><polygon points="517.94,530.89 522.86,526.01 516.22,520.61 511.28,525.45" fill="#00ff92"/><polygon points="511.28,525.45 516.22,520.61 509.55,515.23 504.59,520.02" fill="#00ff75"/><polygon points="504.59,520.02 509.55,515.23 502.85,509.87 497.87,514.61" fill="#00ff59"/><polygon points="497.87,514.61 502.85,509.87 496.13,504.53 491.13,509.23" fill="#00ff3d"/><polygon points="491.13,509.23 496.13,504.53 489.39,499.21 484.37,503.86" fill="#00ff20"/><polygon points="484.37,503.86 489.39,499.21 482.62,493.91 477.58,498.52" fill="#00ff04"/><polygon points="477.58,498.52 482.62,493.91 475.83,488.63 470.77,493.19" fill="#18ff00"/><polygon points="470.77,493.19 475.83,488.63 469.02,483.37 463.93,487.89" fill="#35ff00"/><polygon points="463.93,487.89 469.02,483.37 462.18,478.13 457.07,482.61" fill="#51ff00"/><polygon points="457.07,482.61 462.18,478.13 455.31,472.91 450.18,477.34" fill="#6dff00"/><polygon points="450.18,477.34 455.31,472.91 448.42,467.71 443.27,472.10" fill="#8aff00"/><polygon points="443.27,472.10 448.42,467.71 441.51,462.53 436.33,466.87" fill="#a6ff00"/><polygon points="436.33,466.87 441.51,462.53 434.57,457.37 429.37,461.67" fill="#c2ff00"/><polygon points="568.70,564.34 573.50,559.12 567.04,553.63 562.22,558.81" fill="#00b4ff"/><polygon points="562.22,558.81 567.04,553.63 560.56,548.17 555.72,553.29" fill="#00d1ff"/><polygon points="555.72,553.29 560.56,548.17 554.05,542.72 549.20,547.79" fill="#00edff"/><polygon points="549.20,547.79 554.05,542.72 547.53,537.29 542.65,542.32" fill="#00fff5"/><polygon points="542.65,542.32 547.53,537.29 540.97,531.89 536.08,536.86" fill="#00ffd8"/><polygon points="536.08,536.86 540.97,531.89 534.39,526.50 529.48,531.42" fill="#00ffbc"/><polygon points="529.48,531.42 534.39,526.50 527.79,521.13 522.86,526.01" fill="#00ffa0"/><polygon points="522.86,526.01 527.79,521.13 521.17,515.78 516.22,520.61" fill="#00ff83"/><polygon points="516.22,520.61 521.17,515.78 514.52,510.45 509.55,515.23" fill="#00ff67"/><polygon points="509.55,515.23 514.52,510.45 507.85,505.14 502.85,509.87" fill="#00ff4b"/><polygon points="502.85,509.87 507.85,505.14 501.15,499.85 496.13,504.53" fill="#00ff2e"/><polygon points="496.13,504.53 501.15,499.85 494.43,494.57 489.39,499.21" fill="#00ff12"/><polygon points="489.39,499.21 494.43,494.57 487.68,489.32 482.62,493.91" fill="#0aff00"/><polygon points="482.62,493.91 487.68,489.32 480.91,484.08 475.83,488.63" fill="#27ff00"/><polygon points="475.83,488.63 480.91,484.08 474.12,478.87 469.02,483.37" fill="#43ff00"/><polygon points="469.02,483.37 474.12,478.87 467.30,473.67 462.18,478.13" fill="#5fff00"/><polygon points="462.18,478.13 467.30,473.67 460.46,468.49 455.31,472.91" fill="#7cff00"/><polygon points="455.31,472.91 460.46,468.49 453.59,463.34 448.42,467.71" fill="#98ff00"/><polygon points="448.42,467.71 453.59,463.34 446.70,458.20 441.51,462.53" fill="#b4ff00"/><polygon points="441.51,462.53 446.70,458.20 439.78,453.08 434.57,457.37" fill="#d1ff00"/><polygon points="573.50,559.12 578.30,553.90 571.87,548.47 567.04,553.63" fill="#00c3ff"/><polygon points="567.04,553.63 571.87,548.47 565.40,543.06 560.56,548.17" fill="#00dfff"/><polygon points="560.56,548.17 565.40,543.06 558.92,537.66 554.05,542.72" fill="#00fcff"/><polygon points="554.05,542.72 558.92,537.66 552.41,532.29 547.53,537.29" fill="#00ffe6"/><polygon points="547.53,537.29 552.41,532.29 545.87,526.93 540.97,531.89" fill="#00ffca"/><polygon points="540.97,531.89 545.87,526.93 539.32,521.59 534.39,526.50" fill="#00ffad"/><polygon points="534.39,526.50 539.32,521.59 532.74,516.27 527.79,521.13" fill="#00ff91"/><polygon points="527.79,521.13 532.74,516.27 526.13,510.97 521.17,515.78" fill="#00ff75"/><polygon points="521.17,515.78 526.13,510.97 519.50,505.68 514.52,510.45" fill="#00ff58"/><polygon points="514.52,510.45 519.50,505.68 512.85,500.42 507.85,505.14" fill="#00ff3c"/><polygon points="507.85,505.14 512.85,500.42 506.17,495.17 501.15,499.85" fill="#00ff20"/><polygon points="501.15,499.85 506.17,495.17 499.47,489.94 494.43,494.57" fill="#00ff03"/><polygon points="494.43,494.57 499.47,489.94 492.75,484.73 487.68,489.32" fill="#19ff00"/><polygon points="487.68,489.32 492.75,484.73 486.00,479.54 480.91,484.08" fill="#35ff00"/><polygon points="480.91,484.08 486.00,479.54 479.23,474.37 474.12,478.87" fill="#52ff00"/><polygon points="474.12,478.87 479.23,474.37 472.43,469.22 467.30,473.67" fill="#6eff00"/><polygon points="467.30,473.67 472.43,469.22 465.61,464.08 460.46,468.49" fill="#8aff00"/><polygon points="460.46,468.49 465.61,464.08 458.77,458.97 453.59,463.34" fill="#a7ff00"/><polygon points="453.59,463.34 458.77,458.97 451.90,453.87 446.70,458.20" fill="#c3ff00"/><polygon points="446.70,458.20 451.90,453.87 445.01,448.79 439.78,453.08" fill="#dfff00"/><polygon points="578.30,553.90 583.12,548.71 576.70,543.32 571.87,548.47" fill="#00d2ff"/><polygon points="571.87,548.47 576.70,543.32 570.26,537.96 565.40,543.06" fill="#00eeff"/><polygon points="565.40,543.06 570.26,537.96 563.79,532.62 558.92,537.66" fill="#00fff4"/><polygon points="558.92,537.66 563.79,532.62 557.30,527.29 552.41,532.29" fill="#00ffd7"/><polygon points="552.41,532.29 557.30,527.29 550.79,521.98 545.87,526.93" fill="#00ffbb"/><polygon points="545.87,526.93 550.79,521.98 544.25,516.69 539.32,521.59" fill="#00ff9f"/><polygon points="539.32,521.59 544.25,516.69 537.69,511.42 532.74,516.27" fill="#00ff82"/><polygon points="532.74,516.27 537.69,511.42 531.10,506.16 526.13,510.97" fill="#00ff66"/><polygon points="526.13,510.97 531.10,506.16 524.49,500.93 519.50,505.68" fill="#00ff4a"/><polygon points="519.50,505.68 524.49,500.93 517.86,495.71 512.85,500.42" fill="#00ff2d"/><polygon points="512.85,500.42 517.86,495.71 511.21,490.51 506.17,495.17" fill="#00ff11"/><polygon points="506.17,495.17 511.21,490.51 504.53,485.33 499.47,489.94" fill="#0bff00"/><polygon points="499.47,489.94 504.53,485.33 497.82,480.16 492.75,484.73" fill="#28ff00"/><polygon points="492.75,484.73 497.82,480.16 491.10,475.02 486.00,479.54" fill="#44ff00"/><polygon points="486.00,479.54 491.10,475.02 484.35,469.89 479.23,474.37" fill="#60ff00"/><polygon points="479.23,474.37 484.35,469.89 477.57,464.78 472.43,469.22" fill="#7dff00"/><polygon points="472.43,469.22 477.57,464.78 470.78,459.69 465.61,464.08" fill="#99ff00"/><polygon points="465.61,464.08 470.78,459.69 463.96,454.61 458.77,458.97" fill="#b5ff00"/><polygon points="458.77,458.97 463.96,454.61 457.11,449.56 451.90,453.87" fill="#d2ff00"/><polygon points="451.90,453.87 457.11,449.56 450.24,444.52 445.01,448.79" fill="#eeff00"/><polygon points="583.12,548.71 587.95,543.52 581.54,538.19 576.70,543.32" fill="#00e0ff"/><polygon points="576.70,543.32 581.54,538.19 575.12,532.88 570.26,537.96" fill="#00fdff"/><polygon points="570.26,537.96 575.12,532.88 568.67,527.58 563.79,532.62" fill="#00ffe5"/><polygon points="563.79,532.62 568.67,527.58 562.20,522.31 557.30,527.29" fill="#00ffc9"/><polygon points="557.30,527.29 562.20,522.31 555.71,517.05 550.79,521.98" fill="#00ffac"/><polygon points="550.79,521.98 555.71,517.05 549.19,511.80 544.25,516.69" fill="#00ff90"/><polygon points="544.25,516.69 549.19,511.80 542.65,506.58 537.69,511.42" fill="#00ff74"/><polygon points="537.69,511.42 542.65,506.58 536.08,501.37 531.10,506.16" fill="#00ff57"/><polygon points="531.10,506.16 536.08,501.37 529.49,496.18 524.49,500.93" fill="#00ff3b"/><polygon points="524.49,500.93 529.49,496.18 522.88,491.01 517.86,495.71" fill="#00ff1f"/><polygon points="517.86,495.71 522.88,491.01 516.25,485.86 511.21,490.51" fill="#00ff02"/><polygon points="511.21,490.51 516.25,485.86 509.59,480.72 504.53,485.33" fill="#1aff00"/><polygon points="504.53,485.33 509.59,480.72 502.91,475.60 497.82,480.16" fill="#36ff00"/><polygon points="497.82,480.16 502.91,475.60 496.21,470.50 491.10,475.02" fill="#53ff00"/><polygon points="491.10,475.02 496.21,470.50 489.48,465.41 484.35,469.89" fill="#6fff00"/><polygon points="484.35,469.89 489.48,465.41 482.73,460.35 477.57,464.78" fill="#8bff00"/><polygon points="477.57,464.78 482.73,460.35 475.95,455.30 470.78,459.69" fill="#a8ff00"/><polygon points="470.78,459.69 475.95,455.30 469.16,450.26 463.96,454.61" fill="#c4ff00"/><polygon points="463.96,454.61 469.16,450.26 462.34,445.25 457.11,449.56" fill="#e0ff00"/><polygon points="457.11,449.56 462.34,445.25 455.49,440.25 450.24,444.52" fill="#fdff00"/><polygon points="587.95,543.52 592.78,538.35 586.40,533.07 581.54,538.19" fill="#00efff"/><polygon points="581.54,538.19 586.40,533.07 579.99,527.81 575.12,532.88" fill="#00fff3"/><polygon points="575.12,532.88 579.99,527.81 573.56,522.57 568.67,527.58" fill="#00ffd7"/><polygon points="568.67,527.58 573.56,522.57 567.11,517.34 562.20,522.31" fill="#00ffba"/><polygon points="562.20,522.31 567.11,517.34 560.64,512.13 555.71,517.05" fill="#00ff9e"/><polygon points="555.71,517.05 560.64,512.13 554.14,506.93 549.19,511.80" fill="#00ff82"/><polygon points="549.19,511.80 554.14,506.93 547.62,501.75 542.65,506.58" fill="#00ff65"/><polygon points="542.65,506.58 547.62,501.75 541.07,496.59 536.08,501.37" fill="#00ff49"/><polygon points="536.08,501.37 541.07,496.59 534.51,491.45 529.49,496.18" fill="#00ff2d"/><polygon points="529.49,496.18 534.51,491.45 527.92,486.32 522.88,491.01" fill="#00ff10"/><polygon points="522.88,491.01 527.92,486.32 521.30,481.21 516.25,485.86" fill="#0cff00"/><polygon points="516.25,485.86 521.30,481.21 514.67,476.12 509.59,480.72" fill="#28ff00"/><polygon points="509.59,480.72 514.67,476.12 508.01,471.05 502.91,475.60" fill="#45ff00"/><polygon points="502.91,475.60 508.01,471.05 501.33,465.99 496.21,470.50" fill="#61ff00"/><polygon points="496.21,470.50 501.33,465.99 494.62,460.95 489.48,465.41" fill="#7dff00"/><polygon points="489.48,465.41 494.62,460.95 487.89,455.92 482.73,460.35" fill="#9aff00"/><polygon points="482.73,460.35 487.89,455.92 481.14,450.92 475.95,455.30" fill="#b6ff00"/><polygon points="475.95,455.30 481.14,450.92 474.37,445.93 469.16,450.26" fill="#d2ff00"/><polygon points="469.16,450.26 474.37,445.93 467.57,440.95 462.34,445.25" fill="#efff00"/><polygon points="462.34,445.25 467.57,440.95 460.75,436.00 455.49,440.25" fill="#fff300"/><polygon points="592.78,538.35 597.62,533.20 591.26,527.97 586.40,533.07" fill="#00fdff"/><polygon points="586.40,533.07 591.26,527.97 584.87,522.76 579.99,527.81" fill="#00ffe4"/><polygon points="579.99,527.81 584.87,522.76 578.46,517.56 573.56,522.57" fill="#00ffc8"/><polygon points="573.56,522.57 578.46,517.56 572.03,512.38 567.11,517.34" fill="#00ffac"/><polygon points="567.11,517.34 572.03,512.38 565.58,507.22 560.64,512.13" fill="#00ff8f"/><polygon points="560.64,512.13 565.58,507.22 559.10,502.07 554.14,506.93" fill="#00ff73"/><polygon points="554.14,506.93 559.10,502.07 552.60,496.94 547.62,501.75" fill="#00ff57"/><polygon points="547.62,501.75 552.60,496.94 546.08,491.83 541.07,496.59" fill="#00ff3a"/><polygon points="541.07,496.59 546.08,491.83 539.53,486.73 534.51,491.45" fill="#00ff1e"/><polygon points="534.51,491.45 539.53,486.73 532.96,481.65 527.92,486.32" fill="#00ff02"/><polygon points="527.92,486.32 532.96,481.65 526.37,476.58 521.30,481.21" fill="#1bff00"/><polygon points="521.30,481.21 526.37,476.58 519.76,471.54 514.67,476.12" fill="#37ff00"/><polygon points="514.67,476.12 519.76,471.54 513.12,466.51 508.01,471.05" fill="#53ff00"/><polygon points="508.01,471.05 513.12,466.51 506.46,461.49 501.33,465.99" fill="#70ff00"/><polygon points="501.33,465.99 506.46,461.49 499.78,456.49 494.62,460.95" fill="#8cff00"/><polygon points="494.62,460.95 499.78,456.49 493.07,451.51 487.89,455.92" fill="#a8ff00"/><polygon points="487.89,455.92 493.07,451.51 486.34,446.54 481.14,450.92" fill="#c5ff00"/><polygon points="481.14,450.92 486.34,446.54 479.59,441.60 474.37,445.93" fill="#e1ff00"/><polygon points="474.37,445.93 479.59,441.60 472.82,436.66 467.57,440.95" fill="#fdff00"/><polygon points="467.57,440.95 472.82,436.66 466.02,431.75 460.75,436.00" fill="#ffe400"/><polygon points="597.62,533.20 602.48,528.06 596.13,522.88 591.26,527.97" fill="#00fff2"/><polygon points="591.26,527.97 596.13,522.88 589.76,517.72 584.87,522.76" fill="#00ffd6"/><polygon points="584.87,522.76 589.76,517.72 583.37,512.57 578.46,517.56" fill="#00ffb9"/><polygon points="578.46,517.56 583.37,512.57 576.96,507.44 572.03,512.38" fill="#00ff9d"/><polygon points="572.03,512.38 576.96,507.44 570.53,502.32 565.58,507.22" fill="#00ff81"/><polygon points="565.58,507.22 570.53,502.32 564.07,497.22 559.10,502.07" fill="#00ff64"/><polygon points="559.10,502.07 564.07,497.22 557.59,492.14 552.60,496.94" fill="#00ff48"/><polygon points="552.60,496.94 557.59,492.14 551.09,487.07 546.08,491.83" fill="#00ff2c"/><polygon points="546.08,491.83 551.09,487.07 544.56,482.02 539.53,486.73" fill="#00ff0f"/><polygon points="539.53,486.73 544.56,482.02 538.01,476.99 532.96,481.65" fill="#0dff00"/><polygon points="532.96,481.65 538.01,476.99 531.44,471.97 526.37,476.58" fill="#29ff00"/><polygon points="526.37,476.58 531.44,471.97 524.85,466.96 519.76,471.54" fill="#46ff00"/><polygon points="519.76,471.54 524.85,466.96 518.24,461.98 513.12,466.51" fill="#62ff00"/><polygon points="513.12,466.51 518.24,461.98 511.60,457.00 506.46,461.49" fill="#7eff00"/><polygon points="506.46,461.49 511.60,457.00 504.94,452.05 499.78,456.49" fill="#9bff00"/><polygon points="499.78,456.49 504.94,452.05 498.26,447.11 493.07,451.51" fill="#b7ff00"/><polygon points="493.07,451.51 498.26,447.11 491.55,442.18 486.34,446.54" fill="#d3ff00"/><polygon points="486.34,446.54 491.55,442.18 484.83,437.28 479.59,441.60" fill="#f0ff00"/><polygon points="479.59,441.60 484.83,437.28 478.08,432.38 472.82,436.66" fill="#fff200"/><polygon points="472.82,436.66 478.08,432.38 471.31,427.51 466.02,431.75" fill="#ffd600"/><polygon points="602.48,528.06 607.34,522.93 601.01,517.80 596.13,522.88" fill="#00ffe4"/><polygon points="596.13,522.88 601.01,517.80 594.66,512.69 589.76,517.72" fill="#00ffc7"/><polygon points="589.76,517.72 594.66,512.69 588.29,507.59 583.37,512.57" fill="#00ffab"/><polygon points="583.37,512.57 588.29,507.59 581.90,502.51 576.96,507.44" fill="#00ff8f"/><polygon points="576.96,507.44 581.90,502.51 575.49,497.44 570.53,502.32" fill="#00ff72"/><polygon points="570.53,502.32 575.49,497.44 569.05,492.39 564.07,497.22" fill="#00ff56"/><polygon points="564.07,497.22 569.05,492.39 562.59,487.35 557.59,492.14" fill="#00ff3a"/><polygon points="557.59,492.14 562.59,487.35 556.11,482.33 551.09,487.07" fill="#00ff1d"/><polygon points="551.09,487.07 556.11,482.33 549.60,477.32 544.56,482.02" fill="#00ff01"/><polygon points="544.56,482.02 549.60,477.32 543.08,472.33 538.01,476.99" fill="#1bff00"/><polygon points="538.01,476.99 543.08,472.33 536.53,467.36 531.44,471.97" fill="#38ff00"/><polygon points="531.44,471.97 536.53,467.36 529.96,462.40 524.85,466.96" fill="#54ff00"/><polygon points="524.85,466.96 529.96,462.40 523.37,457.46 518.24,461.98" fill="#70ff00"/><polygon points="518.24,461.98 523.37,457.46 516.75,452.53 511.60,457.00" fill="#8dff00"/><polygon points="511.60,457.00 516.75,452.53 510.12,447.61 504.94,452.05" fill="#a9ff00"/><polygon points="504.94,452.05 510.12,447.61 503.46,442.71 498.26,447.11" fill="#c6ff00"/><polygon points="498.26,447.11 503.46,442.71 496.78,437.83 491.55,442.18" fill="#e2ff00"/><polygon points="491.55,442.18 496.78,437.83 490.07,432.96 484.83,437.28" fill="#feff00"/><polygon points="484.83,437.28 490.07,432.96 483.35,428.11 478.08,432.38" fill="#ffe300"/><polygon points="478.08,432.38 483.35,428.11 476.60,423.28 471.31,427.51" fill="#ffc700"/><polygon points="607.34,522.93 612.21,517.82 605.90,512.74 601.01,517.80" fill="#00ffd5"/><polygon points="601.01,517.80 605.90,512.74 599.57,507.68 594.66,512.69" fill="#00ffb9"/><polygon points="594.66,512.69 599.57,507.68 593.22,502.63 588.29,507.59" fill="#00ff9c"/><polygon points="588.29,507.59 593.22,502.63 586.85,497.59 581.90,502.51" fill="#00ff80"/><polygon points="581.90,502.51 586.85,497.59 580.45,492.57 575.49,497.44" fill="#00ff64"/><polygon points="575.49,497.44 580.45,492.57 574.04,487.57 569.05,492.39" fill="#00ff47"/><polygon points="569.05,492.39 574.04,487.57 567.60,482.58 562.59,487.35" fill="#00ff2b"/><polygon points="562.59,487.35 567.60,482.58 561.14,477.60 556.11,482.33" fill="#00ff0f"/><polygon points="556.11,482.33 561.14,477.60 554.66,472.64 549.60,477.32" fill="#0eff00"/><polygon points="549.60,477.32 554.66,472.64 548.15,467.69 543.08,472.33" fill="#2aff00"/><polygon points="543.08,472.33 548.15,467.69 541.63,462.76 536.53,467.36" fill="#46ff00"/><polygon points="536.53,467.36 541.63,462.76 535.08,457.85 529.96,462.40" fill="#63ff00"/><polygon points="529.96,462.40 535.08,457.85 528.51,452.95 523.37,457.46" fill="#7fff00"/><polygon points="523.37,457.46 528.51,452.95 521.92,448.06 516.75,452.53" fill="#9bff00"/><polygon points="516.75,452.53 521.92,448.06 515.30,443.19 510.12,447.61" fill="#b8ff00"/><polygon points="510.12,447.61 515.30,443.19 508.67,438.33 503.46,442.71" fill="#d4ff00"/><polygon points="503.46,442.71 508.67,438.33 502.01,433.49 496.78,437.83" fill="#f0ff00"/><polygon points="496.78,437.83 502.01,433.49 495.33,428.66 490.07,432.96" fill="#fff100"/><polygon points="490.07,432.96 495.33,428.66 488.63,423.85 483.35,428.11" fill="#ffd500"/><polygon points="483.35,428.11 488.63,423.85 481.91,419.05 476.60,423.28" fill="#ffb900"/><polygon points="612.21,517.82 617.09,512.72 610.80,507.69 605.90,512.74" fill="#00ffc6"/><polygon points="605.90,512.74 610.80,507.69 604.49,502.68 599.57,507.68" fill="#00ffaa"/><polygon points="599.57,507.68 604.49,502.68 598.16,497.67 593.22,502.63" fill="#00ff8e"/><polygon points="593.22,502.63 598.16,497.67 591.81,492.69 586.85,497.59" fill="#00ff71"/><polygon points="586.85,497.59 591.81,492.69 585.43,487.71 580.45,492.57" fill="#00ff55"/><polygon points="580.45,492.57 585.43,487.71 579.04,482.76 574.04,487.57" fill="#00ff39"/><polygon points="574.04,487.57 579.04,482.76 572.62,477.81 567.60,482.58" fill="#00ff1c"/><polygon points="567.60,482.58 572.62,477.81 566.18,472.88 561.14,477.60" fill="#00ff00"/><polygon points="561.14,477.60 566.18,472.88 559.72,467.97 554.66,472.64" fill="#1cff00"/><polygon points="554.66,472.64 559.72,467.97 553.24,463.07 548.15,467.69" fill="#39ff00"/><polygon points="548.15,467.69 553.24,463.07 546.73,458.18 541.63,462.76" fill="#55ff00"/><polygon points="541.63,462.76 546.73,458.18 540.21,453.31 535.08,457.85" fill="#71ff00"/><polygon points="535.08,457.85 540.21,453.31 533.66,448.45 528.51,452.95" fill="#8eff00"/><polygon points="528.51,452.95 533.66,448.45 527.09,443.60 521.92,448.06" fill="#aaff00"/><polygon points="521.92,448.06 527.09,443.60 520.50,438.77 515.30,443.19" fill="#c6ff00"/><polygon points="515.30,443.19 520.50,438.77 513.89,433.96 508.67,438.33" fill="#e3ff00"/><polygon points="508.67,438.33 513.89,433.96 507.26,429.16 502.01,433.49" fill="#ffff00"/><polygon points="502.01,433.49 507.26,429.16 500.60,424.37 495.33,428.66" fill="#ffe300"/><polygon points="495.33,428.66 500.60,424.37 493.92,419.60 488.63,423.85" fill="#ffc600"/><polygon points="488.63,423.85 493.92,419.60 487.23,414.84 481.91,419.05" fill="#ffaa00"/><polygon points="617.09,512.72 621.97,507.64 615.71,502.66 610.80,507.69" fill="#00ffb8"/><polygon points="610.80,507.69 615.71,502.66 609.42,497.69 604.49,502.68" fill="#00ff9b"/><polygon points="604.49,502.68 609.42,497.69 603.11,492.74 598.16,497.67" fill="#00ff7f"/><polygon points="598.16,497.67 603.11,492.74 596.77,487.80 591.81,492.69" fill="#00ff63"/><polygon points="591.81,492.69 596.77,487.80 590.42,482.87 585.43,487.71" fill="#00ff46"/><polygon points="585.43,487.71 590.42,482.87 584.05,477.96 579.04,482.76" fill="#00ff2a"/><polygon points="579.04,482.76 584.05,477.96 577.65,473.06 572.62,477.81" fill="#00ff0e"/><polygon points="572.62,477.81 577.65,473.06 571.23,468.18 566.18,472.88" fill="#0fff00"/><polygon points="566.18,472.88 571.23,468.18 564.79,463.31 559.72,467.97" fill="#2bff00"/><polygon points="559.72,467.97 564.79,463.31 558.33,458.45 553.24,463.07" fill="#47ff00"/><polygon points="553.24,463.07 558.33,458.45 551.85,453.61 546.73,458.18" fill="#64ff00"/><polygon points="546.73,458.18 551.85,453.61 545.35,448.78 540.21,453.31" fill="#80ff00"/><polygon points="540.21,453.31 545.35,448.78 538.82,443.96 533.66,448.45" fill="#9cff00"/><polygon points="533.66,448.45 538.82,443.96 532.28,439.16 527.09,443.60" fill="#b9ff00"/><polygon points="527.09,443.60 532.28,439.16 525.71,434.37 520.50,438.77" fill="#d5ff00"/><polygon points="520.50,438.77 525.71,434.37 519.12,429.60 513.89,433.96" fill="#f1ff00"/><polygon points="513.89,433.96 519.12,429.60 512.51,424.84 507.26,429.16" fill="#fff000"/><polygon points="507.26,429.16 512.51,424.84 505.88,420.09 500.60,424.37" fill="#ffd400"/><polygon points="500.60,424.37 505.88,420.09 499.23,415.36 493.92,419.60" fill="#ffb800"/><polygon points="493.92,419.60 499.23,415.36 492.56,410.64 487.23,414.84" fill="#ff9b00"/><polygon points="621.97,507.64 626.87,502.57 620.62,497.64 615.71,502.66" fill="#00ffa9"/><polygon points="615.71,502.66 620.62,497.64 614.35,492.72 609.42,497.69" fill="#00ff8d"/><polygon points="609.42,497.69 614.35,492.72 608.06,487.81 603.11,492.74" fill="#00ff71"/><polygon points="603.11,492.74 608.06,487.81 601.75,482.92 596.77,487.80" fill="#00ff54"/><polygon points="596.77,487.80 601.75,482.92 595.42,478.04 590.42,482.87" fill="#00ff38"/><polygon points="590.42,482.87 595.42,478.04 589.06,473.17 584.05,477.96" fill="#00ff1c"/><polygon points="584.05,477.96 589.06,473.17 582.69,468.32 577.65,473.06" fill="#01ff00"/><polygon points="577.65,473.06 582.69,468.32 576.29,463.48 571.23,468.18" fill="#1dff00"/><polygon points="571.23,468.18 576.29,463.48 569.88,458.66 564.79,463.31" fill="#39ff00"/><polygon points="564.79,463.31 569.88,458.66 563.44,453.84 558.33,458.45" fill="#56ff00"/><polygon points="558.33,458.45 563.44,453.84 556.98,449.04 551.85,453.61" fill="#72ff00"/><polygon points="551.85,453.61 556.98,449.04 550.50,444.26 545.35,448.78" fill="#8eff00"/><polygon points="545.35,448.78 550.50,444.26 544.00,439.48 538.82,443.96" fill="#abff00"/><polygon points="538.82,443.96 544.00,439.48 537.47,434.72 532.28,439.16" fill="#c7ff00"/><polygon points="532.28,439.16 537.47,434.72 530.93,429.98 525.71,434.37" fill="#e3ff00"/><polygon points="525.71,434.37 530.93,429.98 524.37,425.24 519.12,429.60" fill="#fffe00"/><polygon points="519.12,429.60 524.37,425.24 517.78,420.52 512.51,424.84" fill="#ffe200"/><polygon points="512.51,424.84 517.78,420.52 511.17,415.81 505.88,420.09" fill="#ffc600"/><polygon points="505.88,420.09 511.17,415.81 504.55,411.12 499.23,415.36" fill="#ffa900"/><polygon points="499.23,415.36 504.55,411.12 497.90,406.44 492.56,410.64" fill="#ff8d00"/><polygon points="626.87,502.57 631.78,497.51 625.55,492.63 620.62,497.64" fill="#00ff9b"/><polygon points="620.62,497.64 625.55,492.63 619.30,487.76 614.35,492.72" fill="#00ff7e"/><polygon points="614.35,492.72 619.30,487.76 613.03,482.90 608.06,487.81" fill="#00ff62"/><polygon points="608.06,487.81 613.03,482.90 606.74,478.06 601.75,482.92" fill="#00ff46"/><polygon points="601.75,482.92 606.74,478.06 600.42,473.22 595.42,478.04" fill="#00ff29"/><polygon points="595.42,478.04 600.42,473.22 594.09,468.40 589.06,473.17" fill="#00ff0d"/><polygon points="589.06,473.17 594.09,468.40 587.74,463.60 582.69,468.32" fill="#0fff00"/><polygon points="582.69,468.32 587.74,463.60 581.36,458.80 576.29,463.48" fill="#2cff00"/><polygon points="576.29,463.48 581.36,458.80 574.97,454.02 569.88,458.66" fill="#48ff00"/><polygon points="569.88,458.66 574.97,454.02 568.55,449.25 563.44,453.84" fill="#64ff00"/><polygon points="563.44,453.84 568.55,449.25 562.12,444.49 556.98,449.04" fill="#81ff00"/><polygon points="556.98,449.04 562.12,444.49 555.66,439.75 550.50,444.26" fill="#9dff00"/><polygon points="550.50,444.26 555.66,439.75 549.18,435.02 544.00,439.48" fill="#b9ff00"/><polygon points="544.00,439.48 549.18,435.02 542.68,430.30 537.47,434.72" fill="#d6ff00"/><polygon points="537.47,434.72 542.68,430.30 536.16,425.59 530.93,429.98" fill="#f2ff00"/><polygon points="530.93,429.98 536.16,425.59 529.62,420.90 524.37,425.24" fill="#fff000"/><polygon points="524.37,425.24 529.62,420.90 523.06,416.22 517.78,420.52" fill="#ffd300"/><polygon points="517.78,420.52 523.06,416.22 516.48,411.55 511.17,415.81" fill="#ffb700"/><polygon points="511.17,415.81 516.48,411.55 509.87,406.90 504.55,411.12" fill="#ff9b00"/><polygon points="504.55,411.12 509.87,406.90 503.25,402.25 497.90,406.44" fill="#ff7e00"/></g>
<g fill="none" stroke="#050505" stroke-width="0.85" stroke-opacity="0.9"><polyline points="535.35,601.33 528.75,595.42 522.13,589.54 515.48,583.68 508.80,577.84 502.10,572.03 495.37,566.24 488.62,560.48 481.84,554.73 475.03,549.02 468.19,543.32 461.33,537.65 454.45,532.00 447.53,526.38 440.60,520.77 433.63,515.20 426.64,509.64 419.62,504.11 412.58,498.60 405.50,493.12 398.41,487.66"/><polyline points="535.35,601.33 540.09,596.00 544.83,590.69 549.59,585.39 554.35,580.11 559.13,574.84 563.91,569.58 568.70,564.34 573.50,559.12 578.30,553.90 583.12,548.71 587.95,543.52 592.78,538.35 597.62,533.20 602.48,528.06 607.34,522.93 612.21,517.82 617.09,512.72 621.97,507.64 626.87,502.57 631.78,497.51"/><polyline points="540.09,596.00 533.51,590.15 526.90,584.32 520.27,578.51 513.61,572.73 506.93,566.97 500.22,561.23 493.48,555.51 486.72,549.82 479.93,544.15 473.12,538.51 466.27,532.88 459.41,527.28 452.52,521.71 445.60,516.15 438.65,510.62 431.68,505.11 424.68,499.63 417.66,494.16 410.61,488.72 403.54,483.31"/><polyline points="528.75,595.42 533.51,590.15 538.27,584.89 543.04,579.65 547.82,574.41 552.61,569.20 557.41,563.99 562.22,558.81 567.04,553.63 571.87,548.47 576.70,543.32 581.54,538.19 586.40,533.07 591.26,527.97 596.13,522.88 601.01,517.80 605.90,512.74 610.80,507.69 615.71,502.66 620.62,497.64 625.55,492.63"/><polyline points="544.83,590.69 538.27,584.89 531.68,579.11 525.07,573.36 518.43,567.63 511.76,561.92 505.07,556.23 498.35,550.57 491.61,544.92 484.84,539.30 478.05,533.71 471.23,528.13 464.38,522.58 457.51,517.05 450.61,511.54 443.69,506.05 436.74,500.59 429.76,495.15 422.76,489.73 415.73,484.34 408.68,478.96"/><polyline points="522.13,589.54 526.90,584.32 531.68,579.11 536.47,573.92 541.27,568.74 546.08,563.58 550.90,558.43 555.72,553.29 560.56,548.17 565.40,543.06 570.26,537.96 575.12,532.88 579.99,527.81 584.87,522.76 589.76,517.72 594.66,512.69 599.57,507.68 604.49,502.68 609.42,497.69 614.35,492.72 619.30,487.76"/><polyline points="549.59,585.39 543.04,579.65 536.47,573.92 529.88,568.22 523.25,562.54 516.61,556.88 509.93,551.24 503.24,545.63 496.51,540.04 489.76,534.46 482.99,528.92 476.19,523.39 469.36,517.88 462.51,512.40 455.63,506.94 448.73,501.50 441.80,496.08 434.85,490.68 427.87,485.31 420.87,479.96 413.84,474.63"/><polyline points="515.48,583.68 520.27,578.51 525.07,573.36 529.88,568.22 534.69,563.09 539.52,557.98 544.35,552.88 549.20,547.79 554.05,542.72 558.92,537.66 563.79,532.62 568.67,527.58 573.56,522.57 578.46,517.56 583.37,512.57 588.29,507.59 593.22,502.63 598.16,497.67 603.11,492.74 608.06,487.81 613.03,482.90"/><polyline points="554.35,580.11 547.82,574.41 541.27,568.74 534.69,563.09 528.09,557.46 521.46,551.86 514.81,546.27 508.13,540.70 501.42,535.16 494.69,529.64 487.94,524.14 481.16,518.66 474.35,513.20 467.52,507.76 460.67,502.35 453.78,496.95 446.88,491.58 439.95,486.23 432.99,480.90 426.01,475.59 419.00,470.30"/><polyline points="508.80,577.84 513.61,572.73 518.43,567.63 523.25,562.54 528.09,557.46 532.93,552.40 537.79,547.35 542.65,542.32 547.53,537.29 552.41,532.29 557.30,527.29 562.20,522.31 567.11,517.34 572.03,512.38 576.96,507.44 581.90,502.51 586.85,497.59 591.81,492.69 596.77,487.80 601.75,482.92 606.74,478.06"/><polyline points="559.13,574.84 552.61,569.20 546.08,563.58 539.52,557.98 532.93,552.40 526.32,546.84 519.69,541.31 513.03,535.79 506.34,530.30 499.63,524.82 492.90,519.37 486.14,513.94 479.35,508.53 472.55,503.13 465.71,497.76 458.85,492.42 451.97,487.09 445.06,481.78 438.12,476.49 431.16,471.23 424.18,465.98"/><polyline points="502.10,572.03 506.93,566.97 511.76,561.92 516.61,556.88 521.46,551.86 526.32,546.84 531.20,541.85 536.08,536.86 540.97,531.89 545.87,526.93 550.79,521.98 555.71,517.05 560.64,512.13 565.58,507.22 570.53,502.32 575.49,497.44 580.45,492.57 585.43,487.71 590.42,482.87 595.42,478.04 600.42,473.22"/><polyline points="563.91,569.58 557.41,563.99 550.90,558.43 544.35,552.88 537.79,547.35 531.20,541.85 524.58,536.36 517.94,530.89 511.28,525.45 504.59,520.02 497.87,514.61 491.13,509.23 484.37,503.86 477.58,498.52 470.77,493.19 463.93,487.89 457.07,482.61 450.18,477.34 443.27,472.10 436.33,466.87 429.37,461.67"/><polyline points="495.37,566.24 500.22,561.23 505.07,556.23 509.93,551.24 514.81,546.27 519.69,541.31 524.58,536.36 529.48,531.42 534.39,526.50 539.32,521.59 544.25,516.69 549.19,511.80 554.14,506.93 559.10,502.07 564.07,497.22 569.05,492.39 574.04,487.57 579.04,482.76 584.05,477.96 589.06,473.17 594.09,468.40"/><polyline points="568.70,564.34 562.22,558.81 555.72,553.29 549.20,547.79 542.65,542.32 536.08,536.86 529.48,531.42 522.86,526.01 516.22,520.61 509.55,515.23 502.85,509.87 496.13,504.53 489.39,499.21 482.62,493.91 475.83,488.63 469.02,483.37 462.18,478.13 455.31,472.91 448.42,467.71 441.51,462.53 434.57,457.37"/><polyline points="488.62,560.48 493.48,555.51 498.35,550.57 503.24,545.63 508.13,540.70 513.03,535.79 517.94,530.89 522.86,526.01 527.79,521.13 532.74,516.27 537.69,511.42 542.65,506.58 547.62,501.75 552.60,496.94 557.59,492.14 562.59,487.35 567.60,482.58 572.62,477.81 577.65,473.06 582.69,468.32 587.74,463.60"/><polyline points="573.50,559.12 567.04,553.63 560.56,548.17 554.05,542.72 547.53,537.29 540.97,531.89 534.39,526.50 527.79,521.13 521.17,515.78 514.52,510.45 507.85,505.14 501.15,499.85 494.43,494.57 487.68,489.32 480.91,484.08 474.12,478.87 467.30,473.67 460.46,468.49 453.59,463.34 446.70,458.20 439.78,453.08"/><polyline points="481.84,554.73 486.72,549.82 491.61,544.92 496.51,540.04 501.42,535.16 506.34,530.30 511.28,525.45 516.22,520.61 521.17,515.78 526.13,510.97 531.10,506.16 536.08,501.37 541.07,496.59 546.08,491.83 551.09,487.07 556.11,482.33 561.14,477.60 566.18,472.88 571.23,468.18 576.29,463.48 581.36,458.80"/><polyline points="578.30,553.90 571.87,548.47 565.40,543.06 558.92,537.66 552.41,532.29 545.87,526.93 539.32,521.59 532.74,516.27 526.13,510.97 519.50,505.68 512.85,500.42 506.17,495.17 499.47,489.94 492.75,484.73 486.00,479.54 479.23,474.37 472.43,469.22 465.61,464.08 458.77,458.97 451.90,453.87 445.01,448.79"/><polyline points="475.03,549.02 479.93,544.15 484.84,539.30 489.76,534.46 494.69,529.64 499.63,524.82 504.59,520.02 509.55,515.23 514.52,510.45 519.50,505.68 524.49,500.93 529.49,496.18 534.51,491.45 539.53,486.73 544.56,482.02 549.60,477.32 554.66,472.64 559.72,467.97 564.79,463.31 569.88,458.66 574.97,454.02"/><polyline points="583.12,548.71 576.70,543.32 570.26,537.96 563.79,532.62 557.30,527.29 550.79,521.98 544.25,516.69 537.69,511.42 531.10,506.16 524.49,500.93 517.86,495.71 511.21,490.51 504.53,485.33 497.82,480.16 491.10,475.02 484.35,469.89 477.57,464.78 470.78,459.69 463.96,454.61 457.11,449.56 450.24,444.52"/><polyline points="468.19,543.32 473.12,538.51 478.05,533.71 482.99,528.92 487.94,524.14 492.90,519.37 497.87,514.61 502.85,509.87 507.85,505.14 512.85,500.42 517.86,495.71 522.88,491.01 527.92,486.32 532.96,481.65 538.01,476.99 543.08,472.33 548.15,467.69 553.24,463.07 558.33,458.45 563.44,453.84 568.55,449.25"/><polyline points="587.95,543.52 581.54,538.19 575.12,532.88 568.67,527.58 562.20,522.31 555.71,517.05 549.19,511.80 542.65,506.58 536.08,501.37 529.49,496.18 522.88,491.01 516.25,485.86 509.59,480.72 502.91,475.60 496.21,470.50 489.48,465.41 482.73,460.35 475.95,455.30 469.16,450.26 462.34,445.25 455.49,440.25"/><polyline points="461.33,537.65 466.27,532.88 471.23,528.13 476.19,523.39 481.16,518.66 486.14,513.94 491.13,509.23 496.13,504.53 501.15,499.85 506.17,495.17 511.21,490.51 516.25,485.86 521.30,481.21 526.37,476.58 531.44,471.97 536.53,467.36 541.63,462.76 546.73,458.18 551.85,453.61 556.98,449.04 562.12,444.49"/><polyline points="592.78,538.35 586.40,533.07 579.99,527.81 573.56,522.57 567.11,517.34 560.64,512.13 554.14,506.93 547.62,501.75 541.07,496.59 534.51,491.45 527.92,486.32 521.30,481.21 514.67,476.12 508.01,471.05 501.33,465.99 494.62,460.95 487.89,455.92 481.14,450.92 474.37,445.93 467.57,440.95 460.75,436.00"/><polyline points="454.45,532.00 459.41,527.28 464.38,522.58 469.36,517.88 474.35,513.20 479.35,508.53 484.37,503.86 489.39,499.21 494.43,494.57 499.47,489.94 504.53,485.33 509.59,480.72 514.67,476.12 519.76,471.54 524.85,466.96 529.96,462.40 535.08,457.85 540.21,453.31 545.35,448.78 550.50,444.26 555.66,439.75"/><polyline points="597.62,533.20 591.26,527.97 584.87,522.76 578.46,517.56 572.03,512.38 565.58,507.22 559.10,502.07 552.60,496.94 546.08,491.83 539.53,486.73 532.96,481.65 526.37,476.58 519.76,471.54 513.12,466.51 506.46,461.49 499.78,456.49 493.07,451.51 486.34,446.54 479.59,441.60 472.82,436.66 466.02,431.75"/><polyline points="447.53,526.38 452.52,521.71 457.51,517.05 462.51,512.40 467.52,507.76 472.55,503.13 477.58,498.52 482.62,493.91 487.68,489.32 492.75,484.73 497.82,480.16 502.91,475.60 508.01,471.05 513.12,466.51 518.24,461.98 523.37,457.46 528.51,452.95 533.66,448.45 538.82,443.96 544.00,439.48 549.18,435.02"/><polyline points="602.48,528.06 596.13,522.88 589.76,517.72 583.37,512.57 576.96,507.44 570.53,502.32 564.07,497.22 557.59,492.14 551.09,487.07 544.56,482.02 538.01,476.99 531.44,471.97 524.85,466.96 518.24,461.98 511.60,457.00 504.94,452.05 498.26,447.11 491.55,442.18 484.83,437.28 478.08,432.38 471.31,427.51"/><polyline points="440.60,520.77 445.60,516.15 450.61,511.54 455.63,506.94 460.67,502.35 465.71,497.76 470.77,493.19 475.83,488.63 480.91,484.08 486.00,479.54 491.10,475.02 496.21,470.50 501.33,465.99 506.46,461.49 511.60,457.00 516.75,452.53 521.92,448.06 527.09,443.60 532.28,439.16 537.47,434.72 542.68,430.30"/><polyline points="607.34,522.93 601.01,517.80 594.66,512.69 588.29,507.59 581.90,502.51 575.49,497.44 569.05,492.39 562.59,487.35 556.11,482.33 549.60,477.32 543.08,472.33 536.53,467.36 529.96,462.40 523.37,457.46 516.75,452.53 510.12,447.61 503.46,442.71 496.78,437.83 490.07,432.96 483.35,428.11 476.60,423.28"/><polyline points="433.63,515.20 438.65,510.62 443.69,506.05 448.73,501.50 453.78,496.95 458.85,492.42 463.93,487.89 469.02,483.37 474.12,478.87 479.23,474.37 484.35,469.89 489.48,465.41 494.62,460.95 499.78,456.49 504.94,452.05 510.12,447.61 515.30,443.19 520.50,438.77 525.71,434.37 530.93,429.98 536.16,425.59"/><polyline points="612.21,517.82 605.90,512.74 599.57,507.68 593.22,502.63 586.85,497.59 580.45,492.57 574.04,487.57 567.60,482.58 561.14,477.60 554.66,472.64 548.15,467.69 541.63,462.76 535.08,457.85 528.51,452.95 521.92,448.06 515.30,443.19 508.67,438.33 502.01,433.49 495.33,428.66 488.63,423.85 481.91,419.05"/><polyline points="426.64,509.64 431.68,505.11 436.74,500.59 441.80,496.08 446.88,491.58 451.97,487.09 457.07,482.61 462.18,478.13 467.30,473.67 472.43,469.22 477.57,464.78 482.73,460.35 487.89,455.92 493.07,451.51 498.26,447.11 503.46,442.71 508.67,438.33 513.89,433.96 519.12,429.60 524.37,425.24 529.62,420.90"/><polyline points="617.09,512.72 610.80,507.69 604.49,502.68 598.16,497.67 591.81,492.69 585.43,487.71 579.04,482.76 572.62,477.81 566.18,472.88 559.72,467.97 553.24,463.07 546.73,458.18 540.21,453.31 533.66,448.45 527.09,443.60 520.50,438.77 513.89,433.96 507.26,429.16 500.60,424.37 493.92,419.60 487.23,414.84"/><polyline points="419.62,504.11 424.68,499.63 429.76,495.15 434.85,490.68 439.95,486.23 445.06,481.78 450.18,477.34 455.31,472.91 460.46,468.49 465.61,464.08 470.78,459.69 475.95,455.30 481.14,450.92 486.34,446.54 491.55,442.18 496.78,437.83 502.01,433.49 507.26,429.16 512.51,424.84 517.78,420.52 523.06,416.22"/><polyline points="621.97,507.64 615.71,502.66 609.42,497.69 603.11,492.74 596.77,487.80 590.42,482.87 584.05,477.96 577.65,473.06 571.23,468.18 564.79,463.31 558.33,458.45 551.85,453.61 545.35,448.78 538.82,443.96 532.28,439.16 525.71,434.37 519.12,429.60 512.51,424.84 505.88,420.09 499.23,415.36 492.56,410.64"/><polyline points="412.58,498.60 417.66,494.16 422.76,489.73 427.87,485.31 432.99,480.90 438.12,476.49 443.27,472.10 448.42,467.71 453.59,463.34 458.77,458.97 463.96,454.61 469.16,450.26 474.37,445.93 479.59,441.60 484.83,437.28 490.07,432.96 495.33,428.66 500.60,424.37 505.88,420.09 511.17,415.81 516.48,411.55"/><polyline points="626.87,502.57 620.62,497.64 614.35,492.72 608.06,487.81 601.75,482.92 595.42,478.04 589.06,473.17 582.69,468.32 576.29,463.48 569.88,458.66 563.44,453.84 556.98,449.04 550.50,444.26 544.00,439.48 537.47,434.72 530.93,429.98 524.37,425.24 517.78,420.52 511.17,415.81 504.55,411.12 497.90,406.44"/><polyline points="405.50,493.12 410.61,488.72 415.73,484.34 420.87,479.96 426.01,475.59 431.16,471.23 436.33,466.87 441.51,462.53 446.70,458.20 451.90,453.87 457.11,449.56 462.34,445.25 467.57,440.95 472.82,436.66 478.08,432.38 483.35,428.11 488.63,423.85 493.92,419.60 499.23,415.36 504.55,411.12 509.87,406.90"/><polyline points="631.78,497.51 625.55,492.63 619.30,487.76 613.03,482.90 606.74,478.06 600.42,473.22 594.09,468.40 587.74,463.60 581.36,458.80 574.97,454.02 568.55,449.25 562.12,444.49 555.66,439.75 549.18,435.02 542.68,430.30 536.16,425.59 529.62,420.90 523.06,416.22 516.48,411.55 509.87,406.90 503.25,402.25"/><polyline points="398.41,487.66 403.54,483.31 408.68,478.96 413.84,474.63 419.00,470.30 424.18,465.98 429.37,461.67 434.57,457.37 439.78,453.08 445.01,448.79 450.24,444.52 455.49,440.25 460.75,436.00 466.02,431.75 471.31,427.51 476.60,423.28 481.91,419.05 487.23,414.84 492.56,410.64 497.90,406.44 503.25,402.25"/></g>
<circle cx="403.98" cy="553.29" r="1.3" fill="#111"/>
<text x="398.98" y="551.29" font-size="8.5" textLength="12.60" lengthAdjust="spacingAndGlyphs" text-anchor="end" fill="#262626">160</text>
<circle cx="402.44" cy="535.18" r="1.3" fill="#111"/>
<text x="397.44" y="533.18" font-size="8.5" textLength="12.60" lengthAdjust="spacingAndGlyphs" text-anchor="end" fill="#262626">180</text>
<circle cx="400.90" cy="517.06" r="1.3" fill="#111"/>
<text x="395.90" y="515.06" font-size="8.5" textLength="12.60" lengthAdjust="spacingAndGlyphs" text-anchor="end" fill="#262626">200</text>
<circle cx="399.37" cy="498.95" r="1.3" fill="#111"/>
<text x="394.37" y="496.95" font-size="8.5" textLength="12.60" lengthAdjust="spacingAndGlyphs" text-anchor="end" fill="#262626">220</text>
<circle cx="397.83" cy="480.83" r="1.3" fill="#111"/>
<text x="392.83" y="478.83" font-size="8.5" textLength="12.60" lengthAdjust="spacingAndGlyphs" text-anchor="end" fill="#262626">240</text>
<circle cx="396.29" cy="462.72" r="1.3" fill="#111"/>
<text x="391.29" y="460.72" font-size="8.5" textLength="12.60" lengthAdjust="spacingAndGlyphs" text-anchor="end" fill="#262626">260</text>
<circle cx="394.75" cy="444.60" r="1.3" fill="#111"/>
<text x="389.75" y="442.60" font-size="8.5" textLength="12.60" lengthAdjust="spacingAndGlyphs" text-anchor="end" fill="#262626">280</text>
<circle cx="534.75" cy="650.00" r="1.3" fill="#111"/>
<text x="530.15" y="658.80" font-size="8.5" textLength="6.00" lengthAdjust="spacingAndGlyphs" text-anchor="end" fill="#262626">-1</text>
<circle cx="534.75" cy="650.00" r="1.3" fill="#111"/>
<text x="538.85" y="659.00" font-size="8.5" textLength="6.00" lengthAdjust="spacingAndGlyphs" fill="#262626">-1</text>
<circle cx="502.75" cy="633.98" r="1.3" fill="#111"/>
<text x="498.15" y="642.77" font-size="8.5" textLength="13.00" lengthAdjust="spacingAndGlyphs" text-anchor="end" fill="#262626">-0.5</text>
<circle cx="557.60" cy="629.65" r="1.3" fill="#111"/>
<text x="561.70" y="638.65" font-size="8.5" textLength="13.00" lengthAdjust="spacingAndGlyphs" fill="#262626">-0.5</text>
<circle cx="470.75" cy="617.95" r="1.3" fill="#111"/>
<text x="466.15" y="626.75" font-size="8.5" textLength="4.50" lengthAdjust="spacingAndGlyphs" text-anchor="end" fill="#262626">0</text>
<circle cx="580.45" cy="609.30" r="1.3" fill="#111"/>
<text x="584.55" y="618.30" font-size="8.5" textLength="4.50" lengthAdjust="spacingAndGlyphs" fill="#262626">0</text>
<circle cx="438.75" cy="601.92" r="1.3" fill="#111"/>
<text x="434.15" y="610.72" font-size="8.5" textLength="10.00" lengthAdjust="spacingAndGlyphs" text-anchor="end" fill="#262626">0.5</text>
<circle cx="603.30" cy="588.95" r="1.3" fill="#111"/>
<text x="607.40" y="597.95" font-size="8.5" textLength="10.00" lengthAdjust="spacingAndGlyphs" fill="#262626">0.5</text>
<circle cx="406.75" cy="585.90" r="1.3" fill="#111"/>
<text x="402.15" y="594.70" font-size="8.5" textLength="3.60" lengthAdjust="spacingAndGlyphs" text-anchor="end" fill="#262626">1</text>
<circle cx="626.15" cy="568.60" r="1.3" fill="#111"/>
<text x="630.25" y="577.60" font-size="8.5" textLength="3.60" lengthAdjust="spacingAndGlyphs" fill="#262626">1</text>
<text x="433.55" y="651.20" font-size="8.4" textLength="51.50" lengthAdjust="spacingAndGlyphs" text-anchor="middle" fill="#262626">C: Egg Lecithin</text>
<text x="625.85" y="634.60" font-size="8.4" textLength="37.60" lengthAdjust="spacingAndGlyphs" text-anchor="middle" fill="#262626">A: Span 60</text>
<text x="363.30" y="518.80" font-size="8.6" textLength="58.20" lengthAdjust="spacingAndGlyphs" text-anchor="middle" fill="#262626" transform="rotate(-90 363.30 518.80)">Vesicle Size (nm)</text>
<text x="377.10" y="355.80" font-size="7.1" textLength="50.80" lengthAdjust="spacingAndGlyphs" fill="#111" font-weight="bold">Vesicle Size (nm)</text>
<text x="380.00" y="366.20" font-size="6.8" textLength="14.70" lengthAdjust="spacingAndGlyphs" fill="#6060ff">169.7</text>
<rect x="398.60" y="360.40" width="22.1" height="6.2" fill="url(#cb)" stroke="#222" stroke-width="0.5"/>
<text x="425.00" y="366.20" font-size="6.8" textLength="10.50" lengthAdjust="spacingAndGlyphs" fill="#ff4848">276</text>
<text x="377.10" y="394.50" font-size="6.8" textLength="45.60" lengthAdjust="spacingAndGlyphs" fill="#262626">X1 = A: Span 60</text>
<text x="377.10" y="402.60" font-size="6.8" textLength="57.00" lengthAdjust="spacingAndGlyphs" fill="#262626">X2 = C: Egg Lecithin</text>
<text x="377.10" y="418.70" font-size="7.1" textLength="39.30" lengthAdjust="spacingAndGlyphs" fill="#111" font-weight="bold">Coded Factor</text>
<text x="377.10" y="427.20" font-size="6.8" textLength="63.00" lengthAdjust="spacingAndGlyphs" fill="#262626">B: Cholesterol = 0.000</text>
<text x="643.90" y="15.00" font-size="18.5" style="font-family:&quot;Liberation Serif&quot;,serif" textLength="20.00" lengthAdjust="spacingAndGlyphs" fill="#111">(b)</text><text x="299.50" y="360.80" font-size="18.5" style="font-family:&quot;Liberation Serif&quot;,serif" textLength="20.10" lengthAdjust="spacingAndGlyphs" fill="#111">(c)</text><text x="646.80" y="360.80" font-size="18.5" style="font-family:&quot;Liberation Serif&quot;,serif" textLength="20.40" lengthAdjust="spacingAndGlyphs" fill="#111">(d)</text>
</svg>
</body></html>
